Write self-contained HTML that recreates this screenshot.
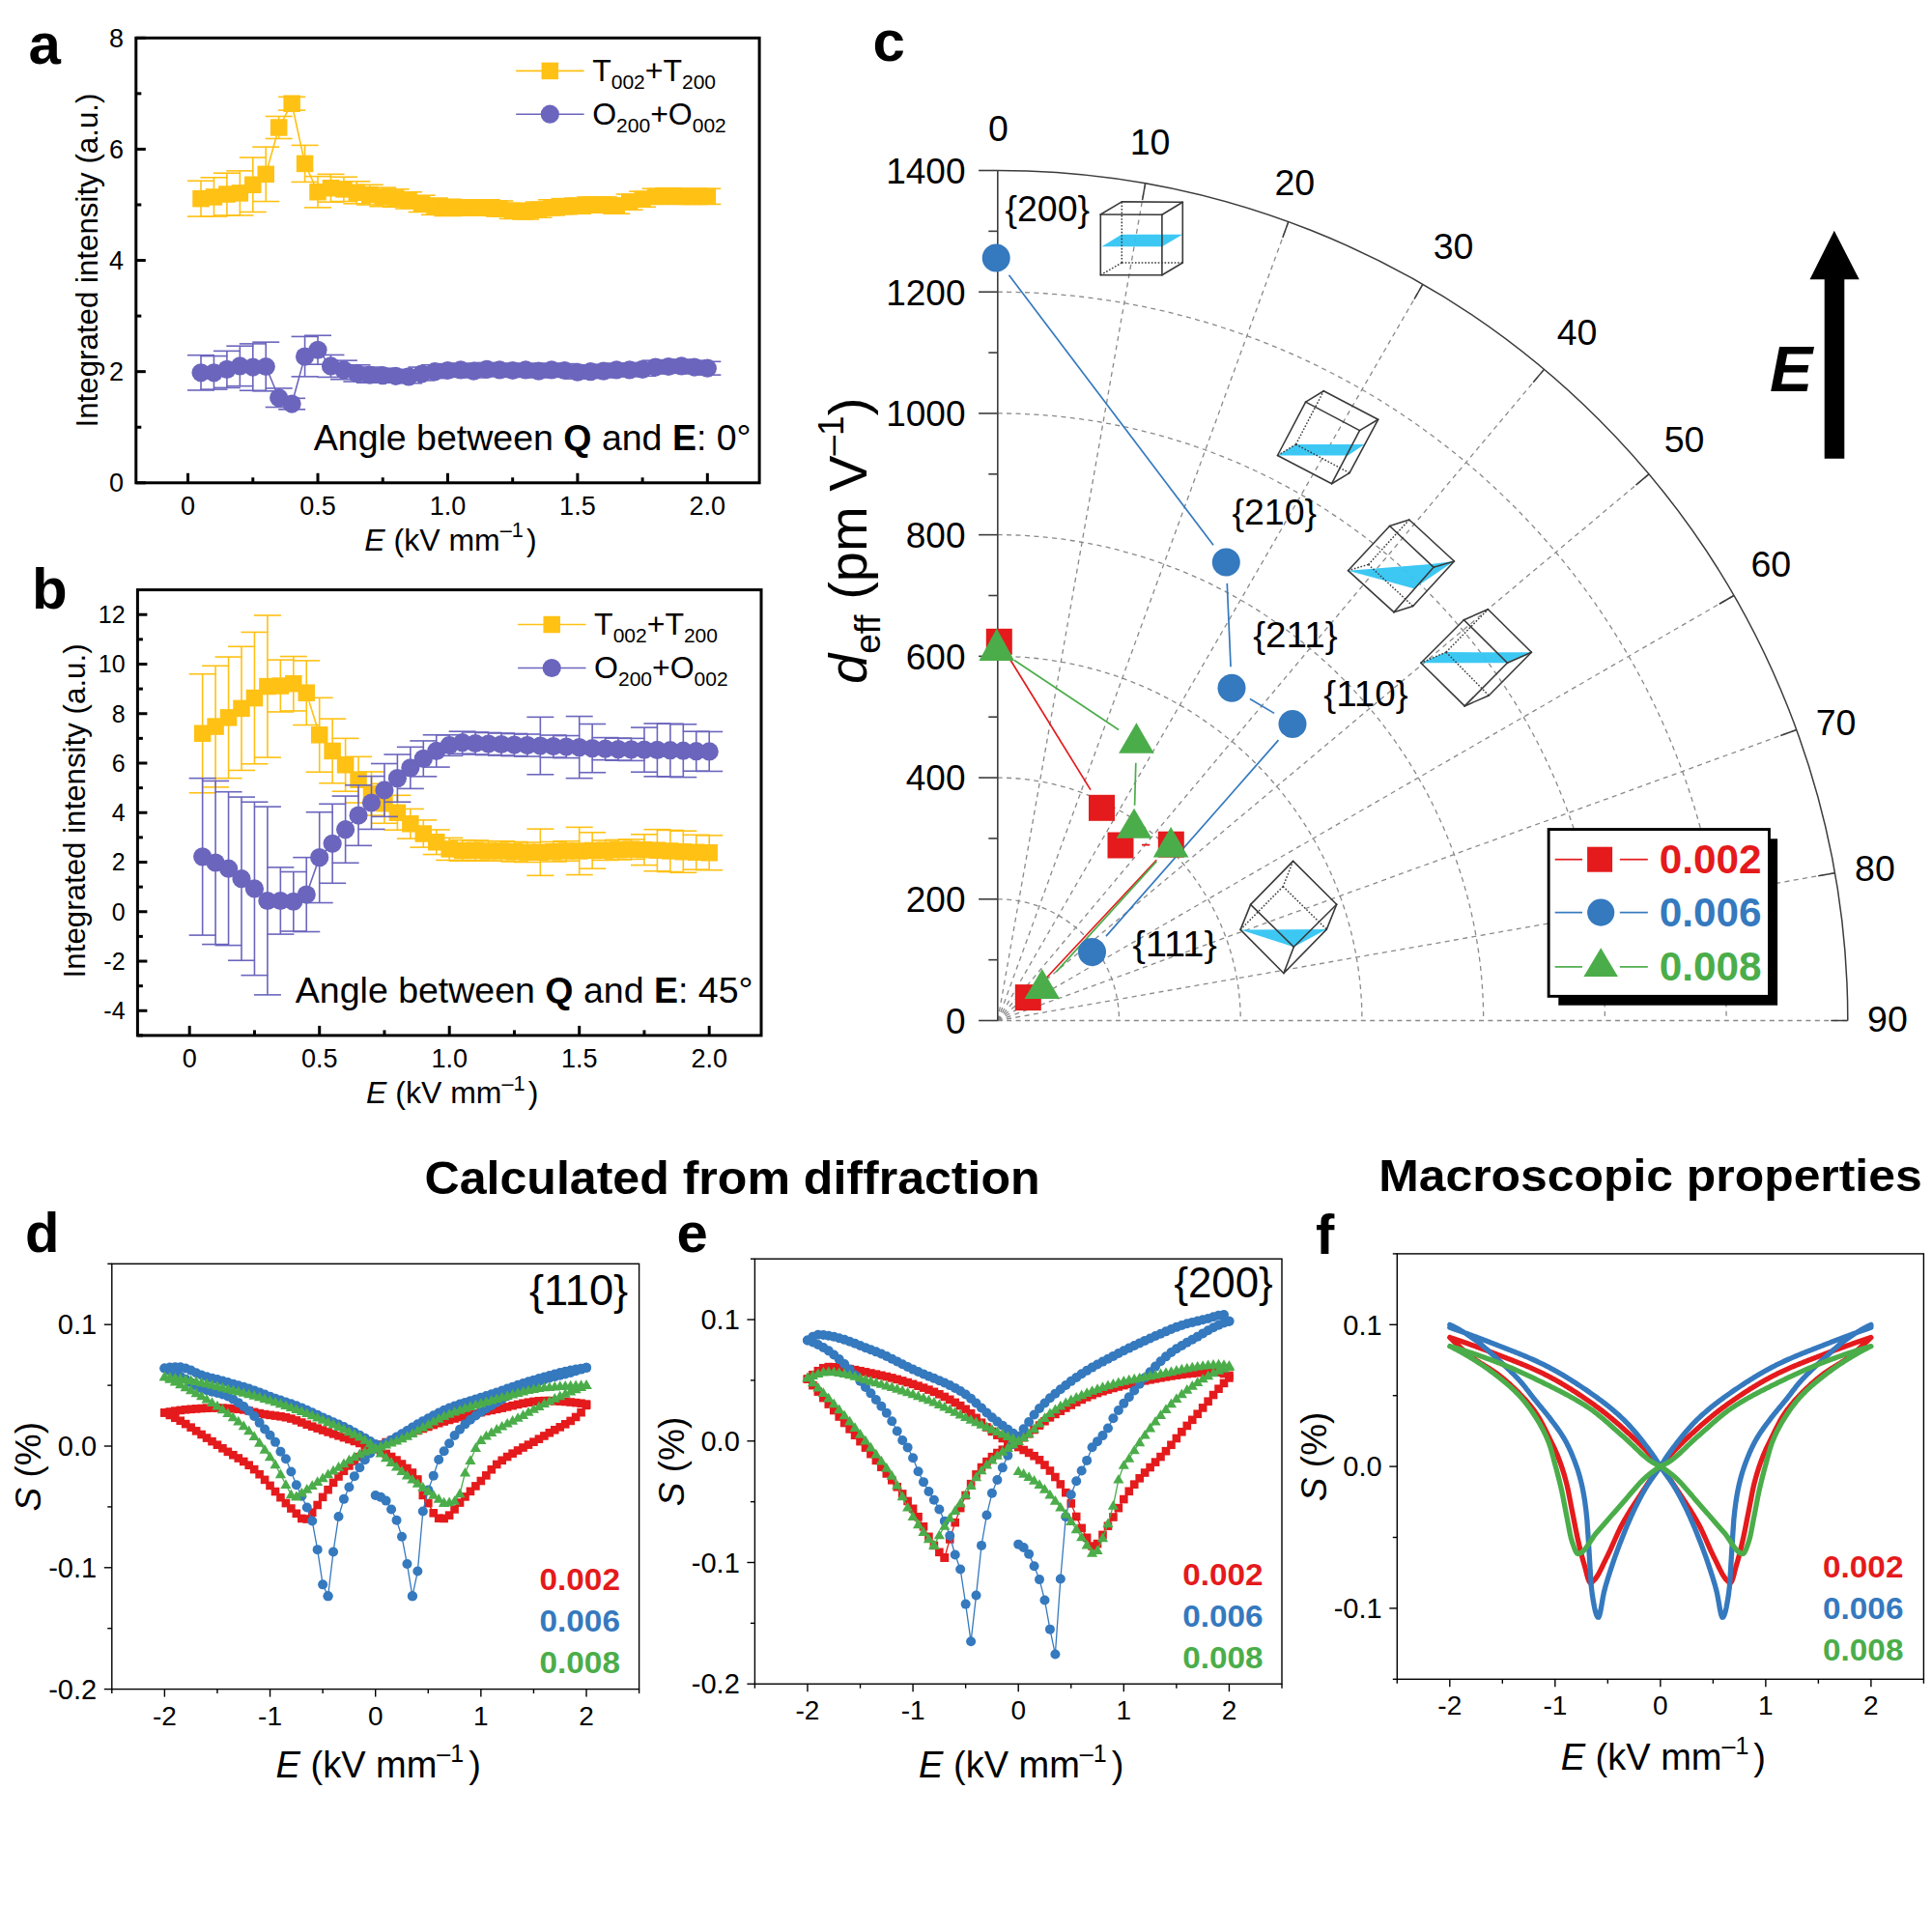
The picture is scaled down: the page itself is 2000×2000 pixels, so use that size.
<!DOCTYPE html>
<html><head><meta charset="utf-8"><title>Figure</title>
<style>html,body{margin:0;padding:0;background:#fff;width:2000px;height:2000px;overflow:hidden}svg{display:block}</style>
</head><body>
<svg xmlns="http://www.w3.org/2000/svg" width="2000" height="2000" viewBox="0 0 2000 2000" font-family='"Liberation Sans", Arial, Helvetica, sans-serif'>
<rect width="2000" height="2000" fill="#fff"/>
<polyline points="208.02,205.66 221.46,203.93 234.91,201.05 248.35,199.9 261.79,191.26 275.24,180.33 288.68,131.98 302.12,107.22 315.57,169.39 329.01,198.75 342.46,194.72 355.9,195.87 369.34,199.32 382.79,201.63 396.23,203.93 409.67,205.08 423.12,207.38 436.56,210.84 450.01,213.71 463.45,214.87 476.89,214.87 490.34,214.87 503.78,214.87 517.22,216.02 530.67,218.32 544.11,218.9 557.56,217.17 571,214.87 584.44,213.71 597.89,213.14 611.33,211.99 624.77,211.99 638.22,213.14 651.66,209.11 665.11,206.23 678.55,203.35 691.99,202.78 705.44,203.35 718.88,203.35 732.33,203.35" fill="none" stroke="#FFC114" stroke-width="1.6" stroke-linejoin="round"/>
<line x1="208.02" y1="187.24" x2="208.02" y2="224.08" stroke="#FFC114" stroke-width="1.6"/>
<line x1="194.02" y1="187.24" x2="222.02" y2="187.24" stroke="#FFC114" stroke-width="1.6"/>
<line x1="194.02" y1="224.08" x2="222.02" y2="224.08" stroke="#FFC114" stroke-width="1.6"/>
<line x1="221.46" y1="183.78" x2="221.46" y2="224.08" stroke="#FFC114" stroke-width="1.6"/>
<line x1="207.46" y1="183.78" x2="235.46" y2="183.78" stroke="#FFC114" stroke-width="1.6"/>
<line x1="207.46" y1="224.08" x2="235.46" y2="224.08" stroke="#FFC114" stroke-width="1.6"/>
<line x1="234.91" y1="179.18" x2="234.91" y2="222.92" stroke="#FFC114" stroke-width="1.6"/>
<line x1="220.91" y1="179.18" x2="248.91" y2="179.18" stroke="#FFC114" stroke-width="1.6"/>
<line x1="220.91" y1="222.92" x2="248.91" y2="222.92" stroke="#FFC114" stroke-width="1.6"/>
<line x1="248.35" y1="176.87" x2="248.35" y2="222.92" stroke="#FFC114" stroke-width="1.6"/>
<line x1="234.35" y1="176.87" x2="262.35" y2="176.87" stroke="#FFC114" stroke-width="1.6"/>
<line x1="234.35" y1="222.92" x2="262.35" y2="222.92" stroke="#FFC114" stroke-width="1.6"/>
<line x1="261.79" y1="163.06" x2="261.79" y2="219.47" stroke="#FFC114" stroke-width="1.6"/>
<line x1="247.79" y1="163.06" x2="275.79" y2="163.06" stroke="#FFC114" stroke-width="1.6"/>
<line x1="247.79" y1="219.47" x2="275.79" y2="219.47" stroke="#FFC114" stroke-width="1.6"/>
<line x1="275.24" y1="152.12" x2="275.24" y2="208.53" stroke="#FFC114" stroke-width="1.6"/>
<line x1="261.24" y1="152.12" x2="289.24" y2="152.12" stroke="#FFC114" stroke-width="1.6"/>
<line x1="261.24" y1="208.53" x2="289.24" y2="208.53" stroke="#FFC114" stroke-width="1.6"/>
<line x1="288.68" y1="120.46" x2="288.68" y2="143.49" stroke="#FFC114" stroke-width="1.6"/>
<line x1="274.68" y1="120.46" x2="302.68" y2="120.46" stroke="#FFC114" stroke-width="1.6"/>
<line x1="274.68" y1="143.49" x2="302.68" y2="143.49" stroke="#FFC114" stroke-width="1.6"/>
<line x1="302.12" y1="100.32" x2="302.12" y2="114.13" stroke="#FFC114" stroke-width="1.6"/>
<line x1="288.12" y1="100.32" x2="316.12" y2="100.32" stroke="#FFC114" stroke-width="1.6"/>
<line x1="288.12" y1="114.13" x2="316.12" y2="114.13" stroke="#FFC114" stroke-width="1.6"/>
<line x1="315.57" y1="150.4" x2="315.57" y2="188.39" stroke="#FFC114" stroke-width="1.6"/>
<line x1="301.57" y1="150.4" x2="329.57" y2="150.4" stroke="#FFC114" stroke-width="1.6"/>
<line x1="301.57" y1="188.39" x2="329.57" y2="188.39" stroke="#FFC114" stroke-width="1.6"/>
<line x1="329.01" y1="182.63" x2="329.01" y2="214.87" stroke="#FFC114" stroke-width="1.6"/>
<line x1="315.01" y1="182.63" x2="343.01" y2="182.63" stroke="#FFC114" stroke-width="1.6"/>
<line x1="315.01" y1="214.87" x2="343.01" y2="214.87" stroke="#FFC114" stroke-width="1.6"/>
<line x1="342.46" y1="180.33" x2="342.46" y2="209.11" stroke="#FFC114" stroke-width="1.6"/>
<line x1="328.46" y1="180.33" x2="356.46" y2="180.33" stroke="#FFC114" stroke-width="1.6"/>
<line x1="328.46" y1="209.11" x2="356.46" y2="209.11" stroke="#FFC114" stroke-width="1.6"/>
<line x1="355.9" y1="183.21" x2="355.9" y2="208.53" stroke="#FFC114" stroke-width="1.6"/>
<line x1="341.9" y1="183.21" x2="369.9" y2="183.21" stroke="#FFC114" stroke-width="1.6"/>
<line x1="341.9" y1="208.53" x2="369.9" y2="208.53" stroke="#FFC114" stroke-width="1.6"/>
<line x1="369.34" y1="187.81" x2="369.34" y2="210.84" stroke="#FFC114" stroke-width="1.6"/>
<line x1="355.34" y1="187.81" x2="383.34" y2="187.81" stroke="#FFC114" stroke-width="1.6"/>
<line x1="355.34" y1="210.84" x2="383.34" y2="210.84" stroke="#FFC114" stroke-width="1.6"/>
<line x1="382.79" y1="191.27" x2="382.79" y2="211.99" stroke="#FFC114" stroke-width="1.6"/>
<line x1="368.79" y1="191.27" x2="396.79" y2="191.27" stroke="#FFC114" stroke-width="1.6"/>
<line x1="368.79" y1="211.99" x2="396.79" y2="211.99" stroke="#FFC114" stroke-width="1.6"/>
<line x1="396.23" y1="194.14" x2="396.23" y2="213.71" stroke="#FFC114" stroke-width="1.6"/>
<line x1="382.23" y1="194.14" x2="410.23" y2="194.14" stroke="#FFC114" stroke-width="1.6"/>
<line x1="382.23" y1="213.71" x2="410.23" y2="213.71" stroke="#FFC114" stroke-width="1.6"/>
<line x1="409.67" y1="195.87" x2="409.67" y2="214.29" stroke="#FFC114" stroke-width="1.6"/>
<line x1="395.67" y1="195.87" x2="423.67" y2="195.87" stroke="#FFC114" stroke-width="1.6"/>
<line x1="395.67" y1="214.29" x2="423.67" y2="214.29" stroke="#FFC114" stroke-width="1.6"/>
<line x1="423.12" y1="198.75" x2="423.12" y2="216.02" stroke="#FFC114" stroke-width="1.6"/>
<line x1="409.12" y1="198.75" x2="437.12" y2="198.75" stroke="#FFC114" stroke-width="1.6"/>
<line x1="409.12" y1="216.02" x2="437.12" y2="216.02" stroke="#FFC114" stroke-width="1.6"/>
<line x1="436.56" y1="202.2" x2="436.56" y2="219.47" stroke="#FFC114" stroke-width="1.6"/>
<line x1="422.56" y1="202.2" x2="450.56" y2="202.2" stroke="#FFC114" stroke-width="1.6"/>
<line x1="422.56" y1="219.47" x2="450.56" y2="219.47" stroke="#FFC114" stroke-width="1.6"/>
<line x1="450.01" y1="205.08" x2="450.01" y2="222.35" stroke="#FFC114" stroke-width="1.6"/>
<line x1="436.01" y1="205.08" x2="464.01" y2="205.08" stroke="#FFC114" stroke-width="1.6"/>
<line x1="436.01" y1="222.35" x2="464.01" y2="222.35" stroke="#FFC114" stroke-width="1.6"/>
<line x1="463.45" y1="206.23" x2="463.45" y2="223.5" stroke="#FFC114" stroke-width="1.6"/>
<line x1="449.45" y1="206.23" x2="477.45" y2="206.23" stroke="#FFC114" stroke-width="1.6"/>
<line x1="449.45" y1="223.5" x2="477.45" y2="223.5" stroke="#FFC114" stroke-width="1.6"/>
<line x1="476.89" y1="206.81" x2="476.89" y2="222.92" stroke="#FFC114" stroke-width="1.6"/>
<line x1="462.89" y1="206.81" x2="490.89" y2="206.81" stroke="#FFC114" stroke-width="1.6"/>
<line x1="462.89" y1="222.92" x2="490.89" y2="222.92" stroke="#FFC114" stroke-width="1.6"/>
<line x1="490.34" y1="206.81" x2="490.34" y2="222.92" stroke="#FFC114" stroke-width="1.6"/>
<line x1="476.34" y1="206.81" x2="504.34" y2="206.81" stroke="#FFC114" stroke-width="1.6"/>
<line x1="476.34" y1="222.92" x2="504.34" y2="222.92" stroke="#FFC114" stroke-width="1.6"/>
<line x1="503.78" y1="206.81" x2="503.78" y2="222.92" stroke="#FFC114" stroke-width="1.6"/>
<line x1="489.78" y1="206.81" x2="517.78" y2="206.81" stroke="#FFC114" stroke-width="1.6"/>
<line x1="489.78" y1="222.92" x2="517.78" y2="222.92" stroke="#FFC114" stroke-width="1.6"/>
<line x1="517.22" y1="207.96" x2="517.22" y2="224.08" stroke="#FFC114" stroke-width="1.6"/>
<line x1="503.22" y1="207.96" x2="531.22" y2="207.96" stroke="#FFC114" stroke-width="1.6"/>
<line x1="503.22" y1="224.08" x2="531.22" y2="224.08" stroke="#FFC114" stroke-width="1.6"/>
<line x1="530.67" y1="210.26" x2="530.67" y2="226.38" stroke="#FFC114" stroke-width="1.6"/>
<line x1="516.67" y1="210.26" x2="544.67" y2="210.26" stroke="#FFC114" stroke-width="1.6"/>
<line x1="516.67" y1="226.38" x2="544.67" y2="226.38" stroke="#FFC114" stroke-width="1.6"/>
<line x1="544.11" y1="210.84" x2="544.11" y2="226.95" stroke="#FFC114" stroke-width="1.6"/>
<line x1="530.11" y1="210.84" x2="558.11" y2="210.84" stroke="#FFC114" stroke-width="1.6"/>
<line x1="530.11" y1="226.95" x2="558.11" y2="226.95" stroke="#FFC114" stroke-width="1.6"/>
<line x1="557.56" y1="209.11" x2="557.56" y2="225.23" stroke="#FFC114" stroke-width="1.6"/>
<line x1="543.56" y1="209.11" x2="571.56" y2="209.11" stroke="#FFC114" stroke-width="1.6"/>
<line x1="543.56" y1="225.23" x2="571.56" y2="225.23" stroke="#FFC114" stroke-width="1.6"/>
<line x1="571" y1="206.81" x2="571" y2="222.92" stroke="#FFC114" stroke-width="1.6"/>
<line x1="557" y1="206.81" x2="585" y2="206.81" stroke="#FFC114" stroke-width="1.6"/>
<line x1="557" y1="222.92" x2="585" y2="222.92" stroke="#FFC114" stroke-width="1.6"/>
<line x1="584.44" y1="205.66" x2="584.44" y2="221.77" stroke="#FFC114" stroke-width="1.6"/>
<line x1="570.44" y1="205.66" x2="598.44" y2="205.66" stroke="#FFC114" stroke-width="1.6"/>
<line x1="570.44" y1="221.77" x2="598.44" y2="221.77" stroke="#FFC114" stroke-width="1.6"/>
<line x1="597.89" y1="205.08" x2="597.89" y2="221.2" stroke="#FFC114" stroke-width="1.6"/>
<line x1="583.89" y1="205.08" x2="611.89" y2="205.08" stroke="#FFC114" stroke-width="1.6"/>
<line x1="583.89" y1="221.2" x2="611.89" y2="221.2" stroke="#FFC114" stroke-width="1.6"/>
<line x1="611.33" y1="203.93" x2="611.33" y2="220.05" stroke="#FFC114" stroke-width="1.6"/>
<line x1="597.33" y1="203.93" x2="625.33" y2="203.93" stroke="#FFC114" stroke-width="1.6"/>
<line x1="597.33" y1="220.05" x2="625.33" y2="220.05" stroke="#FFC114" stroke-width="1.6"/>
<line x1="624.77" y1="203.93" x2="624.77" y2="220.05" stroke="#FFC114" stroke-width="1.6"/>
<line x1="610.77" y1="203.93" x2="638.77" y2="203.93" stroke="#FFC114" stroke-width="1.6"/>
<line x1="610.77" y1="220.05" x2="638.77" y2="220.05" stroke="#FFC114" stroke-width="1.6"/>
<line x1="638.22" y1="205.08" x2="638.22" y2="221.2" stroke="#FFC114" stroke-width="1.6"/>
<line x1="624.22" y1="205.08" x2="652.22" y2="205.08" stroke="#FFC114" stroke-width="1.6"/>
<line x1="624.22" y1="221.2" x2="652.22" y2="221.2" stroke="#FFC114" stroke-width="1.6"/>
<line x1="651.66" y1="201.05" x2="651.66" y2="217.17" stroke="#FFC114" stroke-width="1.6"/>
<line x1="637.66" y1="201.05" x2="665.66" y2="201.05" stroke="#FFC114" stroke-width="1.6"/>
<line x1="637.66" y1="217.17" x2="665.66" y2="217.17" stroke="#FFC114" stroke-width="1.6"/>
<line x1="665.11" y1="198.17" x2="665.11" y2="214.29" stroke="#FFC114" stroke-width="1.6"/>
<line x1="651.11" y1="198.17" x2="679.11" y2="198.17" stroke="#FFC114" stroke-width="1.6"/>
<line x1="651.11" y1="214.29" x2="679.11" y2="214.29" stroke="#FFC114" stroke-width="1.6"/>
<line x1="678.55" y1="195.29" x2="678.55" y2="211.41" stroke="#FFC114" stroke-width="1.6"/>
<line x1="664.55" y1="195.29" x2="692.55" y2="195.29" stroke="#FFC114" stroke-width="1.6"/>
<line x1="664.55" y1="211.41" x2="692.55" y2="211.41" stroke="#FFC114" stroke-width="1.6"/>
<line x1="691.99" y1="194.72" x2="691.99" y2="210.84" stroke="#FFC114" stroke-width="1.6"/>
<line x1="677.99" y1="194.72" x2="705.99" y2="194.72" stroke="#FFC114" stroke-width="1.6"/>
<line x1="677.99" y1="210.84" x2="705.99" y2="210.84" stroke="#FFC114" stroke-width="1.6"/>
<line x1="705.44" y1="195.29" x2="705.44" y2="211.41" stroke="#FFC114" stroke-width="1.6"/>
<line x1="691.44" y1="195.29" x2="719.44" y2="195.29" stroke="#FFC114" stroke-width="1.6"/>
<line x1="691.44" y1="211.41" x2="719.44" y2="211.41" stroke="#FFC114" stroke-width="1.6"/>
<line x1="718.88" y1="195.29" x2="718.88" y2="211.41" stroke="#FFC114" stroke-width="1.6"/>
<line x1="704.88" y1="195.29" x2="732.88" y2="195.29" stroke="#FFC114" stroke-width="1.6"/>
<line x1="704.88" y1="211.41" x2="732.88" y2="211.41" stroke="#FFC114" stroke-width="1.6"/>
<line x1="732.33" y1="195.29" x2="732.33" y2="211.41" stroke="#FFC114" stroke-width="1.6"/>
<line x1="718.33" y1="195.29" x2="746.33" y2="195.29" stroke="#FFC114" stroke-width="1.6"/>
<line x1="718.33" y1="211.41" x2="746.33" y2="211.41" stroke="#FFC114" stroke-width="1.6"/>
<rect x="199.27" y="196.91" width="17.5" height="17.5" fill="#FFC114" stroke="none" stroke-width="0"/>
<rect x="212.71" y="195.18" width="17.5" height="17.5" fill="#FFC114" stroke="none" stroke-width="0"/>
<rect x="226.16" y="192.3" width="17.5" height="17.5" fill="#FFC114" stroke="none" stroke-width="0"/>
<rect x="239.6" y="191.15" width="17.5" height="17.5" fill="#FFC114" stroke="none" stroke-width="0"/>
<rect x="253.04" y="182.51" width="17.5" height="17.5" fill="#FFC114" stroke="none" stroke-width="0"/>
<rect x="266.49" y="171.58" width="17.5" height="17.5" fill="#FFC114" stroke="none" stroke-width="0"/>
<rect x="279.93" y="123.23" width="17.5" height="17.5" fill="#FFC114" stroke="none" stroke-width="0"/>
<rect x="293.38" y="98.47" width="17.5" height="17.5" fill="#FFC114" stroke="none" stroke-width="0"/>
<rect x="306.82" y="160.64" width="17.5" height="17.5" fill="#FFC114" stroke="none" stroke-width="0"/>
<rect x="320.26" y="190" width="17.5" height="17.5" fill="#FFC114" stroke="none" stroke-width="0"/>
<rect x="333.71" y="185.97" width="17.5" height="17.5" fill="#FFC114" stroke="none" stroke-width="0"/>
<rect x="347.15" y="187.12" width="17.5" height="17.5" fill="#FFC114" stroke="none" stroke-width="0"/>
<rect x="360.59" y="190.57" width="17.5" height="17.5" fill="#FFC114" stroke="none" stroke-width="0"/>
<rect x="374.04" y="192.88" width="17.5" height="17.5" fill="#FFC114" stroke="none" stroke-width="0"/>
<rect x="387.48" y="195.18" width="17.5" height="17.5" fill="#FFC114" stroke="none" stroke-width="0"/>
<rect x="400.92" y="196.33" width="17.5" height="17.5" fill="#FFC114" stroke="none" stroke-width="0"/>
<rect x="414.37" y="198.63" width="17.5" height="17.5" fill="#FFC114" stroke="none" stroke-width="0"/>
<rect x="427.81" y="202.09" width="17.5" height="17.5" fill="#FFC114" stroke="none" stroke-width="0"/>
<rect x="441.26" y="204.96" width="17.5" height="17.5" fill="#FFC114" stroke="none" stroke-width="0"/>
<rect x="454.7" y="206.12" width="17.5" height="17.5" fill="#FFC114" stroke="none" stroke-width="0"/>
<rect x="468.14" y="206.12" width="17.5" height="17.5" fill="#FFC114" stroke="none" stroke-width="0"/>
<rect x="481.59" y="206.12" width="17.5" height="17.5" fill="#FFC114" stroke="none" stroke-width="0"/>
<rect x="495.03" y="206.12" width="17.5" height="17.5" fill="#FFC114" stroke="none" stroke-width="0"/>
<rect x="508.47" y="207.27" width="17.5" height="17.5" fill="#FFC114" stroke="none" stroke-width="0"/>
<rect x="521.92" y="209.57" width="17.5" height="17.5" fill="#FFC114" stroke="none" stroke-width="0"/>
<rect x="535.36" y="210.15" width="17.5" height="17.5" fill="#FFC114" stroke="none" stroke-width="0"/>
<rect x="548.81" y="208.42" width="17.5" height="17.5" fill="#FFC114" stroke="none" stroke-width="0"/>
<rect x="562.25" y="206.12" width="17.5" height="17.5" fill="#FFC114" stroke="none" stroke-width="0"/>
<rect x="575.69" y="204.96" width="17.5" height="17.5" fill="#FFC114" stroke="none" stroke-width="0"/>
<rect x="589.14" y="204.39" width="17.5" height="17.5" fill="#FFC114" stroke="none" stroke-width="0"/>
<rect x="602.58" y="203.24" width="17.5" height="17.5" fill="#FFC114" stroke="none" stroke-width="0"/>
<rect x="616.02" y="203.24" width="17.5" height="17.5" fill="#FFC114" stroke="none" stroke-width="0"/>
<rect x="629.47" y="204.39" width="17.5" height="17.5" fill="#FFC114" stroke="none" stroke-width="0"/>
<rect x="642.91" y="200.36" width="17.5" height="17.5" fill="#FFC114" stroke="none" stroke-width="0"/>
<rect x="656.36" y="197.48" width="17.5" height="17.5" fill="#FFC114" stroke="none" stroke-width="0"/>
<rect x="669.8" y="194.6" width="17.5" height="17.5" fill="#FFC114" stroke="none" stroke-width="0"/>
<rect x="683.24" y="194.03" width="17.5" height="17.5" fill="#FFC114" stroke="none" stroke-width="0"/>
<rect x="696.69" y="194.6" width="17.5" height="17.5" fill="#FFC114" stroke="none" stroke-width="0"/>
<rect x="710.13" y="194.6" width="17.5" height="17.5" fill="#FFC114" stroke="none" stroke-width="0"/>
<rect x="723.58" y="194.6" width="17.5" height="17.5" fill="#FFC114" stroke="none" stroke-width="0"/>
<polyline points="208.02,385.83 221.46,385.83 234.91,382.37 248.35,378.92 261.79,380.07 275.24,379.49 288.68,411.73 302.12,418.06 315.57,369.13 329.01,362.23 342.46,378.92 355.9,382.95 369.34,386.4 382.79,388.13 396.23,388.7 409.67,389.28 423.12,389.86 436.56,386.98 450.01,384.68 463.45,383.52 476.89,382.95 490.34,384.1 503.78,382.37 517.22,382.95 530.67,383.52 544.11,382.95 557.56,384.1 571,382.95 584.44,383.52 597.89,385.25 611.33,384.68 624.77,384.1 638.22,382.95 651.66,382.95 665.11,382.37 678.55,380.07 691.99,379.49 705.44,378.92 718.88,380.07 732.33,381.22" fill="none" stroke="#6B65BD" stroke-width="1.6" stroke-linejoin="round"/>
<line x1="208.02" y1="367.69" x2="208.02" y2="403.96" stroke="#6B65BD" stroke-width="1.6"/>
<line x1="194.02" y1="367.69" x2="222.02" y2="367.69" stroke="#6B65BD" stroke-width="1.6"/>
<line x1="194.02" y1="403.96" x2="222.02" y2="403.96" stroke="#6B65BD" stroke-width="1.6"/>
<line x1="221.46" y1="368.56" x2="221.46" y2="403.1" stroke="#6B65BD" stroke-width="1.6"/>
<line x1="207.46" y1="368.56" x2="235.46" y2="368.56" stroke="#6B65BD" stroke-width="1.6"/>
<line x1="207.46" y1="403.1" x2="235.46" y2="403.1" stroke="#6B65BD" stroke-width="1.6"/>
<line x1="234.91" y1="363.38" x2="234.91" y2="401.37" stroke="#6B65BD" stroke-width="1.6"/>
<line x1="220.91" y1="363.38" x2="248.91" y2="363.38" stroke="#6B65BD" stroke-width="1.6"/>
<line x1="220.91" y1="401.37" x2="248.91" y2="401.37" stroke="#6B65BD" stroke-width="1.6"/>
<line x1="248.35" y1="358.2" x2="248.35" y2="399.64" stroke="#6B65BD" stroke-width="1.6"/>
<line x1="234.35" y1="358.2" x2="262.35" y2="358.2" stroke="#6B65BD" stroke-width="1.6"/>
<line x1="234.35" y1="399.64" x2="262.35" y2="399.64" stroke="#6B65BD" stroke-width="1.6"/>
<line x1="261.79" y1="355.89" x2="261.79" y2="404.25" stroke="#6B65BD" stroke-width="1.6"/>
<line x1="247.79" y1="355.89" x2="275.79" y2="355.89" stroke="#6B65BD" stroke-width="1.6"/>
<line x1="247.79" y1="404.25" x2="275.79" y2="404.25" stroke="#6B65BD" stroke-width="1.6"/>
<line x1="275.24" y1="354.17" x2="275.24" y2="404.82" stroke="#6B65BD" stroke-width="1.6"/>
<line x1="261.24" y1="354.17" x2="289.24" y2="354.17" stroke="#6B65BD" stroke-width="1.6"/>
<line x1="261.24" y1="404.82" x2="289.24" y2="404.82" stroke="#6B65BD" stroke-width="1.6"/>
<line x1="288.68" y1="401.94" x2="288.68" y2="421.51" stroke="#6B65BD" stroke-width="1.6"/>
<line x1="274.68" y1="401.94" x2="302.68" y2="401.94" stroke="#6B65BD" stroke-width="1.6"/>
<line x1="274.68" y1="421.51" x2="302.68" y2="421.51" stroke="#6B65BD" stroke-width="1.6"/>
<line x1="302.12" y1="412.31" x2="302.12" y2="423.82" stroke="#6B65BD" stroke-width="1.6"/>
<line x1="288.12" y1="412.31" x2="316.12" y2="412.31" stroke="#6B65BD" stroke-width="1.6"/>
<line x1="288.12" y1="423.82" x2="316.12" y2="423.82" stroke="#6B65BD" stroke-width="1.6"/>
<line x1="315.57" y1="348.41" x2="315.57" y2="389.86" stroke="#6B65BD" stroke-width="1.6"/>
<line x1="301.57" y1="348.41" x2="329.57" y2="348.41" stroke="#6B65BD" stroke-width="1.6"/>
<line x1="301.57" y1="389.86" x2="329.57" y2="389.86" stroke="#6B65BD" stroke-width="1.6"/>
<line x1="329.01" y1="347.26" x2="329.01" y2="377.19" stroke="#6B65BD" stroke-width="1.6"/>
<line x1="315.01" y1="347.26" x2="343.01" y2="347.26" stroke="#6B65BD" stroke-width="1.6"/>
<line x1="315.01" y1="377.19" x2="343.01" y2="377.19" stroke="#6B65BD" stroke-width="1.6"/>
<line x1="342.46" y1="367.41" x2="342.46" y2="390.43" stroke="#6B65BD" stroke-width="1.6"/>
<line x1="328.46" y1="367.41" x2="356.46" y2="367.41" stroke="#6B65BD" stroke-width="1.6"/>
<line x1="328.46" y1="390.43" x2="356.46" y2="390.43" stroke="#6B65BD" stroke-width="1.6"/>
<line x1="355.9" y1="373.16" x2="355.9" y2="392.73" stroke="#6B65BD" stroke-width="1.6"/>
<line x1="341.9" y1="373.16" x2="369.9" y2="373.16" stroke="#6B65BD" stroke-width="1.6"/>
<line x1="341.9" y1="392.73" x2="369.9" y2="392.73" stroke="#6B65BD" stroke-width="1.6"/>
<line x1="369.34" y1="377.77" x2="369.34" y2="395.04" stroke="#6B65BD" stroke-width="1.6"/>
<line x1="355.34" y1="377.77" x2="383.34" y2="377.77" stroke="#6B65BD" stroke-width="1.6"/>
<line x1="355.34" y1="395.04" x2="383.34" y2="395.04" stroke="#6B65BD" stroke-width="1.6"/>
<line x1="382.79" y1="380.07" x2="382.79" y2="396.19" stroke="#6B65BD" stroke-width="1.6"/>
<line x1="368.79" y1="380.07" x2="396.79" y2="380.07" stroke="#6B65BD" stroke-width="1.6"/>
<line x1="368.79" y1="396.19" x2="396.79" y2="396.19" stroke="#6B65BD" stroke-width="1.6"/>
<line x1="396.23" y1="381.22" x2="396.23" y2="396.19" stroke="#6B65BD" stroke-width="1.6"/>
<line x1="382.23" y1="381.22" x2="410.23" y2="381.22" stroke="#6B65BD" stroke-width="1.6"/>
<line x1="382.23" y1="396.19" x2="410.23" y2="396.19" stroke="#6B65BD" stroke-width="1.6"/>
<line x1="409.67" y1="382.37" x2="409.67" y2="396.19" stroke="#6B65BD" stroke-width="1.6"/>
<line x1="395.67" y1="382.37" x2="423.67" y2="382.37" stroke="#6B65BD" stroke-width="1.6"/>
<line x1="395.67" y1="396.19" x2="423.67" y2="396.19" stroke="#6B65BD" stroke-width="1.6"/>
<line x1="423.12" y1="382.95" x2="423.12" y2="396.76" stroke="#6B65BD" stroke-width="1.6"/>
<line x1="409.12" y1="382.95" x2="437.12" y2="382.95" stroke="#6B65BD" stroke-width="1.6"/>
<line x1="409.12" y1="396.76" x2="437.12" y2="396.76" stroke="#6B65BD" stroke-width="1.6"/>
<line x1="436.56" y1="380.07" x2="436.56" y2="393.89" stroke="#6B65BD" stroke-width="1.6"/>
<line x1="422.56" y1="380.07" x2="450.56" y2="380.07" stroke="#6B65BD" stroke-width="1.6"/>
<line x1="422.56" y1="393.89" x2="450.56" y2="393.89" stroke="#6B65BD" stroke-width="1.6"/>
<line x1="450.01" y1="377.77" x2="450.01" y2="391.58" stroke="#6B65BD" stroke-width="1.6"/>
<line x1="436.01" y1="377.77" x2="464.01" y2="377.77" stroke="#6B65BD" stroke-width="1.6"/>
<line x1="436.01" y1="391.58" x2="464.01" y2="391.58" stroke="#6B65BD" stroke-width="1.6"/>
<line x1="463.45" y1="376.62" x2="463.45" y2="390.43" stroke="#6B65BD" stroke-width="1.6"/>
<line x1="449.45" y1="376.62" x2="477.45" y2="376.62" stroke="#6B65BD" stroke-width="1.6"/>
<line x1="449.45" y1="390.43" x2="477.45" y2="390.43" stroke="#6B65BD" stroke-width="1.6"/>
<line x1="476.89" y1="376.04" x2="476.89" y2="389.86" stroke="#6B65BD" stroke-width="1.6"/>
<line x1="462.89" y1="376.04" x2="490.89" y2="376.04" stroke="#6B65BD" stroke-width="1.6"/>
<line x1="462.89" y1="389.86" x2="490.89" y2="389.86" stroke="#6B65BD" stroke-width="1.6"/>
<line x1="490.34" y1="377.19" x2="490.34" y2="391.01" stroke="#6B65BD" stroke-width="1.6"/>
<line x1="476.34" y1="377.19" x2="504.34" y2="377.19" stroke="#6B65BD" stroke-width="1.6"/>
<line x1="476.34" y1="391.01" x2="504.34" y2="391.01" stroke="#6B65BD" stroke-width="1.6"/>
<line x1="503.78" y1="375.46" x2="503.78" y2="389.28" stroke="#6B65BD" stroke-width="1.6"/>
<line x1="489.78" y1="375.46" x2="517.78" y2="375.46" stroke="#6B65BD" stroke-width="1.6"/>
<line x1="489.78" y1="389.28" x2="517.78" y2="389.28" stroke="#6B65BD" stroke-width="1.6"/>
<line x1="517.22" y1="376.04" x2="517.22" y2="389.86" stroke="#6B65BD" stroke-width="1.6"/>
<line x1="503.22" y1="376.04" x2="531.22" y2="376.04" stroke="#6B65BD" stroke-width="1.6"/>
<line x1="503.22" y1="389.86" x2="531.22" y2="389.86" stroke="#6B65BD" stroke-width="1.6"/>
<line x1="530.67" y1="376.62" x2="530.67" y2="390.43" stroke="#6B65BD" stroke-width="1.6"/>
<line x1="516.67" y1="376.62" x2="544.67" y2="376.62" stroke="#6B65BD" stroke-width="1.6"/>
<line x1="516.67" y1="390.43" x2="544.67" y2="390.43" stroke="#6B65BD" stroke-width="1.6"/>
<line x1="544.11" y1="376.04" x2="544.11" y2="389.86" stroke="#6B65BD" stroke-width="1.6"/>
<line x1="530.11" y1="376.04" x2="558.11" y2="376.04" stroke="#6B65BD" stroke-width="1.6"/>
<line x1="530.11" y1="389.86" x2="558.11" y2="389.86" stroke="#6B65BD" stroke-width="1.6"/>
<line x1="557.56" y1="377.19" x2="557.56" y2="391.01" stroke="#6B65BD" stroke-width="1.6"/>
<line x1="543.56" y1="377.19" x2="571.56" y2="377.19" stroke="#6B65BD" stroke-width="1.6"/>
<line x1="543.56" y1="391.01" x2="571.56" y2="391.01" stroke="#6B65BD" stroke-width="1.6"/>
<line x1="571" y1="376.04" x2="571" y2="389.86" stroke="#6B65BD" stroke-width="1.6"/>
<line x1="557" y1="376.04" x2="585" y2="376.04" stroke="#6B65BD" stroke-width="1.6"/>
<line x1="557" y1="389.86" x2="585" y2="389.86" stroke="#6B65BD" stroke-width="1.6"/>
<line x1="584.44" y1="376.62" x2="584.44" y2="390.43" stroke="#6B65BD" stroke-width="1.6"/>
<line x1="570.44" y1="376.62" x2="598.44" y2="376.62" stroke="#6B65BD" stroke-width="1.6"/>
<line x1="570.44" y1="390.43" x2="598.44" y2="390.43" stroke="#6B65BD" stroke-width="1.6"/>
<line x1="597.89" y1="378.34" x2="597.89" y2="392.16" stroke="#6B65BD" stroke-width="1.6"/>
<line x1="583.89" y1="378.34" x2="611.89" y2="378.34" stroke="#6B65BD" stroke-width="1.6"/>
<line x1="583.89" y1="392.16" x2="611.89" y2="392.16" stroke="#6B65BD" stroke-width="1.6"/>
<line x1="611.33" y1="377.77" x2="611.33" y2="391.58" stroke="#6B65BD" stroke-width="1.6"/>
<line x1="597.33" y1="377.77" x2="625.33" y2="377.77" stroke="#6B65BD" stroke-width="1.6"/>
<line x1="597.33" y1="391.58" x2="625.33" y2="391.58" stroke="#6B65BD" stroke-width="1.6"/>
<line x1="624.77" y1="377.19" x2="624.77" y2="391.01" stroke="#6B65BD" stroke-width="1.6"/>
<line x1="610.77" y1="377.19" x2="638.77" y2="377.19" stroke="#6B65BD" stroke-width="1.6"/>
<line x1="610.77" y1="391.01" x2="638.77" y2="391.01" stroke="#6B65BD" stroke-width="1.6"/>
<line x1="638.22" y1="376.04" x2="638.22" y2="389.86" stroke="#6B65BD" stroke-width="1.6"/>
<line x1="624.22" y1="376.04" x2="652.22" y2="376.04" stroke="#6B65BD" stroke-width="1.6"/>
<line x1="624.22" y1="389.86" x2="652.22" y2="389.86" stroke="#6B65BD" stroke-width="1.6"/>
<line x1="651.66" y1="376.04" x2="651.66" y2="389.86" stroke="#6B65BD" stroke-width="1.6"/>
<line x1="637.66" y1="376.04" x2="665.66" y2="376.04" stroke="#6B65BD" stroke-width="1.6"/>
<line x1="637.66" y1="389.86" x2="665.66" y2="389.86" stroke="#6B65BD" stroke-width="1.6"/>
<line x1="665.11" y1="375.46" x2="665.11" y2="389.28" stroke="#6B65BD" stroke-width="1.6"/>
<line x1="651.11" y1="375.46" x2="679.11" y2="375.46" stroke="#6B65BD" stroke-width="1.6"/>
<line x1="651.11" y1="389.28" x2="679.11" y2="389.28" stroke="#6B65BD" stroke-width="1.6"/>
<line x1="678.55" y1="373.16" x2="678.55" y2="386.98" stroke="#6B65BD" stroke-width="1.6"/>
<line x1="664.55" y1="373.16" x2="692.55" y2="373.16" stroke="#6B65BD" stroke-width="1.6"/>
<line x1="664.55" y1="386.98" x2="692.55" y2="386.98" stroke="#6B65BD" stroke-width="1.6"/>
<line x1="691.99" y1="372.59" x2="691.99" y2="386.4" stroke="#6B65BD" stroke-width="1.6"/>
<line x1="677.99" y1="372.59" x2="705.99" y2="372.59" stroke="#6B65BD" stroke-width="1.6"/>
<line x1="677.99" y1="386.4" x2="705.99" y2="386.4" stroke="#6B65BD" stroke-width="1.6"/>
<line x1="705.44" y1="372.01" x2="705.44" y2="385.83" stroke="#6B65BD" stroke-width="1.6"/>
<line x1="691.44" y1="372.01" x2="719.44" y2="372.01" stroke="#6B65BD" stroke-width="1.6"/>
<line x1="691.44" y1="385.83" x2="719.44" y2="385.83" stroke="#6B65BD" stroke-width="1.6"/>
<line x1="718.88" y1="373.16" x2="718.88" y2="386.98" stroke="#6B65BD" stroke-width="1.6"/>
<line x1="704.88" y1="373.16" x2="732.88" y2="373.16" stroke="#6B65BD" stroke-width="1.6"/>
<line x1="704.88" y1="386.98" x2="732.88" y2="386.98" stroke="#6B65BD" stroke-width="1.6"/>
<line x1="732.33" y1="374.31" x2="732.33" y2="388.13" stroke="#6B65BD" stroke-width="1.6"/>
<line x1="718.33" y1="374.31" x2="746.33" y2="374.31" stroke="#6B65BD" stroke-width="1.6"/>
<line x1="718.33" y1="388.13" x2="746.33" y2="388.13" stroke="#6B65BD" stroke-width="1.6"/>
<circle cx="208.02" cy="385.83" r="9.6" fill="#6B65BD"/>
<circle cx="221.46" cy="385.83" r="9.6" fill="#6B65BD"/>
<circle cx="234.91" cy="382.37" r="9.6" fill="#6B65BD"/>
<circle cx="248.35" cy="378.92" r="9.6" fill="#6B65BD"/>
<circle cx="261.79" cy="380.07" r="9.6" fill="#6B65BD"/>
<circle cx="275.24" cy="379.49" r="9.6" fill="#6B65BD"/>
<circle cx="288.68" cy="411.73" r="9.6" fill="#6B65BD"/>
<circle cx="302.12" cy="418.06" r="9.6" fill="#6B65BD"/>
<circle cx="315.57" cy="369.13" r="9.6" fill="#6B65BD"/>
<circle cx="329.01" cy="362.23" r="9.6" fill="#6B65BD"/>
<circle cx="342.46" cy="378.92" r="9.6" fill="#6B65BD"/>
<circle cx="355.9" cy="382.95" r="9.6" fill="#6B65BD"/>
<circle cx="369.34" cy="386.4" r="9.6" fill="#6B65BD"/>
<circle cx="382.79" cy="388.13" r="9.6" fill="#6B65BD"/>
<circle cx="396.23" cy="388.7" r="9.6" fill="#6B65BD"/>
<circle cx="409.67" cy="389.28" r="9.6" fill="#6B65BD"/>
<circle cx="423.12" cy="389.86" r="9.6" fill="#6B65BD"/>
<circle cx="436.56" cy="386.98" r="9.6" fill="#6B65BD"/>
<circle cx="450.01" cy="384.68" r="9.6" fill="#6B65BD"/>
<circle cx="463.45" cy="383.52" r="9.6" fill="#6B65BD"/>
<circle cx="476.89" cy="382.95" r="9.6" fill="#6B65BD"/>
<circle cx="490.34" cy="384.1" r="9.6" fill="#6B65BD"/>
<circle cx="503.78" cy="382.37" r="9.6" fill="#6B65BD"/>
<circle cx="517.22" cy="382.95" r="9.6" fill="#6B65BD"/>
<circle cx="530.67" cy="383.52" r="9.6" fill="#6B65BD"/>
<circle cx="544.11" cy="382.95" r="9.6" fill="#6B65BD"/>
<circle cx="557.56" cy="384.1" r="9.6" fill="#6B65BD"/>
<circle cx="571" cy="382.95" r="9.6" fill="#6B65BD"/>
<circle cx="584.44" cy="383.52" r="9.6" fill="#6B65BD"/>
<circle cx="597.89" cy="385.25" r="9.6" fill="#6B65BD"/>
<circle cx="611.33" cy="384.68" r="9.6" fill="#6B65BD"/>
<circle cx="624.77" cy="384.1" r="9.6" fill="#6B65BD"/>
<circle cx="638.22" cy="382.95" r="9.6" fill="#6B65BD"/>
<circle cx="651.66" cy="382.95" r="9.6" fill="#6B65BD"/>
<circle cx="665.11" cy="382.37" r="9.6" fill="#6B65BD"/>
<circle cx="678.55" cy="380.07" r="9.6" fill="#6B65BD"/>
<circle cx="691.99" cy="379.49" r="9.6" fill="#6B65BD"/>
<circle cx="705.44" cy="378.92" r="9.6" fill="#6B65BD"/>
<circle cx="718.88" cy="380.07" r="9.6" fill="#6B65BD"/>
<circle cx="732.33" cy="381.22" r="9.6" fill="#6B65BD"/>
<rect x="140.8" y="39.3" width="645.3" height="460.5" fill="none" stroke="#000" stroke-width="3"/>
<line x1="140.8" y1="499.8" x2="150.8" y2="499.8" stroke="#000" stroke-width="3"/>
<line x1="140.8" y1="384.68" x2="150.8" y2="384.68" stroke="#000" stroke-width="3"/>
<line x1="140.8" y1="269.55" x2="150.8" y2="269.55" stroke="#000" stroke-width="3"/>
<line x1="140.8" y1="154.43" x2="150.8" y2="154.43" stroke="#000" stroke-width="3"/>
<line x1="140.8" y1="39.3" x2="150.8" y2="39.3" stroke="#000" stroke-width="3"/>
<line x1="140.8" y1="442.24" x2="146.3" y2="442.24" stroke="#000" stroke-width="3"/>
<line x1="140.8" y1="327.11" x2="146.3" y2="327.11" stroke="#000" stroke-width="3"/>
<line x1="140.8" y1="211.99" x2="146.3" y2="211.99" stroke="#000" stroke-width="3"/>
<line x1="140.8" y1="96.86" x2="146.3" y2="96.86" stroke="#000" stroke-width="3"/>
<line x1="194.57" y1="499.8" x2="194.57" y2="489.8" stroke="#000" stroke-width="3"/>
<line x1="329.01" y1="499.8" x2="329.01" y2="489.8" stroke="#000" stroke-width="3"/>
<line x1="463.45" y1="499.8" x2="463.45" y2="489.8" stroke="#000" stroke-width="3"/>
<line x1="597.89" y1="499.8" x2="597.89" y2="489.8" stroke="#000" stroke-width="3"/>
<line x1="732.33" y1="499.8" x2="732.33" y2="489.8" stroke="#000" stroke-width="3"/>
<line x1="261.79" y1="499.8" x2="261.79" y2="494.3" stroke="#000" stroke-width="3"/>
<line x1="396.23" y1="499.8" x2="396.23" y2="494.3" stroke="#000" stroke-width="3"/>
<line x1="530.67" y1="499.8" x2="530.67" y2="494.3" stroke="#000" stroke-width="3"/>
<line x1="665.11" y1="499.8" x2="665.11" y2="494.3" stroke="#000" stroke-width="3"/>
<text x="128" y="509.47" font-size="27" text-anchor="end">0</text>
<text x="128" y="394.34" font-size="27" text-anchor="end">2</text>
<text x="128" y="279.22" font-size="27" text-anchor="end">4</text>
<text x="128" y="164.09" font-size="27" text-anchor="end">6</text>
<text x="128" y="48.97" font-size="27" text-anchor="end">8</text>
<text x="194.57" y="533.3" font-size="27" text-anchor="middle">0</text>
<text x="329.01" y="533.3" font-size="27" text-anchor="middle">0.5</text>
<text x="463.45" y="533.3" font-size="27" text-anchor="middle">1.0</text>
<text x="597.89" y="533.3" font-size="27" text-anchor="middle">1.5</text>
<text x="732.33" y="533.3" font-size="27" text-anchor="middle">2.0</text>
<text x="466.45" y="569.9" font-size="32" text-anchor="middle"><tspan font-style="italic">E</tspan> (kV mm<tspan font-size="21.7" dy="-13.5">&#8211;1</tspan><tspan dy="13.5" dx="3">)</tspan></text>
<text x="101.4" y="269.55" font-size="31" text-anchor="middle" textLength="346" lengthAdjust="spacingAndGlyphs" transform="rotate(-90 101.4 269.55)">Integrated intensity (a.u.)</text>
<line x1="534.2" y1="73.4" x2="604.6" y2="73.4" stroke="#FFC114" stroke-width="1.6"/>
<rect x="560.55" y="64.65" width="17.5" height="17.5" fill="#FFC114" stroke="none" stroke-width="0"/>
<line x1="534.2" y1="118.2" x2="604.6" y2="118.2" stroke="#6B65BD" stroke-width="1.6"/>
<circle cx="569.3" cy="118.2" r="9.6" fill="#6B65BD"/>
<text x="613.2" y="83.8" font-size="32">T<tspan font-size="21" dy="8">002</tspan><tspan dy="-8">+T</tspan><tspan font-size="21" dy="8">200</tspan></text>
<text x="613.2" y="128.8" font-size="32">O<tspan font-size="21" dy="8">200</tspan><tspan dy="-8">+O</tspan><tspan font-size="21" dy="8">002</tspan></text>
<text x="777.6" y="466.1" font-size="37.5" text-anchor="end">Angle between <tspan font-weight="bold">Q</tspan> and <tspan font-weight="bold">E</tspan>: 0&#176;</text>
<text x="29.5" y="66.3" font-size="60" font-weight="bold">a</text>
<polyline points="209.65,759.24 223.1,752.07 236.55,742.84 250,733.36 263.45,722.59 276.9,710.55 290.35,710.04 303.8,707.73 317.25,717.21 330.7,760.78 344.15,777.44 357.6,791.79 371.05,807.17 384.5,821.52 397.95,831.77 411.4,841.25 424.85,852.78 438.3,863.03 451.75,871.75 465.2,878.92 478.65,880.46 492.1,880.2 505.55,880.97 519,880.97 532.45,881.74 545.9,882.25 559.35,882.25 572.8,881.74 586.25,880.97 599.7,880.97 613.15,880.46 626.6,880.2 640.05,879.69 653.5,879.18 666.95,879.69 680.4,880.2 693.85,880.97 707.3,881.74 720.75,882.25 734.2,882.77" fill="none" stroke="#FFC114" stroke-width="1.6" stroke-linejoin="round"/>
<line x1="209.65" y1="697.73" x2="209.65" y2="820.75" stroke="#FFC114" stroke-width="1.6"/>
<line x1="195.65" y1="697.73" x2="223.65" y2="697.73" stroke="#FFC114" stroke-width="1.6"/>
<line x1="195.65" y1="820.75" x2="223.65" y2="820.75" stroke="#FFC114" stroke-width="1.6"/>
<line x1="223.1" y1="689.28" x2="223.1" y2="814.85" stroke="#FFC114" stroke-width="1.6"/>
<line x1="209.1" y1="689.28" x2="237.1" y2="689.28" stroke="#FFC114" stroke-width="1.6"/>
<line x1="209.1" y1="814.85" x2="237.1" y2="814.85" stroke="#FFC114" stroke-width="1.6"/>
<line x1="236.55" y1="680.05" x2="236.55" y2="805.63" stroke="#FFC114" stroke-width="1.6"/>
<line x1="222.55" y1="680.05" x2="250.55" y2="680.05" stroke="#FFC114" stroke-width="1.6"/>
<line x1="222.55" y1="805.63" x2="250.55" y2="805.63" stroke="#FFC114" stroke-width="1.6"/>
<line x1="250" y1="669.29" x2="250" y2="797.43" stroke="#FFC114" stroke-width="1.6"/>
<line x1="236" y1="669.29" x2="264" y2="669.29" stroke="#FFC114" stroke-width="1.6"/>
<line x1="236" y1="797.43" x2="264" y2="797.43" stroke="#FFC114" stroke-width="1.6"/>
<line x1="263.45" y1="654.42" x2="263.45" y2="790.76" stroke="#FFC114" stroke-width="1.6"/>
<line x1="249.45" y1="654.42" x2="277.45" y2="654.42" stroke="#FFC114" stroke-width="1.6"/>
<line x1="249.45" y1="790.76" x2="277.45" y2="790.76" stroke="#FFC114" stroke-width="1.6"/>
<line x1="276.9" y1="637" x2="276.9" y2="784.1" stroke="#FFC114" stroke-width="1.6"/>
<line x1="262.9" y1="637" x2="290.9" y2="637" stroke="#FFC114" stroke-width="1.6"/>
<line x1="262.9" y1="784.1" x2="290.9" y2="784.1" stroke="#FFC114" stroke-width="1.6"/>
<line x1="290.35" y1="683.13" x2="290.35" y2="736.94" stroke="#FFC114" stroke-width="1.6"/>
<line x1="276.35" y1="683.13" x2="304.35" y2="683.13" stroke="#FFC114" stroke-width="1.6"/>
<line x1="276.35" y1="736.94" x2="304.35" y2="736.94" stroke="#FFC114" stroke-width="1.6"/>
<line x1="303.8" y1="679.54" x2="303.8" y2="735.92" stroke="#FFC114" stroke-width="1.6"/>
<line x1="289.8" y1="679.54" x2="317.8" y2="679.54" stroke="#FFC114" stroke-width="1.6"/>
<line x1="289.8" y1="735.92" x2="317.8" y2="735.92" stroke="#FFC114" stroke-width="1.6"/>
<line x1="317.25" y1="683.9" x2="317.25" y2="750.53" stroke="#FFC114" stroke-width="1.6"/>
<line x1="303.25" y1="683.9" x2="331.25" y2="683.9" stroke="#FFC114" stroke-width="1.6"/>
<line x1="303.25" y1="750.53" x2="331.25" y2="750.53" stroke="#FFC114" stroke-width="1.6"/>
<line x1="330.7" y1="722.34" x2="330.7" y2="799.22" stroke="#FFC114" stroke-width="1.6"/>
<line x1="316.7" y1="722.34" x2="344.7" y2="722.34" stroke="#FFC114" stroke-width="1.6"/>
<line x1="316.7" y1="799.22" x2="344.7" y2="799.22" stroke="#FFC114" stroke-width="1.6"/>
<line x1="344.15" y1="744.12" x2="344.15" y2="810.75" stroke="#FFC114" stroke-width="1.6"/>
<line x1="330.15" y1="744.12" x2="358.15" y2="744.12" stroke="#FFC114" stroke-width="1.6"/>
<line x1="330.15" y1="810.75" x2="358.15" y2="810.75" stroke="#FFC114" stroke-width="1.6"/>
<line x1="357.6" y1="764.37" x2="357.6" y2="819.21" stroke="#FFC114" stroke-width="1.6"/>
<line x1="343.6" y1="764.37" x2="371.6" y2="764.37" stroke="#FFC114" stroke-width="1.6"/>
<line x1="343.6" y1="819.21" x2="371.6" y2="819.21" stroke="#FFC114" stroke-width="1.6"/>
<line x1="371.05" y1="783.33" x2="371.05" y2="831" stroke="#FFC114" stroke-width="1.6"/>
<line x1="357.05" y1="783.33" x2="385.05" y2="783.33" stroke="#FFC114" stroke-width="1.6"/>
<line x1="357.05" y1="831" x2="385.05" y2="831" stroke="#FFC114" stroke-width="1.6"/>
<line x1="384.5" y1="798.96" x2="384.5" y2="844.07" stroke="#FFC114" stroke-width="1.6"/>
<line x1="370.5" y1="798.96" x2="398.5" y2="798.96" stroke="#FFC114" stroke-width="1.6"/>
<line x1="370.5" y1="844.07" x2="398.5" y2="844.07" stroke="#FFC114" stroke-width="1.6"/>
<line x1="397.95" y1="811.27" x2="397.95" y2="852.27" stroke="#FFC114" stroke-width="1.6"/>
<line x1="383.95" y1="811.27" x2="411.95" y2="811.27" stroke="#FFC114" stroke-width="1.6"/>
<line x1="383.95" y1="852.27" x2="411.95" y2="852.27" stroke="#FFC114" stroke-width="1.6"/>
<line x1="411.4" y1="823.31" x2="411.4" y2="859.19" stroke="#FFC114" stroke-width="1.6"/>
<line x1="397.4" y1="823.31" x2="425.4" y2="823.31" stroke="#FFC114" stroke-width="1.6"/>
<line x1="397.4" y1="859.19" x2="425.4" y2="859.19" stroke="#FFC114" stroke-width="1.6"/>
<line x1="424.85" y1="837.41" x2="424.85" y2="868.16" stroke="#FFC114" stroke-width="1.6"/>
<line x1="410.85" y1="837.41" x2="438.85" y2="837.41" stroke="#FFC114" stroke-width="1.6"/>
<line x1="410.85" y1="868.16" x2="438.85" y2="868.16" stroke="#FFC114" stroke-width="1.6"/>
<line x1="438.3" y1="848.94" x2="438.3" y2="877.13" stroke="#FFC114" stroke-width="1.6"/>
<line x1="424.3" y1="848.94" x2="452.3" y2="848.94" stroke="#FFC114" stroke-width="1.6"/>
<line x1="424.3" y1="877.13" x2="452.3" y2="877.13" stroke="#FFC114" stroke-width="1.6"/>
<line x1="451.75" y1="858.93" x2="451.75" y2="884.56" stroke="#FFC114" stroke-width="1.6"/>
<line x1="437.75" y1="858.93" x2="465.75" y2="858.93" stroke="#FFC114" stroke-width="1.6"/>
<line x1="437.75" y1="884.56" x2="465.75" y2="884.56" stroke="#FFC114" stroke-width="1.6"/>
<line x1="465.2" y1="867.39" x2="465.2" y2="890.46" stroke="#FFC114" stroke-width="1.6"/>
<line x1="451.2" y1="867.39" x2="479.2" y2="867.39" stroke="#FFC114" stroke-width="1.6"/>
<line x1="451.2" y1="890.46" x2="479.2" y2="890.46" stroke="#FFC114" stroke-width="1.6"/>
<line x1="478.65" y1="869.7" x2="478.65" y2="891.22" stroke="#FFC114" stroke-width="1.6"/>
<line x1="464.65" y1="869.7" x2="492.65" y2="869.7" stroke="#FFC114" stroke-width="1.6"/>
<line x1="464.65" y1="891.22" x2="492.65" y2="891.22" stroke="#FFC114" stroke-width="1.6"/>
<line x1="492.1" y1="869.95" x2="492.1" y2="890.46" stroke="#FFC114" stroke-width="1.6"/>
<line x1="478.1" y1="869.95" x2="506.1" y2="869.95" stroke="#FFC114" stroke-width="1.6"/>
<line x1="478.1" y1="890.46" x2="506.1" y2="890.46" stroke="#FFC114" stroke-width="1.6"/>
<line x1="505.55" y1="870.72" x2="505.55" y2="891.22" stroke="#FFC114" stroke-width="1.6"/>
<line x1="491.55" y1="870.72" x2="519.55" y2="870.72" stroke="#FFC114" stroke-width="1.6"/>
<line x1="491.55" y1="891.22" x2="519.55" y2="891.22" stroke="#FFC114" stroke-width="1.6"/>
<line x1="519" y1="870.72" x2="519" y2="891.22" stroke="#FFC114" stroke-width="1.6"/>
<line x1="505" y1="870.72" x2="533" y2="870.72" stroke="#FFC114" stroke-width="1.6"/>
<line x1="505" y1="891.22" x2="533" y2="891.22" stroke="#FFC114" stroke-width="1.6"/>
<line x1="532.45" y1="871.49" x2="532.45" y2="891.99" stroke="#FFC114" stroke-width="1.6"/>
<line x1="518.45" y1="871.49" x2="546.45" y2="871.49" stroke="#FFC114" stroke-width="1.6"/>
<line x1="518.45" y1="891.99" x2="546.45" y2="891.99" stroke="#FFC114" stroke-width="1.6"/>
<line x1="545.9" y1="872" x2="545.9" y2="892.51" stroke="#FFC114" stroke-width="1.6"/>
<line x1="531.9" y1="872" x2="559.9" y2="872" stroke="#FFC114" stroke-width="1.6"/>
<line x1="531.9" y1="892.51" x2="559.9" y2="892.51" stroke="#FFC114" stroke-width="1.6"/>
<line x1="559.35" y1="858.16" x2="559.35" y2="906.34" stroke="#FFC114" stroke-width="1.6"/>
<line x1="545.35" y1="858.16" x2="573.35" y2="858.16" stroke="#FFC114" stroke-width="1.6"/>
<line x1="545.35" y1="906.34" x2="573.35" y2="906.34" stroke="#FFC114" stroke-width="1.6"/>
<line x1="572.8" y1="871.49" x2="572.8" y2="891.99" stroke="#FFC114" stroke-width="1.6"/>
<line x1="558.8" y1="871.49" x2="586.8" y2="871.49" stroke="#FFC114" stroke-width="1.6"/>
<line x1="558.8" y1="891.99" x2="586.8" y2="891.99" stroke="#FFC114" stroke-width="1.6"/>
<line x1="586.25" y1="870.72" x2="586.25" y2="891.22" stroke="#FFC114" stroke-width="1.6"/>
<line x1="572.25" y1="870.72" x2="600.25" y2="870.72" stroke="#FFC114" stroke-width="1.6"/>
<line x1="572.25" y1="891.22" x2="600.25" y2="891.22" stroke="#FFC114" stroke-width="1.6"/>
<line x1="599.7" y1="856.37" x2="599.7" y2="905.58" stroke="#FFC114" stroke-width="1.6"/>
<line x1="585.7" y1="856.37" x2="613.7" y2="856.37" stroke="#FFC114" stroke-width="1.6"/>
<line x1="585.7" y1="905.58" x2="613.7" y2="905.58" stroke="#FFC114" stroke-width="1.6"/>
<line x1="613.15" y1="861.75" x2="613.15" y2="899.17" stroke="#FFC114" stroke-width="1.6"/>
<line x1="599.15" y1="861.75" x2="627.15" y2="861.75" stroke="#FFC114" stroke-width="1.6"/>
<line x1="599.15" y1="899.17" x2="627.15" y2="899.17" stroke="#FFC114" stroke-width="1.6"/>
<line x1="626.6" y1="869.95" x2="626.6" y2="890.46" stroke="#FFC114" stroke-width="1.6"/>
<line x1="612.6" y1="869.95" x2="640.6" y2="869.95" stroke="#FFC114" stroke-width="1.6"/>
<line x1="612.6" y1="890.46" x2="640.6" y2="890.46" stroke="#FFC114" stroke-width="1.6"/>
<line x1="640.05" y1="869.44" x2="640.05" y2="889.94" stroke="#FFC114" stroke-width="1.6"/>
<line x1="626.05" y1="869.44" x2="654.05" y2="869.44" stroke="#FFC114" stroke-width="1.6"/>
<line x1="626.05" y1="889.94" x2="654.05" y2="889.94" stroke="#FFC114" stroke-width="1.6"/>
<line x1="653.5" y1="868.93" x2="653.5" y2="889.43" stroke="#FFC114" stroke-width="1.6"/>
<line x1="639.5" y1="868.93" x2="667.5" y2="868.93" stroke="#FFC114" stroke-width="1.6"/>
<line x1="639.5" y1="889.43" x2="667.5" y2="889.43" stroke="#FFC114" stroke-width="1.6"/>
<line x1="666.95" y1="863.8" x2="666.95" y2="895.58" stroke="#FFC114" stroke-width="1.6"/>
<line x1="652.95" y1="863.8" x2="680.95" y2="863.8" stroke="#FFC114" stroke-width="1.6"/>
<line x1="652.95" y1="895.58" x2="680.95" y2="895.58" stroke="#FFC114" stroke-width="1.6"/>
<line x1="680.4" y1="858.68" x2="680.4" y2="901.73" stroke="#FFC114" stroke-width="1.6"/>
<line x1="666.4" y1="858.68" x2="694.4" y2="858.68" stroke="#FFC114" stroke-width="1.6"/>
<line x1="666.4" y1="901.73" x2="694.4" y2="901.73" stroke="#FFC114" stroke-width="1.6"/>
<line x1="693.85" y1="859.45" x2="693.85" y2="902.5" stroke="#FFC114" stroke-width="1.6"/>
<line x1="679.85" y1="859.45" x2="707.85" y2="859.45" stroke="#FFC114" stroke-width="1.6"/>
<line x1="679.85" y1="902.5" x2="707.85" y2="902.5" stroke="#FFC114" stroke-width="1.6"/>
<line x1="707.3" y1="860.21" x2="707.3" y2="903.27" stroke="#FFC114" stroke-width="1.6"/>
<line x1="693.3" y1="860.21" x2="721.3" y2="860.21" stroke="#FFC114" stroke-width="1.6"/>
<line x1="693.3" y1="903.27" x2="721.3" y2="903.27" stroke="#FFC114" stroke-width="1.6"/>
<line x1="720.75" y1="864.32" x2="720.75" y2="900.19" stroke="#FFC114" stroke-width="1.6"/>
<line x1="706.75" y1="864.32" x2="734.75" y2="864.32" stroke="#FFC114" stroke-width="1.6"/>
<line x1="706.75" y1="900.19" x2="734.75" y2="900.19" stroke="#FFC114" stroke-width="1.6"/>
<line x1="734.2" y1="864.83" x2="734.2" y2="900.71" stroke="#FFC114" stroke-width="1.6"/>
<line x1="720.2" y1="864.83" x2="748.2" y2="864.83" stroke="#FFC114" stroke-width="1.6"/>
<line x1="720.2" y1="900.71" x2="748.2" y2="900.71" stroke="#FFC114" stroke-width="1.6"/>
<rect x="200.9" y="750.49" width="17.5" height="17.5" fill="#FFC114" stroke="none" stroke-width="0"/>
<rect x="214.35" y="743.32" width="17.5" height="17.5" fill="#FFC114" stroke="none" stroke-width="0"/>
<rect x="227.8" y="734.09" width="17.5" height="17.5" fill="#FFC114" stroke="none" stroke-width="0"/>
<rect x="241.25" y="724.61" width="17.5" height="17.5" fill="#FFC114" stroke="none" stroke-width="0"/>
<rect x="254.7" y="713.84" width="17.5" height="17.5" fill="#FFC114" stroke="none" stroke-width="0"/>
<rect x="268.15" y="701.8" width="17.5" height="17.5" fill="#FFC114" stroke="none" stroke-width="0"/>
<rect x="281.6" y="701.29" width="17.5" height="17.5" fill="#FFC114" stroke="none" stroke-width="0"/>
<rect x="295.05" y="698.98" width="17.5" height="17.5" fill="#FFC114" stroke="none" stroke-width="0"/>
<rect x="308.5" y="708.46" width="17.5" height="17.5" fill="#FFC114" stroke="none" stroke-width="0"/>
<rect x="321.95" y="752.03" width="17.5" height="17.5" fill="#FFC114" stroke="none" stroke-width="0"/>
<rect x="335.4" y="768.69" width="17.5" height="17.5" fill="#FFC114" stroke="none" stroke-width="0"/>
<rect x="348.85" y="783.04" width="17.5" height="17.5" fill="#FFC114" stroke="none" stroke-width="0"/>
<rect x="362.3" y="798.42" width="17.5" height="17.5" fill="#FFC114" stroke="none" stroke-width="0"/>
<rect x="375.75" y="812.77" width="17.5" height="17.5" fill="#FFC114" stroke="none" stroke-width="0"/>
<rect x="389.2" y="823.02" width="17.5" height="17.5" fill="#FFC114" stroke="none" stroke-width="0"/>
<rect x="402.65" y="832.5" width="17.5" height="17.5" fill="#FFC114" stroke="none" stroke-width="0"/>
<rect x="416.1" y="844.03" width="17.5" height="17.5" fill="#FFC114" stroke="none" stroke-width="0"/>
<rect x="429.55" y="854.28" width="17.5" height="17.5" fill="#FFC114" stroke="none" stroke-width="0"/>
<rect x="443" y="863" width="17.5" height="17.5" fill="#FFC114" stroke="none" stroke-width="0"/>
<rect x="456.45" y="870.17" width="17.5" height="17.5" fill="#FFC114" stroke="none" stroke-width="0"/>
<rect x="469.9" y="871.71" width="17.5" height="17.5" fill="#FFC114" stroke="none" stroke-width="0"/>
<rect x="483.35" y="871.45" width="17.5" height="17.5" fill="#FFC114" stroke="none" stroke-width="0"/>
<rect x="496.8" y="872.22" width="17.5" height="17.5" fill="#FFC114" stroke="none" stroke-width="0"/>
<rect x="510.25" y="872.22" width="17.5" height="17.5" fill="#FFC114" stroke="none" stroke-width="0"/>
<rect x="523.7" y="872.99" width="17.5" height="17.5" fill="#FFC114" stroke="none" stroke-width="0"/>
<rect x="537.15" y="873.5" width="17.5" height="17.5" fill="#FFC114" stroke="none" stroke-width="0"/>
<rect x="550.6" y="873.5" width="17.5" height="17.5" fill="#FFC114" stroke="none" stroke-width="0"/>
<rect x="564.05" y="872.99" width="17.5" height="17.5" fill="#FFC114" stroke="none" stroke-width="0"/>
<rect x="577.5" y="872.22" width="17.5" height="17.5" fill="#FFC114" stroke="none" stroke-width="0"/>
<rect x="590.95" y="872.22" width="17.5" height="17.5" fill="#FFC114" stroke="none" stroke-width="0"/>
<rect x="604.4" y="871.71" width="17.5" height="17.5" fill="#FFC114" stroke="none" stroke-width="0"/>
<rect x="617.85" y="871.45" width="17.5" height="17.5" fill="#FFC114" stroke="none" stroke-width="0"/>
<rect x="631.3" y="870.94" width="17.5" height="17.5" fill="#FFC114" stroke="none" stroke-width="0"/>
<rect x="644.75" y="870.43" width="17.5" height="17.5" fill="#FFC114" stroke="none" stroke-width="0"/>
<rect x="658.2" y="870.94" width="17.5" height="17.5" fill="#FFC114" stroke="none" stroke-width="0"/>
<rect x="671.65" y="871.45" width="17.5" height="17.5" fill="#FFC114" stroke="none" stroke-width="0"/>
<rect x="685.1" y="872.22" width="17.5" height="17.5" fill="#FFC114" stroke="none" stroke-width="0"/>
<rect x="698.55" y="872.99" width="17.5" height="17.5" fill="#FFC114" stroke="none" stroke-width="0"/>
<rect x="712" y="873.5" width="17.5" height="17.5" fill="#FFC114" stroke="none" stroke-width="0"/>
<rect x="725.45" y="874.02" width="17.5" height="17.5" fill="#FFC114" stroke="none" stroke-width="0"/>
<polyline points="209.65,886.87 223.1,893.02 236.55,899.17 250,909.68 263.45,919.93 276.9,932.48 290.35,932.48 303.8,933.25 317.25,926.08 330.7,887.64 344.15,873.28 357.6,858.68 371.05,844.07 384.5,831 397.95,817.93 411.4,805.63 424.85,794.86 438.3,785.38 451.75,777.44 465.2,771.54 478.65,768.72 492.1,769.49 505.55,770 519,770.52 532.45,771.03 545.9,771.54 559.35,772.06 572.8,772.57 586.25,773.08 599.7,773.59 613.15,774.62 626.6,775.13 640.05,775.64 653.5,775.9 666.95,776.16 680.4,776.41 693.85,776.67 707.3,777.18 720.75,777.69 734.2,777.95" fill="none" stroke="#6B65BD" stroke-width="1.6" stroke-linejoin="round"/>
<line x1="209.65" y1="805.63" x2="209.65" y2="968.11" stroke="#6B65BD" stroke-width="1.6"/>
<line x1="195.65" y1="805.63" x2="223.65" y2="805.63" stroke="#6B65BD" stroke-width="1.6"/>
<line x1="195.65" y1="968.11" x2="223.65" y2="968.11" stroke="#6B65BD" stroke-width="1.6"/>
<line x1="223.1" y1="808.45" x2="223.1" y2="977.59" stroke="#6B65BD" stroke-width="1.6"/>
<line x1="209.1" y1="808.45" x2="237.1" y2="808.45" stroke="#6B65BD" stroke-width="1.6"/>
<line x1="209.1" y1="977.59" x2="237.1" y2="977.59" stroke="#6B65BD" stroke-width="1.6"/>
<line x1="236.55" y1="819.72" x2="236.55" y2="978.61" stroke="#6B65BD" stroke-width="1.6"/>
<line x1="222.55" y1="819.72" x2="250.55" y2="819.72" stroke="#6B65BD" stroke-width="1.6"/>
<line x1="222.55" y1="978.61" x2="250.55" y2="978.61" stroke="#6B65BD" stroke-width="1.6"/>
<line x1="250" y1="825.1" x2="250" y2="994.25" stroke="#6B65BD" stroke-width="1.6"/>
<line x1="236" y1="825.1" x2="264" y2="825.1" stroke="#6B65BD" stroke-width="1.6"/>
<line x1="236" y1="994.25" x2="264" y2="994.25" stroke="#6B65BD" stroke-width="1.6"/>
<line x1="263.45" y1="830.23" x2="263.45" y2="1009.62" stroke="#6B65BD" stroke-width="1.6"/>
<line x1="249.45" y1="830.23" x2="277.45" y2="830.23" stroke="#6B65BD" stroke-width="1.6"/>
<line x1="249.45" y1="1009.62" x2="277.45" y2="1009.62" stroke="#6B65BD" stroke-width="1.6"/>
<line x1="276.9" y1="835.1" x2="276.9" y2="1029.87" stroke="#6B65BD" stroke-width="1.6"/>
<line x1="262.9" y1="835.1" x2="290.9" y2="835.1" stroke="#6B65BD" stroke-width="1.6"/>
<line x1="262.9" y1="1029.87" x2="290.9" y2="1029.87" stroke="#6B65BD" stroke-width="1.6"/>
<line x1="290.35" y1="897.89" x2="290.35" y2="967.08" stroke="#6B65BD" stroke-width="1.6"/>
<line x1="276.35" y1="897.89" x2="304.35" y2="897.89" stroke="#6B65BD" stroke-width="1.6"/>
<line x1="276.35" y1="967.08" x2="304.35" y2="967.08" stroke="#6B65BD" stroke-width="1.6"/>
<line x1="303.8" y1="902.5" x2="303.8" y2="964.01" stroke="#6B65BD" stroke-width="1.6"/>
<line x1="289.8" y1="902.5" x2="317.8" y2="902.5" stroke="#6B65BD" stroke-width="1.6"/>
<line x1="289.8" y1="964.01" x2="317.8" y2="964.01" stroke="#6B65BD" stroke-width="1.6"/>
<line x1="317.25" y1="887.64" x2="317.25" y2="964.52" stroke="#6B65BD" stroke-width="1.6"/>
<line x1="303.25" y1="887.64" x2="331.25" y2="887.64" stroke="#6B65BD" stroke-width="1.6"/>
<line x1="303.25" y1="964.52" x2="331.25" y2="964.52" stroke="#6B65BD" stroke-width="1.6"/>
<line x1="330.7" y1="840.74" x2="330.7" y2="934.54" stroke="#6B65BD" stroke-width="1.6"/>
<line x1="316.7" y1="840.74" x2="344.7" y2="840.74" stroke="#6B65BD" stroke-width="1.6"/>
<line x1="316.7" y1="934.54" x2="344.7" y2="934.54" stroke="#6B65BD" stroke-width="1.6"/>
<line x1="344.15" y1="832.28" x2="344.15" y2="914.29" stroke="#6B65BD" stroke-width="1.6"/>
<line x1="330.15" y1="832.28" x2="358.15" y2="832.28" stroke="#6B65BD" stroke-width="1.6"/>
<line x1="330.15" y1="914.29" x2="358.15" y2="914.29" stroke="#6B65BD" stroke-width="1.6"/>
<line x1="357.6" y1="824.08" x2="357.6" y2="893.27" stroke="#6B65BD" stroke-width="1.6"/>
<line x1="343.6" y1="824.08" x2="371.6" y2="824.08" stroke="#6B65BD" stroke-width="1.6"/>
<line x1="343.6" y1="893.27" x2="371.6" y2="893.27" stroke="#6B65BD" stroke-width="1.6"/>
<line x1="371.05" y1="812.8" x2="371.05" y2="875.33" stroke="#6B65BD" stroke-width="1.6"/>
<line x1="357.05" y1="812.8" x2="385.05" y2="812.8" stroke="#6B65BD" stroke-width="1.6"/>
<line x1="357.05" y1="875.33" x2="385.05" y2="875.33" stroke="#6B65BD" stroke-width="1.6"/>
<line x1="384.5" y1="803.58" x2="384.5" y2="858.42" stroke="#6B65BD" stroke-width="1.6"/>
<line x1="370.5" y1="803.58" x2="398.5" y2="803.58" stroke="#6B65BD" stroke-width="1.6"/>
<line x1="370.5" y1="858.42" x2="398.5" y2="858.42" stroke="#6B65BD" stroke-width="1.6"/>
<line x1="397.95" y1="790.51" x2="397.95" y2="845.35" stroke="#6B65BD" stroke-width="1.6"/>
<line x1="383.95" y1="790.51" x2="411.95" y2="790.51" stroke="#6B65BD" stroke-width="1.6"/>
<line x1="383.95" y1="845.35" x2="411.95" y2="845.35" stroke="#6B65BD" stroke-width="1.6"/>
<line x1="411.4" y1="781.02" x2="411.4" y2="830.23" stroke="#6B65BD" stroke-width="1.6"/>
<line x1="397.4" y1="781.02" x2="425.4" y2="781.02" stroke="#6B65BD" stroke-width="1.6"/>
<line x1="397.4" y1="830.23" x2="425.4" y2="830.23" stroke="#6B65BD" stroke-width="1.6"/>
<line x1="424.85" y1="773.34" x2="424.85" y2="816.39" stroke="#6B65BD" stroke-width="1.6"/>
<line x1="410.85" y1="773.34" x2="438.85" y2="773.34" stroke="#6B65BD" stroke-width="1.6"/>
<line x1="410.85" y1="816.39" x2="438.85" y2="816.39" stroke="#6B65BD" stroke-width="1.6"/>
<line x1="438.3" y1="766.93" x2="438.3" y2="803.83" stroke="#6B65BD" stroke-width="1.6"/>
<line x1="424.3" y1="766.93" x2="452.3" y2="766.93" stroke="#6B65BD" stroke-width="1.6"/>
<line x1="424.3" y1="803.83" x2="452.3" y2="803.83" stroke="#6B65BD" stroke-width="1.6"/>
<line x1="451.75" y1="760.78" x2="451.75" y2="794.09" stroke="#6B65BD" stroke-width="1.6"/>
<line x1="437.75" y1="760.78" x2="465.75" y2="760.78" stroke="#6B65BD" stroke-width="1.6"/>
<line x1="437.75" y1="794.09" x2="465.75" y2="794.09" stroke="#6B65BD" stroke-width="1.6"/>
<line x1="465.2" y1="760.78" x2="465.2" y2="782.31" stroke="#6B65BD" stroke-width="1.6"/>
<line x1="451.2" y1="760.78" x2="479.2" y2="760.78" stroke="#6B65BD" stroke-width="1.6"/>
<line x1="451.2" y1="782.31" x2="479.2" y2="782.31" stroke="#6B65BD" stroke-width="1.6"/>
<line x1="478.65" y1="757.19" x2="478.65" y2="780.26" stroke="#6B65BD" stroke-width="1.6"/>
<line x1="464.65" y1="757.19" x2="492.65" y2="757.19" stroke="#6B65BD" stroke-width="1.6"/>
<line x1="464.65" y1="780.26" x2="492.65" y2="780.26" stroke="#6B65BD" stroke-width="1.6"/>
<line x1="492.1" y1="757.96" x2="492.1" y2="781.02" stroke="#6B65BD" stroke-width="1.6"/>
<line x1="478.1" y1="757.96" x2="506.1" y2="757.96" stroke="#6B65BD" stroke-width="1.6"/>
<line x1="478.1" y1="781.02" x2="506.1" y2="781.02" stroke="#6B65BD" stroke-width="1.6"/>
<line x1="505.55" y1="758.47" x2="505.55" y2="781.54" stroke="#6B65BD" stroke-width="1.6"/>
<line x1="491.55" y1="758.47" x2="519.55" y2="758.47" stroke="#6B65BD" stroke-width="1.6"/>
<line x1="491.55" y1="781.54" x2="519.55" y2="781.54" stroke="#6B65BD" stroke-width="1.6"/>
<line x1="519" y1="758.98" x2="519" y2="782.05" stroke="#6B65BD" stroke-width="1.6"/>
<line x1="505" y1="758.98" x2="533" y2="758.98" stroke="#6B65BD" stroke-width="1.6"/>
<line x1="505" y1="782.05" x2="533" y2="782.05" stroke="#6B65BD" stroke-width="1.6"/>
<line x1="532.45" y1="759.5" x2="532.45" y2="782.56" stroke="#6B65BD" stroke-width="1.6"/>
<line x1="518.45" y1="759.5" x2="546.45" y2="759.5" stroke="#6B65BD" stroke-width="1.6"/>
<line x1="518.45" y1="782.56" x2="546.45" y2="782.56" stroke="#6B65BD" stroke-width="1.6"/>
<line x1="545.9" y1="760.01" x2="545.9" y2="783.07" stroke="#6B65BD" stroke-width="1.6"/>
<line x1="531.9" y1="760.01" x2="559.9" y2="760.01" stroke="#6B65BD" stroke-width="1.6"/>
<line x1="531.9" y1="783.07" x2="559.9" y2="783.07" stroke="#6B65BD" stroke-width="1.6"/>
<line x1="559.35" y1="742.33" x2="559.35" y2="801.78" stroke="#6B65BD" stroke-width="1.6"/>
<line x1="545.35" y1="742.33" x2="573.35" y2="742.33" stroke="#6B65BD" stroke-width="1.6"/>
<line x1="545.35" y1="801.78" x2="573.35" y2="801.78" stroke="#6B65BD" stroke-width="1.6"/>
<line x1="572.8" y1="761.04" x2="572.8" y2="784.1" stroke="#6B65BD" stroke-width="1.6"/>
<line x1="558.8" y1="761.04" x2="586.8" y2="761.04" stroke="#6B65BD" stroke-width="1.6"/>
<line x1="558.8" y1="784.1" x2="586.8" y2="784.1" stroke="#6B65BD" stroke-width="1.6"/>
<line x1="586.25" y1="761.55" x2="586.25" y2="784.61" stroke="#6B65BD" stroke-width="1.6"/>
<line x1="572.25" y1="761.55" x2="600.25" y2="761.55" stroke="#6B65BD" stroke-width="1.6"/>
<line x1="572.25" y1="784.61" x2="600.25" y2="784.61" stroke="#6B65BD" stroke-width="1.6"/>
<line x1="599.7" y1="741.56" x2="599.7" y2="805.63" stroke="#6B65BD" stroke-width="1.6"/>
<line x1="585.7" y1="741.56" x2="613.7" y2="741.56" stroke="#6B65BD" stroke-width="1.6"/>
<line x1="585.7" y1="805.63" x2="613.7" y2="805.63" stroke="#6B65BD" stroke-width="1.6"/>
<line x1="613.15" y1="749.5" x2="613.15" y2="799.73" stroke="#6B65BD" stroke-width="1.6"/>
<line x1="599.15" y1="749.5" x2="627.15" y2="749.5" stroke="#6B65BD" stroke-width="1.6"/>
<line x1="599.15" y1="799.73" x2="627.15" y2="799.73" stroke="#6B65BD" stroke-width="1.6"/>
<line x1="626.6" y1="763.6" x2="626.6" y2="786.66" stroke="#6B65BD" stroke-width="1.6"/>
<line x1="612.6" y1="763.6" x2="640.6" y2="763.6" stroke="#6B65BD" stroke-width="1.6"/>
<line x1="612.6" y1="786.66" x2="640.6" y2="786.66" stroke="#6B65BD" stroke-width="1.6"/>
<line x1="640.05" y1="764.11" x2="640.05" y2="787.18" stroke="#6B65BD" stroke-width="1.6"/>
<line x1="626.05" y1="764.11" x2="654.05" y2="764.11" stroke="#6B65BD" stroke-width="1.6"/>
<line x1="626.05" y1="787.18" x2="654.05" y2="787.18" stroke="#6B65BD" stroke-width="1.6"/>
<line x1="653.5" y1="764.37" x2="653.5" y2="787.43" stroke="#6B65BD" stroke-width="1.6"/>
<line x1="639.5" y1="764.37" x2="667.5" y2="764.37" stroke="#6B65BD" stroke-width="1.6"/>
<line x1="639.5" y1="787.43" x2="667.5" y2="787.43" stroke="#6B65BD" stroke-width="1.6"/>
<line x1="666.95" y1="753.09" x2="666.95" y2="799.22" stroke="#6B65BD" stroke-width="1.6"/>
<line x1="652.95" y1="753.09" x2="680.95" y2="753.09" stroke="#6B65BD" stroke-width="1.6"/>
<line x1="652.95" y1="799.22" x2="680.95" y2="799.22" stroke="#6B65BD" stroke-width="1.6"/>
<line x1="680.4" y1="748.99" x2="680.4" y2="803.83" stroke="#6B65BD" stroke-width="1.6"/>
<line x1="666.4" y1="748.99" x2="694.4" y2="748.99" stroke="#6B65BD" stroke-width="1.6"/>
<line x1="666.4" y1="803.83" x2="694.4" y2="803.83" stroke="#6B65BD" stroke-width="1.6"/>
<line x1="693.85" y1="749.25" x2="693.85" y2="804.09" stroke="#6B65BD" stroke-width="1.6"/>
<line x1="679.85" y1="749.25" x2="707.85" y2="749.25" stroke="#6B65BD" stroke-width="1.6"/>
<line x1="679.85" y1="804.09" x2="707.85" y2="804.09" stroke="#6B65BD" stroke-width="1.6"/>
<line x1="707.3" y1="749.76" x2="707.3" y2="804.6" stroke="#6B65BD" stroke-width="1.6"/>
<line x1="693.3" y1="749.76" x2="721.3" y2="749.76" stroke="#6B65BD" stroke-width="1.6"/>
<line x1="693.3" y1="804.6" x2="721.3" y2="804.6" stroke="#6B65BD" stroke-width="1.6"/>
<line x1="720.75" y1="757.19" x2="720.75" y2="798.2" stroke="#6B65BD" stroke-width="1.6"/>
<line x1="706.75" y1="757.19" x2="734.75" y2="757.19" stroke="#6B65BD" stroke-width="1.6"/>
<line x1="706.75" y1="798.2" x2="734.75" y2="798.2" stroke="#6B65BD" stroke-width="1.6"/>
<line x1="734.2" y1="757.45" x2="734.2" y2="798.45" stroke="#6B65BD" stroke-width="1.6"/>
<line x1="720.2" y1="757.45" x2="748.2" y2="757.45" stroke="#6B65BD" stroke-width="1.6"/>
<line x1="720.2" y1="798.45" x2="748.2" y2="798.45" stroke="#6B65BD" stroke-width="1.6"/>
<circle cx="209.65" cy="886.87" r="9.6" fill="#6B65BD"/>
<circle cx="223.1" cy="893.02" r="9.6" fill="#6B65BD"/>
<circle cx="236.55" cy="899.17" r="9.6" fill="#6B65BD"/>
<circle cx="250" cy="909.68" r="9.6" fill="#6B65BD"/>
<circle cx="263.45" cy="919.93" r="9.6" fill="#6B65BD"/>
<circle cx="276.9" cy="932.48" r="9.6" fill="#6B65BD"/>
<circle cx="290.35" cy="932.48" r="9.6" fill="#6B65BD"/>
<circle cx="303.8" cy="933.25" r="9.6" fill="#6B65BD"/>
<circle cx="317.25" cy="926.08" r="9.6" fill="#6B65BD"/>
<circle cx="330.7" cy="887.64" r="9.6" fill="#6B65BD"/>
<circle cx="344.15" cy="873.28" r="9.6" fill="#6B65BD"/>
<circle cx="357.6" cy="858.68" r="9.6" fill="#6B65BD"/>
<circle cx="371.05" cy="844.07" r="9.6" fill="#6B65BD"/>
<circle cx="384.5" cy="831" r="9.6" fill="#6B65BD"/>
<circle cx="397.95" cy="817.93" r="9.6" fill="#6B65BD"/>
<circle cx="411.4" cy="805.63" r="9.6" fill="#6B65BD"/>
<circle cx="424.85" cy="794.86" r="9.6" fill="#6B65BD"/>
<circle cx="438.3" cy="785.38" r="9.6" fill="#6B65BD"/>
<circle cx="451.75" cy="777.44" r="9.6" fill="#6B65BD"/>
<circle cx="465.2" cy="771.54" r="9.6" fill="#6B65BD"/>
<circle cx="478.65" cy="768.72" r="9.6" fill="#6B65BD"/>
<circle cx="492.1" cy="769.49" r="9.6" fill="#6B65BD"/>
<circle cx="505.55" cy="770" r="9.6" fill="#6B65BD"/>
<circle cx="519" cy="770.52" r="9.6" fill="#6B65BD"/>
<circle cx="532.45" cy="771.03" r="9.6" fill="#6B65BD"/>
<circle cx="545.9" cy="771.54" r="9.6" fill="#6B65BD"/>
<circle cx="559.35" cy="772.06" r="9.6" fill="#6B65BD"/>
<circle cx="572.8" cy="772.57" r="9.6" fill="#6B65BD"/>
<circle cx="586.25" cy="773.08" r="9.6" fill="#6B65BD"/>
<circle cx="599.7" cy="773.59" r="9.6" fill="#6B65BD"/>
<circle cx="613.15" cy="774.62" r="9.6" fill="#6B65BD"/>
<circle cx="626.6" cy="775.13" r="9.6" fill="#6B65BD"/>
<circle cx="640.05" cy="775.64" r="9.6" fill="#6B65BD"/>
<circle cx="653.5" cy="775.9" r="9.6" fill="#6B65BD"/>
<circle cx="666.95" cy="776.16" r="9.6" fill="#6B65BD"/>
<circle cx="680.4" cy="776.41" r="9.6" fill="#6B65BD"/>
<circle cx="693.85" cy="776.67" r="9.6" fill="#6B65BD"/>
<circle cx="707.3" cy="777.18" r="9.6" fill="#6B65BD"/>
<circle cx="720.75" cy="777.69" r="9.6" fill="#6B65BD"/>
<circle cx="734.2" cy="777.95" r="9.6" fill="#6B65BD"/>
<rect x="142.4" y="610.6" width="645.6" height="461.3" fill="none" stroke="#000" stroke-width="3"/>
<line x1="142.4" y1="1046.27" x2="152.4" y2="1046.27" stroke="#000" stroke-width="3"/>
<line x1="142.4" y1="995.02" x2="152.4" y2="995.02" stroke="#000" stroke-width="3"/>
<line x1="142.4" y1="943.76" x2="152.4" y2="943.76" stroke="#000" stroke-width="3"/>
<line x1="142.4" y1="892.51" x2="152.4" y2="892.51" stroke="#000" stroke-width="3"/>
<line x1="142.4" y1="841.25" x2="152.4" y2="841.25" stroke="#000" stroke-width="3"/>
<line x1="142.4" y1="789.99" x2="152.4" y2="789.99" stroke="#000" stroke-width="3"/>
<line x1="142.4" y1="738.74" x2="152.4" y2="738.74" stroke="#000" stroke-width="3"/>
<line x1="142.4" y1="687.48" x2="152.4" y2="687.48" stroke="#000" stroke-width="3"/>
<line x1="142.4" y1="636.23" x2="152.4" y2="636.23" stroke="#000" stroke-width="3"/>
<line x1="142.4" y1="1071.9" x2="147.9" y2="1071.9" stroke="#000" stroke-width="3"/>
<line x1="142.4" y1="1020.64" x2="147.9" y2="1020.64" stroke="#000" stroke-width="3"/>
<line x1="142.4" y1="969.39" x2="147.9" y2="969.39" stroke="#000" stroke-width="3"/>
<line x1="142.4" y1="918.13" x2="147.9" y2="918.13" stroke="#000" stroke-width="3"/>
<line x1="142.4" y1="866.88" x2="147.9" y2="866.88" stroke="#000" stroke-width="3"/>
<line x1="142.4" y1="815.62" x2="147.9" y2="815.62" stroke="#000" stroke-width="3"/>
<line x1="142.4" y1="764.37" x2="147.9" y2="764.37" stroke="#000" stroke-width="3"/>
<line x1="142.4" y1="713.11" x2="147.9" y2="713.11" stroke="#000" stroke-width="3"/>
<line x1="142.4" y1="661.86" x2="147.9" y2="661.86" stroke="#000" stroke-width="3"/>
<line x1="196.2" y1="1071.9" x2="196.2" y2="1061.9" stroke="#000" stroke-width="3"/>
<line x1="330.7" y1="1071.9" x2="330.7" y2="1061.9" stroke="#000" stroke-width="3"/>
<line x1="465.2" y1="1071.9" x2="465.2" y2="1061.9" stroke="#000" stroke-width="3"/>
<line x1="599.7" y1="1071.9" x2="599.7" y2="1061.9" stroke="#000" stroke-width="3"/>
<line x1="734.2" y1="1071.9" x2="734.2" y2="1061.9" stroke="#000" stroke-width="3"/>
<line x1="263.45" y1="1071.9" x2="263.45" y2="1066.4" stroke="#000" stroke-width="3"/>
<line x1="397.95" y1="1071.9" x2="397.95" y2="1066.4" stroke="#000" stroke-width="3"/>
<line x1="532.45" y1="1071.9" x2="532.45" y2="1066.4" stroke="#000" stroke-width="3"/>
<line x1="666.95" y1="1071.9" x2="666.95" y2="1066.4" stroke="#000" stroke-width="3"/>
<text x="129.6" y="1055.22" font-size="25" text-anchor="end">-4</text>
<text x="129.6" y="1003.97" font-size="25" text-anchor="end">-2</text>
<text x="129.6" y="952.71" font-size="25" text-anchor="end">0</text>
<text x="129.6" y="901.46" font-size="25" text-anchor="end">2</text>
<text x="129.6" y="850.2" font-size="25" text-anchor="end">4</text>
<text x="129.6" y="798.94" font-size="25" text-anchor="end">6</text>
<text x="129.6" y="747.69" font-size="25" text-anchor="end">8</text>
<text x="129.6" y="696.43" font-size="25" text-anchor="end">10</text>
<text x="129.6" y="645.18" font-size="25" text-anchor="end">12</text>
<text x="196.2" y="1105.4" font-size="27" text-anchor="middle">0</text>
<text x="330.7" y="1105.4" font-size="27" text-anchor="middle">0.5</text>
<text x="465.2" y="1105.4" font-size="27" text-anchor="middle">1.0</text>
<text x="599.7" y="1105.4" font-size="27" text-anchor="middle">1.5</text>
<text x="734.2" y="1105.4" font-size="27" text-anchor="middle">2.0</text>
<text x="468.2" y="1142" font-size="32" text-anchor="middle"><tspan font-style="italic">E</tspan> (kV mm<tspan font-size="21.7" dy="-13.5">&#8211;1</tspan><tspan dy="13.5" dx="3">)</tspan></text>
<text x="88" y="839.4" font-size="31" text-anchor="middle" textLength="346" lengthAdjust="spacingAndGlyphs" transform="rotate(-90 88 839.4)">Integrated intensity (a.u.)</text>
<line x1="536.1" y1="646.5" x2="606.5" y2="646.5" stroke="#FFC114" stroke-width="1.6"/>
<rect x="562.45" y="637.75" width="17.5" height="17.5" fill="#FFC114" stroke="none" stroke-width="0"/>
<line x1="536.1" y1="691.5" x2="606.5" y2="691.5" stroke="#6B65BD" stroke-width="1.6"/>
<circle cx="571.2" cy="691.5" r="9.6" fill="#6B65BD"/>
<text x="615.1" y="656.9" font-size="32">T<tspan font-size="21" dy="8">002</tspan><tspan dy="-8">+T</tspan><tspan font-size="21" dy="8">200</tspan></text>
<text x="615.1" y="702.1" font-size="32">O<tspan font-size="21" dy="8">200</tspan><tspan dy="-8">+O</tspan><tspan font-size="21" dy="8">002</tspan></text>
<text x="779.5" y="1038.2" font-size="37.5" text-anchor="end">Angle between <tspan font-weight="bold">Q</tspan> and <tspan font-weight="bold">E</tspan>: 45&#176;</text>
<text x="33" y="629.5" font-size="60" font-weight="bold">b</text>
<path d="M 1032.8 930.79 A 125.71 125.71 0 0 1 1158.51 1056.5" fill="none" stroke="#8a8a8a" stroke-width="1.3" stroke-dasharray="5 4.4"/>
<path d="M 1032.8 805.07 A 251.43 251.43 0 0 1 1284.23 1056.5" fill="none" stroke="#8a8a8a" stroke-width="1.3" stroke-dasharray="5 4.4"/>
<path d="M 1032.8 679.36 A 377.14 377.14 0 0 1 1409.94 1056.5" fill="none" stroke="#8a8a8a" stroke-width="1.3" stroke-dasharray="5 4.4"/>
<path d="M 1032.8 553.64 A 502.86 502.86 0 0 1 1535.66 1056.5" fill="none" stroke="#8a8a8a" stroke-width="1.3" stroke-dasharray="5 4.4"/>
<path d="M 1032.8 427.93 A 628.57 628.57 0 0 1 1661.37 1056.5" fill="none" stroke="#8a8a8a" stroke-width="1.3" stroke-dasharray="5 4.4"/>
<path d="M 1032.8 302.21 A 754.29 754.29 0 0 1 1787.09 1056.5" fill="none" stroke="#8a8a8a" stroke-width="1.3" stroke-dasharray="5 4.4"/>
<line x1="1032.8" y1="1056.5" x2="1185.61" y2="189.87" stroke="#8a8a8a" stroke-width="1.3" stroke-dasharray="5 4.4"/>
<line x1="1032.8" y1="1056.5" x2="1333.78" y2="229.57" stroke="#8a8a8a" stroke-width="1.3" stroke-dasharray="5 4.4"/>
<line x1="1032.8" y1="1056.5" x2="1472.8" y2="294.4" stroke="#8a8a8a" stroke-width="1.3" stroke-dasharray="5 4.4"/>
<line x1="1032.8" y1="1056.5" x2="1598.45" y2="382.38" stroke="#8a8a8a" stroke-width="1.3" stroke-dasharray="5 4.4"/>
<line x1="1032.8" y1="1056.5" x2="1706.92" y2="490.85" stroke="#8a8a8a" stroke-width="1.3" stroke-dasharray="5 4.4"/>
<line x1="1032.8" y1="1056.5" x2="1794.9" y2="616.5" stroke="#8a8a8a" stroke-width="1.3" stroke-dasharray="5 4.4"/>
<line x1="1032.8" y1="1056.5" x2="1859.73" y2="755.52" stroke="#8a8a8a" stroke-width="1.3" stroke-dasharray="5 4.4"/>
<line x1="1032.8" y1="1056.5" x2="1899.43" y2="903.69" stroke="#8a8a8a" stroke-width="1.3" stroke-dasharray="5 4.4"/>
<line x1="1032.8" y1="1056.5" x2="1912.8" y2="1056.5" stroke="#8a8a8a" stroke-width="1.3" stroke-dasharray="5 4.4"/>
<path d="M 1032.8 176.5 A 880 880 0 0 1 1912.8 1056.5" fill="none" stroke="#3c3c3c" stroke-width="1.5"/>
<line x1="1185.61" y1="189.87" x2="1182.57" y2="207.1" stroke="#3c3c3c" stroke-width="1.5"/>
<line x1="1333.78" y1="229.57" x2="1327.79" y2="246.02" stroke="#3c3c3c" stroke-width="1.5"/>
<line x1="1472.8" y1="294.4" x2="1464.05" y2="309.55" stroke="#3c3c3c" stroke-width="1.5"/>
<line x1="1598.45" y1="382.38" x2="1587.2" y2="395.79" stroke="#3c3c3c" stroke-width="1.5"/>
<line x1="1706.92" y1="490.85" x2="1693.51" y2="502.1" stroke="#3c3c3c" stroke-width="1.5"/>
<line x1="1794.9" y1="616.5" x2="1779.75" y2="625.25" stroke="#3c3c3c" stroke-width="1.5"/>
<line x1="1859.73" y1="755.52" x2="1843.28" y2="761.51" stroke="#3c3c3c" stroke-width="1.5"/>
<line x1="1899.43" y1="903.69" x2="1882.2" y2="906.73" stroke="#3c3c3c" stroke-width="1.5"/>
<line x1="1912.8" y1="1056.5" x2="1895.3" y2="1056.5" stroke="#3c3c3c" stroke-width="1.5"/>
<line x1="1032.8" y1="1056.5" x2="1032.8" y2="176.5" stroke="#3c3c3c" stroke-width="1.6"/>
<line x1="1013.1" y1="1056.5" x2="1032.8" y2="1056.5" stroke="#3c3c3c" stroke-width="1.6"/>
<line x1="1023.3" y1="993.64" x2="1032.8" y2="993.64" stroke="#3c3c3c" stroke-width="1.6"/>
<line x1="1013.1" y1="930.79" x2="1032.8" y2="930.79" stroke="#3c3c3c" stroke-width="1.6"/>
<line x1="1023.3" y1="867.93" x2="1032.8" y2="867.93" stroke="#3c3c3c" stroke-width="1.6"/>
<line x1="1013.1" y1="805.07" x2="1032.8" y2="805.07" stroke="#3c3c3c" stroke-width="1.6"/>
<line x1="1023.3" y1="742.21" x2="1032.8" y2="742.21" stroke="#3c3c3c" stroke-width="1.6"/>
<line x1="1013.1" y1="679.36" x2="1032.8" y2="679.36" stroke="#3c3c3c" stroke-width="1.6"/>
<line x1="1023.3" y1="616.5" x2="1032.8" y2="616.5" stroke="#3c3c3c" stroke-width="1.6"/>
<line x1="1013.1" y1="553.64" x2="1032.8" y2="553.64" stroke="#3c3c3c" stroke-width="1.6"/>
<line x1="1023.3" y1="490.79" x2="1032.8" y2="490.79" stroke="#3c3c3c" stroke-width="1.6"/>
<line x1="1013.1" y1="427.93" x2="1032.8" y2="427.93" stroke="#3c3c3c" stroke-width="1.6"/>
<line x1="1023.3" y1="365.07" x2="1032.8" y2="365.07" stroke="#3c3c3c" stroke-width="1.6"/>
<line x1="1013.1" y1="302.21" x2="1032.8" y2="302.21" stroke="#3c3c3c" stroke-width="1.6"/>
<line x1="1023.3" y1="239.36" x2="1032.8" y2="239.36" stroke="#3c3c3c" stroke-width="1.6"/>
<line x1="1013.1" y1="176.5" x2="1032.8" y2="176.5" stroke="#3c3c3c" stroke-width="1.6"/>
<text x="999.5" y="1069.8" font-size="37" text-anchor="end">0</text>
<text x="999.5" y="944.09" font-size="37" text-anchor="end">200</text>
<text x="999.5" y="818.37" font-size="37" text-anchor="end">400</text>
<text x="999.5" y="692.66" font-size="37" text-anchor="end">600</text>
<text x="999.5" y="566.94" font-size="37" text-anchor="end">800</text>
<text x="999.5" y="441.23" font-size="37" text-anchor="end">1000</text>
<text x="999.5" y="315.51" font-size="37" text-anchor="end">1200</text>
<text x="999.5" y="189.8" font-size="37" text-anchor="end">1400</text>
<text x="1033.5" y="146.4" font-size="37.5" text-anchor="middle">0</text>
<text x="1190.6" y="160.1" font-size="37.5" text-anchor="middle">10</text>
<text x="1340.3" y="201.6" font-size="37.5" text-anchor="middle">20</text>
<text x="1504.6" y="268" font-size="37.5" text-anchor="middle">30</text>
<text x="1632.6" y="357" font-size="37.5" text-anchor="middle">40</text>
<text x="1743.5" y="467.5" font-size="37.5" text-anchor="middle">50</text>
<text x="1833.3" y="596.6" font-size="37.5" text-anchor="middle">60</text>
<text x="1900.6" y="761.1" font-size="37.5" text-anchor="middle">70</text>
<text x="1940.9" y="912.4" font-size="37.5" text-anchor="middle">80</text>
<text x="1953.9" y="1068" font-size="37.5" text-anchor="middle">90</text>
<text x="897" y="708" font-size="56" transform="rotate(-90 897 708)"><tspan font-style="italic">d</tspan><tspan font-size="37" dy="14">eff</tspan><tspan dy="-14"> (pm V</tspan><tspan font-size="37" dy="-24">&#8211;1</tspan><tspan dy="24">)</tspan></text>
<line x1="1045.86" y1="683.02" x2="1128.94" y2="817.58" stroke="#E41A1C" stroke-width="1.7"/>
<line x1="1182" y1="874.66" x2="1190.3" y2="874.54" stroke="#E41A1C" stroke-width="1.7"/>
<line x1="1197.28" y1="890.28" x2="1079.32" y2="1016.52" stroke="#E41A1C" stroke-width="1.7"/>
<line x1="1050.1" y1="683.42" x2="1158.1" y2="755.5" stroke="#4BAD4A" stroke-width="1.7"/>
<line x1="1175.8" y1="789.7" x2="1174.6" y2="833.85" stroke="#4BAD4A" stroke-width="1.7"/>
<line x1="1197.31" y1="891.66" x2="1093.59" y2="1005.91" stroke="#4BAD4A" stroke-width="1.7"/>
<line x1="1044.47" y1="284.65" x2="1256.03" y2="564.35" stroke="#3579BE" stroke-width="1.7"/>
<line x1="1270.26" y1="603.88" x2="1274.04" y2="690.22" stroke="#3579BE" stroke-width="1.7"/>
<line x1="1293.92" y1="723.43" x2="1319.08" y2="738.37" stroke="#3579BE" stroke-width="1.7"/>
<line x1="1323.47" y1="766.12" x2="1145.03" y2="969.08" stroke="#3579BE" stroke-width="1.7"/>
<rect x="1020.8" y="650.8" width="27" height="27" fill="#E41A1C" stroke="none" stroke-width="0"/>
<rect x="1127" y="822.8" width="27" height="27" fill="#E41A1C" stroke="none" stroke-width="0"/>
<rect x="1146.5" y="861.5" width="27" height="27" fill="#E41A1C" stroke="none" stroke-width="0"/>
<rect x="1198.8" y="860.7" width="27" height="27" fill="#E41A1C" stroke="none" stroke-width="0"/>
<rect x="1050.8" y="1019.1" width="27" height="27" fill="#E41A1C" stroke="none" stroke-width="0"/>
<circle cx="1031.2" cy="267.1" r="14.5" fill="#3579BE"/>
<circle cx="1269.3" cy="581.9" r="14.5" fill="#3579BE"/>
<circle cx="1275" cy="712.2" r="14.5" fill="#3579BE"/>
<circle cx="1338" cy="749.6" r="14.5" fill="#3579BE"/>
<circle cx="1130.5" cy="985.6" r="14.5" fill="#3579BE"/>
<polygon points="1031.8,650.5 1013.5,684.1 1050.1,684.1" fill="#4BAD4A" stroke="none" stroke-width="0"/>
<polygon points="1176.4,748.3 1158.1,779.8 1194.7,779.8" fill="#4BAD4A" stroke="none" stroke-width="0"/>
<polygon points="1174,836.8 1155.7,867.7 1192.3,867.7" fill="#4BAD4A" stroke="none" stroke-width="0"/>
<polygon points="1212.1,855.9 1193.8,887.5 1230.4,887.5" fill="#4BAD4A" stroke="none" stroke-width="0"/>
<polygon points="1078.8,1003.1 1060.5,1034.1 1097.1,1034.1" fill="#4BAD4A" stroke="none" stroke-width="0"/>
<text x="1040.5" y="228.8" font-size="37.5" textLength="87.5" lengthAdjust="spacingAndGlyphs">{200}</text>
<text x="1275.5" y="542.9" font-size="37.5" textLength="87.5" lengthAdjust="spacingAndGlyphs">{210}</text>
<text x="1297.2" y="670.2" font-size="37.5" textLength="87.5" lengthAdjust="spacingAndGlyphs">{211}</text>
<text x="1370.3" y="731.3" font-size="37.5" textLength="87.5" lengthAdjust="spacingAndGlyphs">{110}</text>
<text x="1172.4" y="989.7" font-size="37.5" textLength="87.5" lengthAdjust="spacingAndGlyphs">{111}</text>
<polygon points="1140.5,255.2 1161,242.8 1224.3,242.8 1202.9,255.2" fill="#33C5F3" stroke="none" stroke-width="0" fill-opacity="0.95"/>
<line x1="1161.3" y1="272" x2="1161.3" y2="208.9" stroke="#3a3a3a" stroke-width="1.5" stroke-dasharray="1.6 1.8"/>
<line x1="1161.3" y1="272" x2="1224.3" y2="272" stroke="#3a3a3a" stroke-width="1.5" stroke-dasharray="1.6 1.8"/>
<line x1="1161.3" y1="272" x2="1139.3" y2="284.7" stroke="#3a3a3a" stroke-width="1.5" stroke-dasharray="1.6 1.8"/>
<line x1="1139.3" y1="222" x2="1202.9" y2="222.3" stroke="#3a3a3a" stroke-width="1.6" stroke-linecap="round"/>
<line x1="1202.9" y1="222.3" x2="1202.9" y2="284.7" stroke="#3a3a3a" stroke-width="1.6" stroke-linecap="round"/>
<line x1="1202.9" y1="284.7" x2="1139.3" y2="284.7" stroke="#3a3a3a" stroke-width="1.6" stroke-linecap="round"/>
<line x1="1139.3" y1="284.7" x2="1139.3" y2="222" stroke="#3a3a3a" stroke-width="1.6" stroke-linecap="round"/>
<line x1="1139.3" y1="222" x2="1161.3" y2="208.9" stroke="#3a3a3a" stroke-width="1.6" stroke-linecap="round"/>
<line x1="1161.3" y1="208.9" x2="1224.3" y2="209.3" stroke="#3a3a3a" stroke-width="1.6" stroke-linecap="round"/>
<line x1="1224.3" y1="209.3" x2="1202.9" y2="222.3" stroke="#3a3a3a" stroke-width="1.6" stroke-linecap="round"/>
<line x1="1224.3" y1="209.3" x2="1224.3" y2="272" stroke="#3a3a3a" stroke-width="1.6" stroke-linecap="round"/>
<line x1="1224.3" y1="272" x2="1202.9" y2="284.7" stroke="#3a3a3a" stroke-width="1.6" stroke-linecap="round"/>
<polygon points="1322.5,471.5 1341.5,460 1412.6,460 1395.5,471.5" fill="#33C5F3" stroke="none" stroke-width="0" fill-opacity="0.95"/>
<line x1="1341.5" y1="460" x2="1370.3" y2="404.7" stroke="#3a3a3a" stroke-width="1.5" stroke-dasharray="1.6 1.8"/>
<line x1="1341.5" y1="460" x2="1397" y2="489.6" stroke="#3a3a3a" stroke-width="1.5" stroke-dasharray="1.6 1.8"/>
<line x1="1341.5" y1="460" x2="1322.5" y2="471.5" stroke="#3a3a3a" stroke-width="1.5" stroke-dasharray="1.6 1.8"/>
<line x1="1351.6" y1="416.1" x2="1370.3" y2="404.7" stroke="#3a3a3a" stroke-width="1.6" stroke-linecap="round"/>
<line x1="1370.3" y1="404.7" x2="1426.6" y2="434.3" stroke="#3a3a3a" stroke-width="1.6" stroke-linecap="round"/>
<line x1="1426.6" y1="434.3" x2="1407.5" y2="445.6" stroke="#3a3a3a" stroke-width="1.6" stroke-linecap="round"/>
<line x1="1407.5" y1="445.6" x2="1351.6" y2="416.1" stroke="#3a3a3a" stroke-width="1.6" stroke-linecap="round"/>
<line x1="1351.6" y1="416.1" x2="1322.5" y2="471.5" stroke="#3a3a3a" stroke-width="1.6" stroke-linecap="round"/>
<line x1="1322.5" y1="471.5" x2="1378.6" y2="500.7" stroke="#3a3a3a" stroke-width="1.6" stroke-linecap="round"/>
<line x1="1378.6" y1="500.7" x2="1407.5" y2="445.6" stroke="#3a3a3a" stroke-width="1.6" stroke-linecap="round"/>
<line x1="1426.6" y1="434.3" x2="1397" y2="489.6" stroke="#3a3a3a" stroke-width="1.6" stroke-linecap="round"/>
<line x1="1397" y1="489.6" x2="1378.6" y2="500.7" stroke="#3a3a3a" stroke-width="1.6" stroke-linecap="round"/>
<polygon points="1395.5,590.7 1480.9,584.1 1505.4,581 1463.5,609.3" fill="#33C5F3" stroke="none" stroke-width="0" fill-opacity="0.95"/>
<line x1="1416.5" y1="584.4" x2="1458.8" y2="538" stroke="#3a3a3a" stroke-width="1.5" stroke-dasharray="1.6 1.8"/>
<line x1="1416.5" y1="584.4" x2="1395.5" y2="590.7" stroke="#3a3a3a" stroke-width="1.5" stroke-dasharray="1.6 1.8"/>
<line x1="1416.5" y1="584.4" x2="1462.7" y2="627.5" stroke="#3a3a3a" stroke-width="1.5" stroke-dasharray="1.6 1.8"/>
<line x1="1395.5" y1="590.7" x2="1438.6" y2="544.5" stroke="#3a3a3a" stroke-width="1.6" stroke-linecap="round"/>
<line x1="1438.6" y1="544.5" x2="1458.8" y2="538" stroke="#3a3a3a" stroke-width="1.6" stroke-linecap="round"/>
<line x1="1458.8" y1="538" x2="1505.4" y2="581" stroke="#3a3a3a" stroke-width="1.6" stroke-linecap="round"/>
<line x1="1438.6" y1="544.5" x2="1484" y2="587.2" stroke="#3a3a3a" stroke-width="1.6" stroke-linecap="round"/>
<line x1="1484" y1="587.2" x2="1505.4" y2="581" stroke="#3a3a3a" stroke-width="1.6" stroke-linecap="round"/>
<line x1="1395.5" y1="590.7" x2="1442.9" y2="633.7" stroke="#3a3a3a" stroke-width="1.6" stroke-linecap="round"/>
<line x1="1442.9" y1="633.7" x2="1484" y2="587.2" stroke="#3a3a3a" stroke-width="1.6" stroke-linecap="round"/>
<line x1="1442.9" y1="633.7" x2="1462.7" y2="627.5" stroke="#3a3a3a" stroke-width="1.6" stroke-linecap="round"/>
<line x1="1462.7" y1="627.5" x2="1505.4" y2="581" stroke="#3a3a3a" stroke-width="1.6" stroke-linecap="round"/>
<polygon points="1470.9,686.3 1497,675.1 1585.4,675.2 1560.4,686.3" fill="#33C5F3" stroke="none" stroke-width="0" fill-opacity="0.95"/>
<line x1="1497" y1="675.1" x2="1540.4" y2="630.7" stroke="#3a3a3a" stroke-width="1.5" stroke-dasharray="1.6 1.8"/>
<line x1="1497" y1="675.1" x2="1470.9" y2="686.3" stroke="#3a3a3a" stroke-width="1.5" stroke-dasharray="1.6 1.8"/>
<line x1="1497" y1="675.1" x2="1541.2" y2="720" stroke="#3a3a3a" stroke-width="1.5" stroke-dasharray="1.6 1.8"/>
<line x1="1470.9" y1="686.3" x2="1515.4" y2="641.7" stroke="#3a3a3a" stroke-width="1.6" stroke-linecap="round"/>
<line x1="1515.4" y1="641.7" x2="1540.4" y2="630.7" stroke="#3a3a3a" stroke-width="1.6" stroke-linecap="round"/>
<line x1="1540.4" y1="630.7" x2="1585.4" y2="675.2" stroke="#3a3a3a" stroke-width="1.6" stroke-linecap="round"/>
<line x1="1515.4" y1="641.7" x2="1560.4" y2="686.3" stroke="#3a3a3a" stroke-width="1.6" stroke-linecap="round"/>
<line x1="1560.4" y1="686.3" x2="1585.4" y2="675.2" stroke="#3a3a3a" stroke-width="1.6" stroke-linecap="round"/>
<line x1="1470.9" y1="686.3" x2="1516.2" y2="730.9" stroke="#3a3a3a" stroke-width="1.6" stroke-linecap="round"/>
<line x1="1516.2" y1="730.9" x2="1560.4" y2="686.3" stroke="#3a3a3a" stroke-width="1.6" stroke-linecap="round"/>
<line x1="1516.2" y1="730.9" x2="1541.2" y2="720" stroke="#3a3a3a" stroke-width="1.6" stroke-linecap="round"/>
<line x1="1541.2" y1="720" x2="1585.4" y2="675.2" stroke="#3a3a3a" stroke-width="1.6" stroke-linecap="round"/>
<polygon points="1284.1,962.4 1373.3,962.1 1339.3,980.3" fill="#33C5F3" stroke="none" stroke-width="0" fill-opacity="0.95"/>
<line x1="1338.6" y1="891.4" x2="1328.2" y2="917.7" stroke="#3a3a3a" stroke-width="1.5" stroke-dasharray="1.6 1.8"/>
<line x1="1328.2" y1="917.7" x2="1284.1" y2="962.4" stroke="#3a3a3a" stroke-width="1.5" stroke-dasharray="1.6 1.8"/>
<line x1="1328.2" y1="917.7" x2="1373.3" y2="962.1" stroke="#3a3a3a" stroke-width="1.5" stroke-dasharray="1.6 1.8"/>
<line x1="1338.6" y1="891.4" x2="1294.6" y2="936.4" stroke="#3a3a3a" stroke-width="1.6" stroke-linecap="round"/>
<line x1="1338.6" y1="891.4" x2="1383.7" y2="936.2" stroke="#3a3a3a" stroke-width="1.6" stroke-linecap="round"/>
<line x1="1294.6" y1="936.4" x2="1284.1" y2="962.4" stroke="#3a3a3a" stroke-width="1.6" stroke-linecap="round"/>
<line x1="1294.6" y1="936.4" x2="1339.3" y2="980.3" stroke="#3a3a3a" stroke-width="1.6" stroke-linecap="round"/>
<line x1="1383.7" y1="936.2" x2="1339.3" y2="980.3" stroke="#3a3a3a" stroke-width="1.6" stroke-linecap="round"/>
<line x1="1383.7" y1="936.2" x2="1373.3" y2="962.1" stroke="#3a3a3a" stroke-width="1.6" stroke-linecap="round"/>
<line x1="1284.1" y1="962.4" x2="1328.9" y2="1007.5" stroke="#3a3a3a" stroke-width="1.6" stroke-linecap="round"/>
<line x1="1339.3" y1="980.3" x2="1328.9" y2="1007.5" stroke="#3a3a3a" stroke-width="1.6" stroke-linecap="round"/>
<line x1="1373.3" y1="962.1" x2="1328.9" y2="1007.5" stroke="#3a3a3a" stroke-width="1.6" stroke-linecap="round"/>
<rect x="1613.3" y="868.3" width="226.8" height="172.4" fill="#000" stroke="none" stroke-width="0"/>
<rect x="1603.15" y="858.55" width="228.3" height="172.8" fill="#fff" stroke="#000" stroke-width="2.9"/>
<line x1="1609.7" y1="889.7" x2="1638" y2="889.7" stroke="#E41A1C" stroke-width="1.7"/>
<line x1="1676.8" y1="889.7" x2="1705.8" y2="889.7" stroke="#E41A1C" stroke-width="1.7"/>
<rect x="1643.1" y="876.7" width="26" height="26" fill="#E41A1C" stroke="none" stroke-width="0"/>
<text x="1717.7" y="904" font-size="42" font-weight="bold" fill="#E41A1C" textLength="105.8" lengthAdjust="spacingAndGlyphs">0.002</text>
<line x1="1609.7" y1="944.6" x2="1638" y2="944.6" stroke="#3579BE" stroke-width="1.7"/>
<line x1="1676.8" y1="944.6" x2="1705.8" y2="944.6" stroke="#3579BE" stroke-width="1.7"/>
<circle cx="1657.2" cy="944.6" r="14.1" fill="#3579BE"/>
<text x="1717.7" y="958.9" font-size="42" font-weight="bold" fill="#3579BE" textLength="105.8" lengthAdjust="spacingAndGlyphs">0.006</text>
<line x1="1609.7" y1="1000.9" x2="1638" y2="1000.9" stroke="#4BAD4A" stroke-width="1.7"/>
<line x1="1676.8" y1="1000.9" x2="1705.8" y2="1000.9" stroke="#4BAD4A" stroke-width="1.7"/>
<polygon points="1657.2,981.3 1639.4,1011 1674.9,1011" fill="#4BAD4A" stroke="none" stroke-width="0"/>
<text x="1717.7" y="1015.2" font-size="42" font-weight="bold" fill="#4BAD4A" textLength="105.8" lengthAdjust="spacingAndGlyphs">0.008</text>
<polygon points="1898.8,238.8 1924.7,289.3 1909.3,289.3 1909.3,474.8 1888.7,474.8 1888.7,289.3 1873.5,289.3" fill="#000" stroke="none" stroke-width="0"/>
<text x="1832" y="404.7" font-size="66.5" font-weight="bold" font-style="italic">E</text>
<text x="903.5" y="63.3" font-size="60" font-weight="bold">c</text>
<polyline points="170.38,1462.4 175.84,1461.48 181.3,1460.63 186.75,1459.88 192.21,1459.26 197.67,1458.77 203.13,1458.38 208.59,1458.01 214.04,1457.71 219.5,1457.53 224.96,1457.51 230.42,1457.65 235.88,1457.92 241.33,1458.28 246.79,1458.7 252.25,1459.38 257.71,1460.49 263.17,1461.81 268.62,1463.09 274.08,1464.09 279.54,1464.86 285,1465.55 290.46,1466.29 295.91,1467.22 301.37,1468.55 306.83,1470.39 312.29,1472.52 317.75,1474.7 323.2,1476.7 328.66,1478.62 334.12,1480.53 339.58,1482.44 345.04,1484.35 350.49,1486.25 355.95,1488.12 361.41,1490.01 366.87,1491.93 372.33,1493.93 377.78,1495.91 383.24,1497.89 388.7,1499.99 394.16,1502.3 399.62,1504.94 405.07,1508.02 410.53,1511.55 415.99,1515.54 421.45,1519.96 426.91,1524.5 432.36,1531.47 437.82,1547.9 443.28,1556.13 448.74,1566.3 454.2,1571.7 459.65,1571.95 465.11,1568.65 470.57,1562.44 476.03,1555.57 481.49,1549.41 486.94,1543.8 492.4,1538.42 497.86,1533.03 503.32,1527.37 508.78,1521.27 514.23,1515.96 519.69,1511.79 525.15,1508.05 530.61,1504.65 536.07,1501.51 541.52,1498.52 546.98,1495.61 552.44,1492.69 557.9,1489.67 563.36,1486.46 568.81,1483.24 574.27,1480.28 579.73,1477.37 585.19,1474.32 590.65,1470.91 596.1,1466.95 601.56,1462.21 607.02,1454.86 607.02,1453.6 601.56,1452.71 596.1,1452.08 590.65,1451.51 585.19,1451.01 579.73,1450.61 574.27,1450.3 568.81,1450.12 563.36,1450.08 557.9,1450.33 552.44,1450.9 546.98,1451.72 541.52,1452.73 536.07,1453.89 530.61,1455.13 525.15,1456.39 519.69,1457.62 514.23,1458.76 508.78,1459.84 503.32,1460.95 497.86,1462.09 492.4,1463.27 486.94,1464.49 481.49,1465.76 476.03,1467.09 470.57,1468.49 465.11,1469.95 459.65,1471.53 454.2,1473.25 448.74,1475.07 443.28,1476.98 437.82,1478.96 432.36,1480.98 426.91,1483.02 421.45,1485.05 415.99,1487.05 410.53,1488.97 405.07,1490.89 399.62,1493.01 394.16,1495.46 388.7,1498.17 383.24,1501.18 377.78,1504.52 372.33,1508.23 366.87,1512.52 361.41,1517.39 355.95,1522.75 350.49,1528.51 345.04,1534.9 339.58,1542.2 334.12,1549.84 328.66,1557.98 323.2,1565.75 317.75,1572.51 312.29,1571.95 306.83,1566.81 301.37,1561.54 295.91,1556.06 290.46,1550.18 285,1544.05 279.54,1537.88 274.08,1531.87 268.62,1526.21 263.17,1521.11 257.71,1516.72 252.25,1512.94 246.79,1509.52 241.33,1506.23 235.88,1502.85 230.42,1499.29 224.96,1495.71 219.5,1492.13 214.04,1488.55 208.59,1484.98 203.13,1481.33 197.67,1477.65 192.21,1474.09 186.75,1470.76 181.3,1467.75 175.84,1464.97 170.38,1462.4" fill="none" stroke="#E41A1C" stroke-width="1.3" stroke-linejoin="round"/>
<rect x="166.08" y="1458.11" width="8.6" height="8.6" fill="#E41A1C" stroke="none" stroke-width="0"/>
<rect x="171.54" y="1457.18" width="8.6" height="8.6" fill="#E41A1C" stroke="none" stroke-width="0"/>
<rect x="177" y="1456.33" width="8.6" height="8.6" fill="#E41A1C" stroke="none" stroke-width="0"/>
<rect x="182.45" y="1455.58" width="8.6" height="8.6" fill="#E41A1C" stroke="none" stroke-width="0"/>
<rect x="187.91" y="1454.96" width="8.6" height="8.6" fill="#E41A1C" stroke="none" stroke-width="0"/>
<rect x="193.37" y="1454.47" width="8.6" height="8.6" fill="#E41A1C" stroke="none" stroke-width="0"/>
<rect x="198.83" y="1454.08" width="8.6" height="8.6" fill="#E41A1C" stroke="none" stroke-width="0"/>
<rect x="204.29" y="1453.71" width="8.6" height="8.6" fill="#E41A1C" stroke="none" stroke-width="0"/>
<rect x="209.74" y="1453.41" width="8.6" height="8.6" fill="#E41A1C" stroke="none" stroke-width="0"/>
<rect x="215.2" y="1453.23" width="8.6" height="8.6" fill="#E41A1C" stroke="none" stroke-width="0"/>
<rect x="220.66" y="1453.21" width="8.6" height="8.6" fill="#E41A1C" stroke="none" stroke-width="0"/>
<rect x="226.12" y="1453.35" width="8.6" height="8.6" fill="#E41A1C" stroke="none" stroke-width="0"/>
<rect x="231.58" y="1453.62" width="8.6" height="8.6" fill="#E41A1C" stroke="none" stroke-width="0"/>
<rect x="237.03" y="1453.98" width="8.6" height="8.6" fill="#E41A1C" stroke="none" stroke-width="0"/>
<rect x="242.49" y="1454.4" width="8.6" height="8.6" fill="#E41A1C" stroke="none" stroke-width="0"/>
<rect x="247.95" y="1455.08" width="8.6" height="8.6" fill="#E41A1C" stroke="none" stroke-width="0"/>
<rect x="253.41" y="1456.19" width="8.6" height="8.6" fill="#E41A1C" stroke="none" stroke-width="0"/>
<rect x="258.87" y="1457.51" width="8.6" height="8.6" fill="#E41A1C" stroke="none" stroke-width="0"/>
<rect x="264.32" y="1458.79" width="8.6" height="8.6" fill="#E41A1C" stroke="none" stroke-width="0"/>
<rect x="269.78" y="1459.79" width="8.6" height="8.6" fill="#E41A1C" stroke="none" stroke-width="0"/>
<rect x="275.24" y="1460.56" width="8.6" height="8.6" fill="#E41A1C" stroke="none" stroke-width="0"/>
<rect x="280.7" y="1461.25" width="8.6" height="8.6" fill="#E41A1C" stroke="none" stroke-width="0"/>
<rect x="286.16" y="1461.99" width="8.6" height="8.6" fill="#E41A1C" stroke="none" stroke-width="0"/>
<rect x="291.61" y="1462.92" width="8.6" height="8.6" fill="#E41A1C" stroke="none" stroke-width="0"/>
<rect x="297.07" y="1464.25" width="8.6" height="8.6" fill="#E41A1C" stroke="none" stroke-width="0"/>
<rect x="302.53" y="1466.09" width="8.6" height="8.6" fill="#E41A1C" stroke="none" stroke-width="0"/>
<rect x="307.99" y="1468.22" width="8.6" height="8.6" fill="#E41A1C" stroke="none" stroke-width="0"/>
<rect x="313.45" y="1470.4" width="8.6" height="8.6" fill="#E41A1C" stroke="none" stroke-width="0"/>
<rect x="318.9" y="1472.4" width="8.6" height="8.6" fill="#E41A1C" stroke="none" stroke-width="0"/>
<rect x="324.36" y="1474.32" width="8.6" height="8.6" fill="#E41A1C" stroke="none" stroke-width="0"/>
<rect x="329.82" y="1476.23" width="8.6" height="8.6" fill="#E41A1C" stroke="none" stroke-width="0"/>
<rect x="335.28" y="1478.14" width="8.6" height="8.6" fill="#E41A1C" stroke="none" stroke-width="0"/>
<rect x="340.74" y="1480.05" width="8.6" height="8.6" fill="#E41A1C" stroke="none" stroke-width="0"/>
<rect x="346.19" y="1481.95" width="8.6" height="8.6" fill="#E41A1C" stroke="none" stroke-width="0"/>
<rect x="351.65" y="1483.82" width="8.6" height="8.6" fill="#E41A1C" stroke="none" stroke-width="0"/>
<rect x="357.11" y="1485.71" width="8.6" height="8.6" fill="#E41A1C" stroke="none" stroke-width="0"/>
<rect x="362.57" y="1487.63" width="8.6" height="8.6" fill="#E41A1C" stroke="none" stroke-width="0"/>
<rect x="368.03" y="1489.63" width="8.6" height="8.6" fill="#E41A1C" stroke="none" stroke-width="0"/>
<rect x="373.48" y="1491.61" width="8.6" height="8.6" fill="#E41A1C" stroke="none" stroke-width="0"/>
<rect x="378.94" y="1493.59" width="8.6" height="8.6" fill="#E41A1C" stroke="none" stroke-width="0"/>
<rect x="384.4" y="1495.69" width="8.6" height="8.6" fill="#E41A1C" stroke="none" stroke-width="0"/>
<rect x="389.86" y="1498" width="8.6" height="8.6" fill="#E41A1C" stroke="none" stroke-width="0"/>
<rect x="395.32" y="1500.64" width="8.6" height="8.6" fill="#E41A1C" stroke="none" stroke-width="0"/>
<rect x="400.77" y="1503.72" width="8.6" height="8.6" fill="#E41A1C" stroke="none" stroke-width="0"/>
<rect x="406.23" y="1507.25" width="8.6" height="8.6" fill="#E41A1C" stroke="none" stroke-width="0"/>
<rect x="411.69" y="1511.24" width="8.6" height="8.6" fill="#E41A1C" stroke="none" stroke-width="0"/>
<rect x="417.15" y="1515.66" width="8.6" height="8.6" fill="#E41A1C" stroke="none" stroke-width="0"/>
<rect x="422.61" y="1520.2" width="8.6" height="8.6" fill="#E41A1C" stroke="none" stroke-width="0"/>
<rect x="428.06" y="1527.17" width="8.6" height="8.6" fill="#E41A1C" stroke="none" stroke-width="0"/>
<rect x="433.52" y="1543.6" width="8.6" height="8.6" fill="#E41A1C" stroke="none" stroke-width="0"/>
<rect x="438.98" y="1551.83" width="8.6" height="8.6" fill="#E41A1C" stroke="none" stroke-width="0"/>
<rect x="444.44" y="1562" width="8.6" height="8.6" fill="#E41A1C" stroke="none" stroke-width="0"/>
<rect x="449.9" y="1567.4" width="8.6" height="8.6" fill="#E41A1C" stroke="none" stroke-width="0"/>
<rect x="455.35" y="1567.65" width="8.6" height="8.6" fill="#E41A1C" stroke="none" stroke-width="0"/>
<rect x="460.81" y="1564.35" width="8.6" height="8.6" fill="#E41A1C" stroke="none" stroke-width="0"/>
<rect x="466.27" y="1558.14" width="8.6" height="8.6" fill="#E41A1C" stroke="none" stroke-width="0"/>
<rect x="471.73" y="1551.27" width="8.6" height="8.6" fill="#E41A1C" stroke="none" stroke-width="0"/>
<rect x="477.19" y="1545.11" width="8.6" height="8.6" fill="#E41A1C" stroke="none" stroke-width="0"/>
<rect x="482.64" y="1539.5" width="8.6" height="8.6" fill="#E41A1C" stroke="none" stroke-width="0"/>
<rect x="488.1" y="1534.12" width="8.6" height="8.6" fill="#E41A1C" stroke="none" stroke-width="0"/>
<rect x="493.56" y="1528.73" width="8.6" height="8.6" fill="#E41A1C" stroke="none" stroke-width="0"/>
<rect x="499.02" y="1523.07" width="8.6" height="8.6" fill="#E41A1C" stroke="none" stroke-width="0"/>
<rect x="504.48" y="1516.97" width="8.6" height="8.6" fill="#E41A1C" stroke="none" stroke-width="0"/>
<rect x="509.93" y="1511.66" width="8.6" height="8.6" fill="#E41A1C" stroke="none" stroke-width="0"/>
<rect x="515.39" y="1507.49" width="8.6" height="8.6" fill="#E41A1C" stroke="none" stroke-width="0"/>
<rect x="520.85" y="1503.75" width="8.6" height="8.6" fill="#E41A1C" stroke="none" stroke-width="0"/>
<rect x="526.31" y="1500.35" width="8.6" height="8.6" fill="#E41A1C" stroke="none" stroke-width="0"/>
<rect x="531.77" y="1497.21" width="8.6" height="8.6" fill="#E41A1C" stroke="none" stroke-width="0"/>
<rect x="537.22" y="1494.22" width="8.6" height="8.6" fill="#E41A1C" stroke="none" stroke-width="0"/>
<rect x="542.68" y="1491.31" width="8.6" height="8.6" fill="#E41A1C" stroke="none" stroke-width="0"/>
<rect x="548.14" y="1488.39" width="8.6" height="8.6" fill="#E41A1C" stroke="none" stroke-width="0"/>
<rect x="553.6" y="1485.37" width="8.6" height="8.6" fill="#E41A1C" stroke="none" stroke-width="0"/>
<rect x="559.06" y="1482.16" width="8.6" height="8.6" fill="#E41A1C" stroke="none" stroke-width="0"/>
<rect x="564.51" y="1478.94" width="8.6" height="8.6" fill="#E41A1C" stroke="none" stroke-width="0"/>
<rect x="569.97" y="1475.98" width="8.6" height="8.6" fill="#E41A1C" stroke="none" stroke-width="0"/>
<rect x="575.43" y="1473.07" width="8.6" height="8.6" fill="#E41A1C" stroke="none" stroke-width="0"/>
<rect x="580.89" y="1470.02" width="8.6" height="8.6" fill="#E41A1C" stroke="none" stroke-width="0"/>
<rect x="586.35" y="1466.61" width="8.6" height="8.6" fill="#E41A1C" stroke="none" stroke-width="0"/>
<rect x="591.8" y="1462.65" width="8.6" height="8.6" fill="#E41A1C" stroke="none" stroke-width="0"/>
<rect x="597.26" y="1457.91" width="8.6" height="8.6" fill="#E41A1C" stroke="none" stroke-width="0"/>
<rect x="602.72" y="1450.56" width="8.6" height="8.6" fill="#E41A1C" stroke="none" stroke-width="0"/>
<rect x="602.72" y="1449.3" width="8.6" height="8.6" fill="#E41A1C" stroke="none" stroke-width="0"/>
<rect x="597.26" y="1448.41" width="8.6" height="8.6" fill="#E41A1C" stroke="none" stroke-width="0"/>
<rect x="591.8" y="1447.78" width="8.6" height="8.6" fill="#E41A1C" stroke="none" stroke-width="0"/>
<rect x="586.35" y="1447.21" width="8.6" height="8.6" fill="#E41A1C" stroke="none" stroke-width="0"/>
<rect x="580.89" y="1446.71" width="8.6" height="8.6" fill="#E41A1C" stroke="none" stroke-width="0"/>
<rect x="575.43" y="1446.31" width="8.6" height="8.6" fill="#E41A1C" stroke="none" stroke-width="0"/>
<rect x="569.97" y="1446" width="8.6" height="8.6" fill="#E41A1C" stroke="none" stroke-width="0"/>
<rect x="564.51" y="1445.82" width="8.6" height="8.6" fill="#E41A1C" stroke="none" stroke-width="0"/>
<rect x="559.06" y="1445.78" width="8.6" height="8.6" fill="#E41A1C" stroke="none" stroke-width="0"/>
<rect x="553.6" y="1446.03" width="8.6" height="8.6" fill="#E41A1C" stroke="none" stroke-width="0"/>
<rect x="548.14" y="1446.6" width="8.6" height="8.6" fill="#E41A1C" stroke="none" stroke-width="0"/>
<rect x="542.68" y="1447.42" width="8.6" height="8.6" fill="#E41A1C" stroke="none" stroke-width="0"/>
<rect x="537.22" y="1448.43" width="8.6" height="8.6" fill="#E41A1C" stroke="none" stroke-width="0"/>
<rect x="531.77" y="1449.59" width="8.6" height="8.6" fill="#E41A1C" stroke="none" stroke-width="0"/>
<rect x="526.31" y="1450.83" width="8.6" height="8.6" fill="#E41A1C" stroke="none" stroke-width="0"/>
<rect x="520.85" y="1452.09" width="8.6" height="8.6" fill="#E41A1C" stroke="none" stroke-width="0"/>
<rect x="515.39" y="1453.32" width="8.6" height="8.6" fill="#E41A1C" stroke="none" stroke-width="0"/>
<rect x="509.93" y="1454.46" width="8.6" height="8.6" fill="#E41A1C" stroke="none" stroke-width="0"/>
<rect x="504.48" y="1455.54" width="8.6" height="8.6" fill="#E41A1C" stroke="none" stroke-width="0"/>
<rect x="499.02" y="1456.65" width="8.6" height="8.6" fill="#E41A1C" stroke="none" stroke-width="0"/>
<rect x="493.56" y="1457.79" width="8.6" height="8.6" fill="#E41A1C" stroke="none" stroke-width="0"/>
<rect x="488.1" y="1458.97" width="8.6" height="8.6" fill="#E41A1C" stroke="none" stroke-width="0"/>
<rect x="482.64" y="1460.19" width="8.6" height="8.6" fill="#E41A1C" stroke="none" stroke-width="0"/>
<rect x="477.19" y="1461.46" width="8.6" height="8.6" fill="#E41A1C" stroke="none" stroke-width="0"/>
<rect x="471.73" y="1462.79" width="8.6" height="8.6" fill="#E41A1C" stroke="none" stroke-width="0"/>
<rect x="466.27" y="1464.19" width="8.6" height="8.6" fill="#E41A1C" stroke="none" stroke-width="0"/>
<rect x="460.81" y="1465.65" width="8.6" height="8.6" fill="#E41A1C" stroke="none" stroke-width="0"/>
<rect x="455.35" y="1467.23" width="8.6" height="8.6" fill="#E41A1C" stroke="none" stroke-width="0"/>
<rect x="449.9" y="1468.95" width="8.6" height="8.6" fill="#E41A1C" stroke="none" stroke-width="0"/>
<rect x="444.44" y="1470.77" width="8.6" height="8.6" fill="#E41A1C" stroke="none" stroke-width="0"/>
<rect x="438.98" y="1472.68" width="8.6" height="8.6" fill="#E41A1C" stroke="none" stroke-width="0"/>
<rect x="433.52" y="1474.66" width="8.6" height="8.6" fill="#E41A1C" stroke="none" stroke-width="0"/>
<rect x="428.06" y="1476.68" width="8.6" height="8.6" fill="#E41A1C" stroke="none" stroke-width="0"/>
<rect x="422.61" y="1478.72" width="8.6" height="8.6" fill="#E41A1C" stroke="none" stroke-width="0"/>
<rect x="417.15" y="1480.75" width="8.6" height="8.6" fill="#E41A1C" stroke="none" stroke-width="0"/>
<rect x="411.69" y="1482.75" width="8.6" height="8.6" fill="#E41A1C" stroke="none" stroke-width="0"/>
<rect x="406.23" y="1484.67" width="8.6" height="8.6" fill="#E41A1C" stroke="none" stroke-width="0"/>
<rect x="400.77" y="1486.59" width="8.6" height="8.6" fill="#E41A1C" stroke="none" stroke-width="0"/>
<rect x="395.32" y="1488.71" width="8.6" height="8.6" fill="#E41A1C" stroke="none" stroke-width="0"/>
<rect x="389.86" y="1491.16" width="8.6" height="8.6" fill="#E41A1C" stroke="none" stroke-width="0"/>
<rect x="384.4" y="1493.87" width="8.6" height="8.6" fill="#E41A1C" stroke="none" stroke-width="0"/>
<rect x="378.94" y="1496.88" width="8.6" height="8.6" fill="#E41A1C" stroke="none" stroke-width="0"/>
<rect x="373.48" y="1500.22" width="8.6" height="8.6" fill="#E41A1C" stroke="none" stroke-width="0"/>
<rect x="368.03" y="1503.93" width="8.6" height="8.6" fill="#E41A1C" stroke="none" stroke-width="0"/>
<rect x="362.57" y="1508.22" width="8.6" height="8.6" fill="#E41A1C" stroke="none" stroke-width="0"/>
<rect x="357.11" y="1513.09" width="8.6" height="8.6" fill="#E41A1C" stroke="none" stroke-width="0"/>
<rect x="351.65" y="1518.45" width="8.6" height="8.6" fill="#E41A1C" stroke="none" stroke-width="0"/>
<rect x="346.19" y="1524.21" width="8.6" height="8.6" fill="#E41A1C" stroke="none" stroke-width="0"/>
<rect x="340.74" y="1530.6" width="8.6" height="8.6" fill="#E41A1C" stroke="none" stroke-width="0"/>
<rect x="335.28" y="1537.9" width="8.6" height="8.6" fill="#E41A1C" stroke="none" stroke-width="0"/>
<rect x="329.82" y="1545.54" width="8.6" height="8.6" fill="#E41A1C" stroke="none" stroke-width="0"/>
<rect x="324.36" y="1553.68" width="8.6" height="8.6" fill="#E41A1C" stroke="none" stroke-width="0"/>
<rect x="318.9" y="1561.45" width="8.6" height="8.6" fill="#E41A1C" stroke="none" stroke-width="0"/>
<rect x="313.45" y="1568.21" width="8.6" height="8.6" fill="#E41A1C" stroke="none" stroke-width="0"/>
<rect x="307.99" y="1567.65" width="8.6" height="8.6" fill="#E41A1C" stroke="none" stroke-width="0"/>
<rect x="302.53" y="1562.51" width="8.6" height="8.6" fill="#E41A1C" stroke="none" stroke-width="0"/>
<rect x="297.07" y="1557.24" width="8.6" height="8.6" fill="#E41A1C" stroke="none" stroke-width="0"/>
<rect x="291.61" y="1551.76" width="8.6" height="8.6" fill="#E41A1C" stroke="none" stroke-width="0"/>
<rect x="286.16" y="1545.88" width="8.6" height="8.6" fill="#E41A1C" stroke="none" stroke-width="0"/>
<rect x="280.7" y="1539.75" width="8.6" height="8.6" fill="#E41A1C" stroke="none" stroke-width="0"/>
<rect x="275.24" y="1533.58" width="8.6" height="8.6" fill="#E41A1C" stroke="none" stroke-width="0"/>
<rect x="269.78" y="1527.57" width="8.6" height="8.6" fill="#E41A1C" stroke="none" stroke-width="0"/>
<rect x="264.32" y="1521.91" width="8.6" height="8.6" fill="#E41A1C" stroke="none" stroke-width="0"/>
<rect x="258.87" y="1516.81" width="8.6" height="8.6" fill="#E41A1C" stroke="none" stroke-width="0"/>
<rect x="253.41" y="1512.42" width="8.6" height="8.6" fill="#E41A1C" stroke="none" stroke-width="0"/>
<rect x="247.95" y="1508.64" width="8.6" height="8.6" fill="#E41A1C" stroke="none" stroke-width="0"/>
<rect x="242.49" y="1505.22" width="8.6" height="8.6" fill="#E41A1C" stroke="none" stroke-width="0"/>
<rect x="237.03" y="1501.93" width="8.6" height="8.6" fill="#E41A1C" stroke="none" stroke-width="0"/>
<rect x="231.58" y="1498.55" width="8.6" height="8.6" fill="#E41A1C" stroke="none" stroke-width="0"/>
<rect x="226.12" y="1494.99" width="8.6" height="8.6" fill="#E41A1C" stroke="none" stroke-width="0"/>
<rect x="220.66" y="1491.41" width="8.6" height="8.6" fill="#E41A1C" stroke="none" stroke-width="0"/>
<rect x="215.2" y="1487.83" width="8.6" height="8.6" fill="#E41A1C" stroke="none" stroke-width="0"/>
<rect x="209.74" y="1484.25" width="8.6" height="8.6" fill="#E41A1C" stroke="none" stroke-width="0"/>
<rect x="204.29" y="1480.68" width="8.6" height="8.6" fill="#E41A1C" stroke="none" stroke-width="0"/>
<rect x="198.83" y="1477.03" width="8.6" height="8.6" fill="#E41A1C" stroke="none" stroke-width="0"/>
<rect x="193.37" y="1473.35" width="8.6" height="8.6" fill="#E41A1C" stroke="none" stroke-width="0"/>
<rect x="187.91" y="1469.79" width="8.6" height="8.6" fill="#E41A1C" stroke="none" stroke-width="0"/>
<rect x="182.45" y="1466.46" width="8.6" height="8.6" fill="#E41A1C" stroke="none" stroke-width="0"/>
<rect x="177" y="1463.45" width="8.6" height="8.6" fill="#E41A1C" stroke="none" stroke-width="0"/>
<rect x="171.54" y="1460.67" width="8.6" height="8.6" fill="#E41A1C" stroke="none" stroke-width="0"/>
<rect x="166.08" y="1458.11" width="8.6" height="8.6" fill="#E41A1C" stroke="none" stroke-width="0"/>
<polyline points="170.38,1416.49 175.84,1415.56 181.3,1415.26 186.75,1415.29 192.21,1416.45 197.67,1418.62 203.13,1421.18 208.59,1423.49 214.04,1425.17 219.5,1426.68 224.96,1428.12 230.42,1429.56 235.88,1431.08 241.33,1432.63 246.79,1434.2 252.25,1435.83 257.71,1437.54 263.17,1439.38 268.62,1441.4 274.08,1443.52 279.54,1445.64 285,1447.68 290.46,1449.58 295.91,1451.42 301.37,1453.27 306.83,1455.23 312.29,1457.4 317.75,1459.78 323.2,1462.3 328.66,1464.87 334.12,1467.39 339.58,1469.8 345.04,1472.18 350.49,1474.58 355.95,1477.1 361.41,1479.79 366.87,1482.69 372.33,1485.73 377.78,1488.85 383.24,1491.97 388.7,1495.11" fill="none" stroke="#3579BE" stroke-width="1.3" stroke-linejoin="round"/>
<polyline points="388.7,1547.95 394.16,1549.84 399.62,1553.61 405.07,1562.42 410.53,1573.74 415.99,1590.77 421.45,1619.03 426.91,1652.36 426.91,1652.36 432.36,1626.57 437.82,1564.46 443.28,1542.41 448.74,1527.64 454.2,1510.95 459.65,1502.28 465.11,1494.23 470.57,1486.06 476.03,1479.72 481.49,1474.36 486.94,1469.68 492.4,1465.55 497.86,1461.78 503.32,1458.28 508.78,1454.95 514.23,1451.71 519.69,1448.49 525.15,1445.32 530.61,1442.29 536.07,1439.45 541.52,1436.87 546.98,1434.44 552.44,1432.16 557.9,1430.05 563.36,1428.16 568.81,1426.52 574.27,1425.1 579.73,1423.77 585.19,1422.41 590.65,1420.9 596.1,1419.28 601.56,1417.6 607.02,1415.86 607.02,1415.86 601.56,1416.64 596.1,1417.55 590.65,1418.57 585.19,1419.7 579.73,1421.01 574.27,1422.45 568.81,1423.95 563.36,1425.47 557.9,1427.03 552.44,1428.64 546.98,1430.3 541.52,1432.02 536.07,1433.79 530.61,1435.67 525.15,1437.6 519.69,1439.53 514.23,1441.4 508.78,1443.18 503.32,1444.92 497.86,1446.64 492.4,1448.38 486.94,1450.15 481.49,1451.88 476.03,1453.61 470.57,1455.45 465.11,1457.5 459.65,1459.84 454.2,1462.45 448.74,1465.26 443.28,1468.18 437.82,1471.16 432.36,1474.32 426.91,1477.62 421.45,1480.97 415.99,1484.28 410.53,1487.52 405.07,1490.77 399.62,1493.89 394.16,1496.56 388.7,1499.52 383.24,1504.42 377.78,1511.17 372.33,1519.24 366.87,1528.13 361.41,1539.44 355.95,1551.85 350.49,1570.03 345.04,1606.45 339.58,1652.36 339.58,1652.36 334.12,1640.34 328.66,1604.14 323.2,1574.55 317.75,1560.46 312.29,1548.79 306.83,1537.26 301.37,1523.42 295.91,1510.27 290.46,1502.83 285,1492.84 279.54,1485.69 274.08,1479.54 268.62,1472.86 263.17,1466.04 257.71,1460.51 252.25,1456.05 246.79,1452.14 241.33,1448.45 235.88,1445.42 230.42,1443.42 224.96,1441.95 219.5,1440.65 214.04,1439.18 208.59,1437.2 203.13,1434.43 197.67,1431.15 192.21,1427.78 186.75,1424.72 181.3,1421.89 175.84,1419.14 170.38,1416.49" fill="none" stroke="#3579BE" stroke-width="1.3" stroke-linejoin="round"/>
<circle cx="170.38" cy="1416.49" r="5" fill="#3579BE"/>
<circle cx="175.84" cy="1415.56" r="5" fill="#3579BE"/>
<circle cx="181.3" cy="1415.26" r="5" fill="#3579BE"/>
<circle cx="186.75" cy="1415.29" r="5" fill="#3579BE"/>
<circle cx="192.21" cy="1416.45" r="5" fill="#3579BE"/>
<circle cx="197.67" cy="1418.62" r="5" fill="#3579BE"/>
<circle cx="203.13" cy="1421.18" r="5" fill="#3579BE"/>
<circle cx="208.59" cy="1423.49" r="5" fill="#3579BE"/>
<circle cx="214.04" cy="1425.17" r="5" fill="#3579BE"/>
<circle cx="219.5" cy="1426.68" r="5" fill="#3579BE"/>
<circle cx="224.96" cy="1428.12" r="5" fill="#3579BE"/>
<circle cx="230.42" cy="1429.56" r="5" fill="#3579BE"/>
<circle cx="235.88" cy="1431.08" r="5" fill="#3579BE"/>
<circle cx="241.33" cy="1432.63" r="5" fill="#3579BE"/>
<circle cx="246.79" cy="1434.2" r="5" fill="#3579BE"/>
<circle cx="252.25" cy="1435.83" r="5" fill="#3579BE"/>
<circle cx="257.71" cy="1437.54" r="5" fill="#3579BE"/>
<circle cx="263.17" cy="1439.38" r="5" fill="#3579BE"/>
<circle cx="268.62" cy="1441.4" r="5" fill="#3579BE"/>
<circle cx="274.08" cy="1443.52" r="5" fill="#3579BE"/>
<circle cx="279.54" cy="1445.64" r="5" fill="#3579BE"/>
<circle cx="285" cy="1447.68" r="5" fill="#3579BE"/>
<circle cx="290.46" cy="1449.58" r="5" fill="#3579BE"/>
<circle cx="295.91" cy="1451.42" r="5" fill="#3579BE"/>
<circle cx="301.37" cy="1453.27" r="5" fill="#3579BE"/>
<circle cx="306.83" cy="1455.23" r="5" fill="#3579BE"/>
<circle cx="312.29" cy="1457.4" r="5" fill="#3579BE"/>
<circle cx="317.75" cy="1459.78" r="5" fill="#3579BE"/>
<circle cx="323.2" cy="1462.3" r="5" fill="#3579BE"/>
<circle cx="328.66" cy="1464.87" r="5" fill="#3579BE"/>
<circle cx="334.12" cy="1467.39" r="5" fill="#3579BE"/>
<circle cx="339.58" cy="1469.8" r="5" fill="#3579BE"/>
<circle cx="345.04" cy="1472.18" r="5" fill="#3579BE"/>
<circle cx="350.49" cy="1474.58" r="5" fill="#3579BE"/>
<circle cx="355.95" cy="1477.1" r="5" fill="#3579BE"/>
<circle cx="361.41" cy="1479.79" r="5" fill="#3579BE"/>
<circle cx="366.87" cy="1482.69" r="5" fill="#3579BE"/>
<circle cx="372.33" cy="1485.73" r="5" fill="#3579BE"/>
<circle cx="377.78" cy="1488.85" r="5" fill="#3579BE"/>
<circle cx="383.24" cy="1491.97" r="5" fill="#3579BE"/>
<circle cx="388.7" cy="1495.11" r="5" fill="#3579BE"/>
<circle cx="388.7" cy="1547.95" r="5" fill="#3579BE"/>
<circle cx="394.16" cy="1549.84" r="5" fill="#3579BE"/>
<circle cx="399.62" cy="1553.61" r="5" fill="#3579BE"/>
<circle cx="405.07" cy="1562.42" r="5" fill="#3579BE"/>
<circle cx="410.53" cy="1573.74" r="5" fill="#3579BE"/>
<circle cx="415.99" cy="1590.77" r="5" fill="#3579BE"/>
<circle cx="421.45" cy="1619.03" r="5" fill="#3579BE"/>
<circle cx="426.91" cy="1652.36" r="5" fill="#3579BE"/>
<circle cx="426.91" cy="1652.36" r="5" fill="#3579BE"/>
<circle cx="432.36" cy="1626.57" r="5" fill="#3579BE"/>
<circle cx="437.82" cy="1564.46" r="5" fill="#3579BE"/>
<circle cx="443.28" cy="1542.41" r="5" fill="#3579BE"/>
<circle cx="448.74" cy="1527.64" r="5" fill="#3579BE"/>
<circle cx="454.2" cy="1510.95" r="5" fill="#3579BE"/>
<circle cx="459.65" cy="1502.28" r="5" fill="#3579BE"/>
<circle cx="465.11" cy="1494.23" r="5" fill="#3579BE"/>
<circle cx="470.57" cy="1486.06" r="5" fill="#3579BE"/>
<circle cx="476.03" cy="1479.72" r="5" fill="#3579BE"/>
<circle cx="481.49" cy="1474.36" r="5" fill="#3579BE"/>
<circle cx="486.94" cy="1469.68" r="5" fill="#3579BE"/>
<circle cx="492.4" cy="1465.55" r="5" fill="#3579BE"/>
<circle cx="497.86" cy="1461.78" r="5" fill="#3579BE"/>
<circle cx="503.32" cy="1458.28" r="5" fill="#3579BE"/>
<circle cx="508.78" cy="1454.95" r="5" fill="#3579BE"/>
<circle cx="514.23" cy="1451.71" r="5" fill="#3579BE"/>
<circle cx="519.69" cy="1448.49" r="5" fill="#3579BE"/>
<circle cx="525.15" cy="1445.32" r="5" fill="#3579BE"/>
<circle cx="530.61" cy="1442.29" r="5" fill="#3579BE"/>
<circle cx="536.07" cy="1439.45" r="5" fill="#3579BE"/>
<circle cx="541.52" cy="1436.87" r="5" fill="#3579BE"/>
<circle cx="546.98" cy="1434.44" r="5" fill="#3579BE"/>
<circle cx="552.44" cy="1432.16" r="5" fill="#3579BE"/>
<circle cx="557.9" cy="1430.05" r="5" fill="#3579BE"/>
<circle cx="563.36" cy="1428.16" r="5" fill="#3579BE"/>
<circle cx="568.81" cy="1426.52" r="5" fill="#3579BE"/>
<circle cx="574.27" cy="1425.1" r="5" fill="#3579BE"/>
<circle cx="579.73" cy="1423.77" r="5" fill="#3579BE"/>
<circle cx="585.19" cy="1422.41" r="5" fill="#3579BE"/>
<circle cx="590.65" cy="1420.9" r="5" fill="#3579BE"/>
<circle cx="596.1" cy="1419.28" r="5" fill="#3579BE"/>
<circle cx="601.56" cy="1417.6" r="5" fill="#3579BE"/>
<circle cx="607.02" cy="1415.86" r="5" fill="#3579BE"/>
<circle cx="607.02" cy="1415.86" r="5" fill="#3579BE"/>
<circle cx="601.56" cy="1416.64" r="5" fill="#3579BE"/>
<circle cx="596.1" cy="1417.55" r="5" fill="#3579BE"/>
<circle cx="590.65" cy="1418.57" r="5" fill="#3579BE"/>
<circle cx="585.19" cy="1419.7" r="5" fill="#3579BE"/>
<circle cx="579.73" cy="1421.01" r="5" fill="#3579BE"/>
<circle cx="574.27" cy="1422.45" r="5" fill="#3579BE"/>
<circle cx="568.81" cy="1423.95" r="5" fill="#3579BE"/>
<circle cx="563.36" cy="1425.47" r="5" fill="#3579BE"/>
<circle cx="557.9" cy="1427.03" r="5" fill="#3579BE"/>
<circle cx="552.44" cy="1428.64" r="5" fill="#3579BE"/>
<circle cx="546.98" cy="1430.3" r="5" fill="#3579BE"/>
<circle cx="541.52" cy="1432.02" r="5" fill="#3579BE"/>
<circle cx="536.07" cy="1433.79" r="5" fill="#3579BE"/>
<circle cx="530.61" cy="1435.67" r="5" fill="#3579BE"/>
<circle cx="525.15" cy="1437.6" r="5" fill="#3579BE"/>
<circle cx="519.69" cy="1439.53" r="5" fill="#3579BE"/>
<circle cx="514.23" cy="1441.4" r="5" fill="#3579BE"/>
<circle cx="508.78" cy="1443.18" r="5" fill="#3579BE"/>
<circle cx="503.32" cy="1444.92" r="5" fill="#3579BE"/>
<circle cx="497.86" cy="1446.64" r="5" fill="#3579BE"/>
<circle cx="492.4" cy="1448.38" r="5" fill="#3579BE"/>
<circle cx="486.94" cy="1450.15" r="5" fill="#3579BE"/>
<circle cx="481.49" cy="1451.88" r="5" fill="#3579BE"/>
<circle cx="476.03" cy="1453.61" r="5" fill="#3579BE"/>
<circle cx="470.57" cy="1455.45" r="5" fill="#3579BE"/>
<circle cx="465.11" cy="1457.5" r="5" fill="#3579BE"/>
<circle cx="459.65" cy="1459.84" r="5" fill="#3579BE"/>
<circle cx="454.2" cy="1462.45" r="5" fill="#3579BE"/>
<circle cx="448.74" cy="1465.26" r="5" fill="#3579BE"/>
<circle cx="443.28" cy="1468.18" r="5" fill="#3579BE"/>
<circle cx="437.82" cy="1471.16" r="5" fill="#3579BE"/>
<circle cx="432.36" cy="1474.32" r="5" fill="#3579BE"/>
<circle cx="426.91" cy="1477.62" r="5" fill="#3579BE"/>
<circle cx="421.45" cy="1480.97" r="5" fill="#3579BE"/>
<circle cx="415.99" cy="1484.28" r="5" fill="#3579BE"/>
<circle cx="410.53" cy="1487.52" r="5" fill="#3579BE"/>
<circle cx="405.07" cy="1490.77" r="5" fill="#3579BE"/>
<circle cx="399.62" cy="1493.89" r="5" fill="#3579BE"/>
<circle cx="394.16" cy="1496.56" r="5" fill="#3579BE"/>
<circle cx="388.7" cy="1499.52" r="5" fill="#3579BE"/>
<circle cx="383.24" cy="1504.42" r="5" fill="#3579BE"/>
<circle cx="377.78" cy="1511.17" r="5" fill="#3579BE"/>
<circle cx="372.33" cy="1519.24" r="5" fill="#3579BE"/>
<circle cx="366.87" cy="1528.13" r="5" fill="#3579BE"/>
<circle cx="361.41" cy="1539.44" r="5" fill="#3579BE"/>
<circle cx="355.95" cy="1551.85" r="5" fill="#3579BE"/>
<circle cx="350.49" cy="1570.03" r="5" fill="#3579BE"/>
<circle cx="345.04" cy="1606.45" r="5" fill="#3579BE"/>
<circle cx="339.58" cy="1652.36" r="5" fill="#3579BE"/>
<circle cx="339.58" cy="1652.36" r="5" fill="#3579BE"/>
<circle cx="334.12" cy="1640.34" r="5" fill="#3579BE"/>
<circle cx="328.66" cy="1604.14" r="5" fill="#3579BE"/>
<circle cx="323.2" cy="1574.55" r="5" fill="#3579BE"/>
<circle cx="317.75" cy="1560.46" r="5" fill="#3579BE"/>
<circle cx="312.29" cy="1548.79" r="5" fill="#3579BE"/>
<circle cx="306.83" cy="1537.26" r="5" fill="#3579BE"/>
<circle cx="301.37" cy="1523.42" r="5" fill="#3579BE"/>
<circle cx="295.91" cy="1510.27" r="5" fill="#3579BE"/>
<circle cx="290.46" cy="1502.83" r="5" fill="#3579BE"/>
<circle cx="285" cy="1492.84" r="5" fill="#3579BE"/>
<circle cx="279.54" cy="1485.69" r="5" fill="#3579BE"/>
<circle cx="274.08" cy="1479.54" r="5" fill="#3579BE"/>
<circle cx="268.62" cy="1472.86" r="5" fill="#3579BE"/>
<circle cx="263.17" cy="1466.04" r="5" fill="#3579BE"/>
<circle cx="257.71" cy="1460.51" r="5" fill="#3579BE"/>
<circle cx="252.25" cy="1456.05" r="5" fill="#3579BE"/>
<circle cx="246.79" cy="1452.14" r="5" fill="#3579BE"/>
<circle cx="241.33" cy="1448.45" r="5" fill="#3579BE"/>
<circle cx="235.88" cy="1445.42" r="5" fill="#3579BE"/>
<circle cx="230.42" cy="1443.42" r="5" fill="#3579BE"/>
<circle cx="224.96" cy="1441.95" r="5" fill="#3579BE"/>
<circle cx="219.5" cy="1440.65" r="5" fill="#3579BE"/>
<circle cx="214.04" cy="1439.18" r="5" fill="#3579BE"/>
<circle cx="208.59" cy="1437.2" r="5" fill="#3579BE"/>
<circle cx="203.13" cy="1434.43" r="5" fill="#3579BE"/>
<circle cx="197.67" cy="1431.15" r="5" fill="#3579BE"/>
<circle cx="192.21" cy="1427.78" r="5" fill="#3579BE"/>
<circle cx="186.75" cy="1424.72" r="5" fill="#3579BE"/>
<circle cx="181.3" cy="1421.89" r="5" fill="#3579BE"/>
<circle cx="175.84" cy="1419.14" r="5" fill="#3579BE"/>
<circle cx="170.38" cy="1416.49" r="5" fill="#3579BE"/>
<polyline points="170.38,1425.29 175.84,1425.9 181.3,1426.61 186.75,1427.41 192.21,1428.28 197.67,1429.22 203.13,1430.22 208.59,1431.26 214.04,1432.39 219.5,1433.7 224.96,1435.13 230.42,1436.57 235.88,1437.96 241.33,1439.29 246.79,1440.6 252.25,1441.93 257.71,1443.33 263.17,1444.81 268.62,1446.38 274.08,1448.01 279.54,1449.7 285,1451.44 290.46,1453.24 295.91,1455.12 301.37,1457.05 306.83,1459.04 312.29,1461.09 317.75,1463.2 323.2,1465.38 328.66,1467.62 334.12,1469.91 339.58,1472.23 345.04,1474.6 350.49,1477.05 355.95,1479.6 361.41,1482.27 366.87,1484.9 372.33,1487.65 377.78,1490.73 383.24,1494.38 388.7,1499.52 394.16,1504.5 399.62,1509.35 405.07,1514.08 410.53,1518.68 415.99,1523.16 421.45,1527.51 426.91,1531.72 432.36,1535.82 437.82,1539.86 443.28,1543.9 448.74,1547.9 454.2,1551.85 459.65,1555.75 459.65,1555.75 465.11,1555.25 470.57,1553.96 476.03,1546.24 481.49,1524.68 486.94,1512.1 492.4,1499.16 497.86,1491.09 503.32,1486.5 508.78,1483.07 514.23,1479.89 519.69,1476.69 525.15,1473.69 530.61,1470.81 536.07,1467.94 541.52,1464.99 546.98,1461.97 552.44,1458.95 557.9,1455.99 563.36,1453.14 568.81,1450.43 574.27,1447.8 579.73,1445.25 585.19,1442.81 590.65,1440.48 596.1,1438.25 601.56,1436.12 607.02,1434.1 607.02,1434.1 601.56,1434.15 596.1,1434.29 590.65,1434.52 585.19,1434.81 579.73,1435.16 574.27,1435.56 568.81,1436 563.36,1436.46 557.9,1437.14 552.44,1438.07 546.98,1439.22 541.52,1440.55 536.07,1442 530.61,1443.53 525.15,1445.11 519.69,1446.67 514.23,1448.19 508.78,1449.68 503.32,1451.2 497.86,1452.77 492.4,1454.4 486.94,1456.09 481.49,1457.87 476.03,1459.73 470.57,1461.7 465.11,1463.79 459.65,1466.13 454.2,1468.79 448.74,1471.69 443.28,1474.74 437.82,1477.87 432.36,1480.97 426.91,1483.98 421.45,1486.8 415.99,1489.36 410.53,1491.6 405.07,1493.64 399.62,1495.6 394.16,1497.5 388.7,1499.24 383.24,1501 377.78,1502.96 372.33,1505.31 366.87,1508.24 361.41,1511.63 355.95,1515.26 350.49,1518.92 345.04,1522.57 339.58,1526.37 334.12,1530.26 328.66,1534.17 323.2,1538.02 317.75,1541.84 312.29,1545.65 306.83,1549.46 306.83,1549.46 301.37,1547.32 295.91,1537.03 290.46,1526.26 285,1516.4 279.54,1508.26 274.08,1500.92 268.62,1493.84 263.17,1487.11 257.71,1481.36 252.25,1476.28 246.79,1471.62 241.33,1467.28 235.88,1463.17 230.42,1459.25 224.96,1455.56 219.5,1452.05 214.04,1448.7 208.59,1445.47 203.13,1442.31 197.67,1439.23 192.21,1436.23 186.75,1433.33 181.3,1430.53 175.84,1427.85 170.38,1425.29" fill="none" stroke="#4BAD4A" stroke-width="1.3" stroke-linejoin="round"/>
<polygon points="170.38,1419.49 164.78,1429.19 175.98,1429.19" fill="#4BAD4A" stroke="none" stroke-width="0"/>
<polygon points="175.84,1420.1 170.24,1429.8 181.44,1429.8" fill="#4BAD4A" stroke="none" stroke-width="0"/>
<polygon points="181.3,1420.81 175.7,1430.51 186.9,1430.51" fill="#4BAD4A" stroke="none" stroke-width="0"/>
<polygon points="186.75,1421.61 181.15,1431.31 192.35,1431.31" fill="#4BAD4A" stroke="none" stroke-width="0"/>
<polygon points="192.21,1422.48 186.61,1432.18 197.81,1432.18" fill="#4BAD4A" stroke="none" stroke-width="0"/>
<polygon points="197.67,1423.42 192.07,1433.12 203.27,1433.12" fill="#4BAD4A" stroke="none" stroke-width="0"/>
<polygon points="203.13,1424.42 197.53,1434.12 208.73,1434.12" fill="#4BAD4A" stroke="none" stroke-width="0"/>
<polygon points="208.59,1425.46 202.99,1435.16 214.19,1435.16" fill="#4BAD4A" stroke="none" stroke-width="0"/>
<polygon points="214.04,1426.59 208.44,1436.29 219.64,1436.29" fill="#4BAD4A" stroke="none" stroke-width="0"/>
<polygon points="219.5,1427.9 213.9,1437.6 225.1,1437.6" fill="#4BAD4A" stroke="none" stroke-width="0"/>
<polygon points="224.96,1429.33 219.36,1439.03 230.56,1439.03" fill="#4BAD4A" stroke="none" stroke-width="0"/>
<polygon points="230.42,1430.77 224.82,1440.47 236.02,1440.47" fill="#4BAD4A" stroke="none" stroke-width="0"/>
<polygon points="235.88,1432.16 230.28,1441.86 241.48,1441.86" fill="#4BAD4A" stroke="none" stroke-width="0"/>
<polygon points="241.33,1433.49 235.73,1443.19 246.93,1443.19" fill="#4BAD4A" stroke="none" stroke-width="0"/>
<polygon points="246.79,1434.8 241.19,1444.5 252.39,1444.5" fill="#4BAD4A" stroke="none" stroke-width="0"/>
<polygon points="252.25,1436.13 246.65,1445.83 257.85,1445.83" fill="#4BAD4A" stroke="none" stroke-width="0"/>
<polygon points="257.71,1437.53 252.11,1447.23 263.31,1447.23" fill="#4BAD4A" stroke="none" stroke-width="0"/>
<polygon points="263.17,1439.01 257.57,1448.71 268.77,1448.71" fill="#4BAD4A" stroke="none" stroke-width="0"/>
<polygon points="268.62,1440.58 263.02,1450.28 274.22,1450.28" fill="#4BAD4A" stroke="none" stroke-width="0"/>
<polygon points="274.08,1442.21 268.48,1451.91 279.68,1451.91" fill="#4BAD4A" stroke="none" stroke-width="0"/>
<polygon points="279.54,1443.9 273.94,1453.6 285.14,1453.6" fill="#4BAD4A" stroke="none" stroke-width="0"/>
<polygon points="285,1445.64 279.4,1455.34 290.6,1455.34" fill="#4BAD4A" stroke="none" stroke-width="0"/>
<polygon points="290.46,1447.44 284.86,1457.14 296.06,1457.14" fill="#4BAD4A" stroke="none" stroke-width="0"/>
<polygon points="295.91,1449.32 290.31,1459.02 301.51,1459.02" fill="#4BAD4A" stroke="none" stroke-width="0"/>
<polygon points="301.37,1451.25 295.77,1460.95 306.97,1460.95" fill="#4BAD4A" stroke="none" stroke-width="0"/>
<polygon points="306.83,1453.24 301.23,1462.94 312.43,1462.94" fill="#4BAD4A" stroke="none" stroke-width="0"/>
<polygon points="312.29,1455.29 306.69,1464.99 317.89,1464.99" fill="#4BAD4A" stroke="none" stroke-width="0"/>
<polygon points="317.75,1457.4 312.15,1467.1 323.35,1467.1" fill="#4BAD4A" stroke="none" stroke-width="0"/>
<polygon points="323.2,1459.58 317.6,1469.28 328.8,1469.28" fill="#4BAD4A" stroke="none" stroke-width="0"/>
<polygon points="328.66,1461.82 323.06,1471.52 334.26,1471.52" fill="#4BAD4A" stroke="none" stroke-width="0"/>
<polygon points="334.12,1464.11 328.52,1473.81 339.72,1473.81" fill="#4BAD4A" stroke="none" stroke-width="0"/>
<polygon points="339.58,1466.43 333.98,1476.13 345.18,1476.13" fill="#4BAD4A" stroke="none" stroke-width="0"/>
<polygon points="345.04,1468.8 339.44,1478.5 350.64,1478.5" fill="#4BAD4A" stroke="none" stroke-width="0"/>
<polygon points="350.49,1471.25 344.89,1480.95 356.09,1480.95" fill="#4BAD4A" stroke="none" stroke-width="0"/>
<polygon points="355.95,1473.8 350.35,1483.5 361.55,1483.5" fill="#4BAD4A" stroke="none" stroke-width="0"/>
<polygon points="361.41,1476.47 355.81,1486.17 367.01,1486.17" fill="#4BAD4A" stroke="none" stroke-width="0"/>
<polygon points="366.87,1479.1 361.27,1488.8 372.47,1488.8" fill="#4BAD4A" stroke="none" stroke-width="0"/>
<polygon points="372.33,1481.85 366.73,1491.55 377.93,1491.55" fill="#4BAD4A" stroke="none" stroke-width="0"/>
<polygon points="377.78,1484.93 372.18,1494.63 383.38,1494.63" fill="#4BAD4A" stroke="none" stroke-width="0"/>
<polygon points="383.24,1488.58 377.64,1498.28 388.84,1498.28" fill="#4BAD4A" stroke="none" stroke-width="0"/>
<polygon points="388.7,1493.72 383.1,1503.42 394.3,1503.42" fill="#4BAD4A" stroke="none" stroke-width="0"/>
<polygon points="394.16,1498.7 388.56,1508.4 399.76,1508.4" fill="#4BAD4A" stroke="none" stroke-width="0"/>
<polygon points="399.62,1503.55 394.02,1513.25 405.22,1513.25" fill="#4BAD4A" stroke="none" stroke-width="0"/>
<polygon points="405.07,1508.28 399.47,1517.98 410.67,1517.98" fill="#4BAD4A" stroke="none" stroke-width="0"/>
<polygon points="410.53,1512.88 404.93,1522.58 416.13,1522.58" fill="#4BAD4A" stroke="none" stroke-width="0"/>
<polygon points="415.99,1517.36 410.39,1527.06 421.59,1527.06" fill="#4BAD4A" stroke="none" stroke-width="0"/>
<polygon points="421.45,1521.71 415.85,1531.41 427.05,1531.41" fill="#4BAD4A" stroke="none" stroke-width="0"/>
<polygon points="426.91,1525.92 421.31,1535.62 432.51,1535.62" fill="#4BAD4A" stroke="none" stroke-width="0"/>
<polygon points="432.36,1530.02 426.76,1539.72 437.96,1539.72" fill="#4BAD4A" stroke="none" stroke-width="0"/>
<polygon points="437.82,1534.06 432.22,1543.76 443.42,1543.76" fill="#4BAD4A" stroke="none" stroke-width="0"/>
<polygon points="443.28,1538.1 437.68,1547.8 448.88,1547.8" fill="#4BAD4A" stroke="none" stroke-width="0"/>
<polygon points="448.74,1542.1 443.14,1551.8 454.34,1551.8" fill="#4BAD4A" stroke="none" stroke-width="0"/>
<polygon points="454.2,1546.05 448.6,1555.75 459.8,1555.75" fill="#4BAD4A" stroke="none" stroke-width="0"/>
<polygon points="459.65,1549.95 454.05,1559.65 465.25,1559.65" fill="#4BAD4A" stroke="none" stroke-width="0"/>
<polygon points="459.65,1549.95 454.05,1559.65 465.25,1559.65" fill="#4BAD4A" stroke="none" stroke-width="0"/>
<polygon points="465.11,1549.45 459.51,1559.15 470.71,1559.15" fill="#4BAD4A" stroke="none" stroke-width="0"/>
<polygon points="470.57,1548.16 464.97,1557.86 476.17,1557.86" fill="#4BAD4A" stroke="none" stroke-width="0"/>
<polygon points="476.03,1540.44 470.43,1550.14 481.63,1550.14" fill="#4BAD4A" stroke="none" stroke-width="0"/>
<polygon points="481.49,1518.88 475.89,1528.58 487.09,1528.58" fill="#4BAD4A" stroke="none" stroke-width="0"/>
<polygon points="486.94,1506.3 481.34,1516 492.54,1516" fill="#4BAD4A" stroke="none" stroke-width="0"/>
<polygon points="492.4,1493.36 486.8,1503.06 498,1503.06" fill="#4BAD4A" stroke="none" stroke-width="0"/>
<polygon points="497.86,1485.29 492.26,1494.99 503.46,1494.99" fill="#4BAD4A" stroke="none" stroke-width="0"/>
<polygon points="503.32,1480.7 497.72,1490.4 508.92,1490.4" fill="#4BAD4A" stroke="none" stroke-width="0"/>
<polygon points="508.78,1477.27 503.18,1486.97 514.38,1486.97" fill="#4BAD4A" stroke="none" stroke-width="0"/>
<polygon points="514.23,1474.09 508.63,1483.79 519.83,1483.79" fill="#4BAD4A" stroke="none" stroke-width="0"/>
<polygon points="519.69,1470.89 514.09,1480.59 525.29,1480.59" fill="#4BAD4A" stroke="none" stroke-width="0"/>
<polygon points="525.15,1467.89 519.55,1477.59 530.75,1477.59" fill="#4BAD4A" stroke="none" stroke-width="0"/>
<polygon points="530.61,1465.01 525.01,1474.71 536.21,1474.71" fill="#4BAD4A" stroke="none" stroke-width="0"/>
<polygon points="536.07,1462.14 530.47,1471.84 541.67,1471.84" fill="#4BAD4A" stroke="none" stroke-width="0"/>
<polygon points="541.52,1459.19 535.92,1468.89 547.12,1468.89" fill="#4BAD4A" stroke="none" stroke-width="0"/>
<polygon points="546.98,1456.17 541.38,1465.87 552.58,1465.87" fill="#4BAD4A" stroke="none" stroke-width="0"/>
<polygon points="552.44,1453.15 546.84,1462.85 558.04,1462.85" fill="#4BAD4A" stroke="none" stroke-width="0"/>
<polygon points="557.9,1450.19 552.3,1459.89 563.5,1459.89" fill="#4BAD4A" stroke="none" stroke-width="0"/>
<polygon points="563.36,1447.34 557.76,1457.04 568.96,1457.04" fill="#4BAD4A" stroke="none" stroke-width="0"/>
<polygon points="568.81,1444.63 563.21,1454.33 574.41,1454.33" fill="#4BAD4A" stroke="none" stroke-width="0"/>
<polygon points="574.27,1442 568.67,1451.7 579.87,1451.7" fill="#4BAD4A" stroke="none" stroke-width="0"/>
<polygon points="579.73,1439.45 574.13,1449.15 585.33,1449.15" fill="#4BAD4A" stroke="none" stroke-width="0"/>
<polygon points="585.19,1437.01 579.59,1446.71 590.79,1446.71" fill="#4BAD4A" stroke="none" stroke-width="0"/>
<polygon points="590.65,1434.68 585.05,1444.38 596.25,1444.38" fill="#4BAD4A" stroke="none" stroke-width="0"/>
<polygon points="596.1,1432.45 590.5,1442.15 601.7,1442.15" fill="#4BAD4A" stroke="none" stroke-width="0"/>
<polygon points="601.56,1430.32 595.96,1440.02 607.16,1440.02" fill="#4BAD4A" stroke="none" stroke-width="0"/>
<polygon points="607.02,1428.3 601.42,1438 612.62,1438" fill="#4BAD4A" stroke="none" stroke-width="0"/>
<polygon points="607.02,1428.3 601.42,1438 612.62,1438" fill="#4BAD4A" stroke="none" stroke-width="0"/>
<polygon points="601.56,1428.35 595.96,1438.05 607.16,1438.05" fill="#4BAD4A" stroke="none" stroke-width="0"/>
<polygon points="596.1,1428.49 590.5,1438.19 601.7,1438.19" fill="#4BAD4A" stroke="none" stroke-width="0"/>
<polygon points="590.65,1428.72 585.05,1438.42 596.25,1438.42" fill="#4BAD4A" stroke="none" stroke-width="0"/>
<polygon points="585.19,1429.01 579.59,1438.71 590.79,1438.71" fill="#4BAD4A" stroke="none" stroke-width="0"/>
<polygon points="579.73,1429.36 574.13,1439.06 585.33,1439.06" fill="#4BAD4A" stroke="none" stroke-width="0"/>
<polygon points="574.27,1429.76 568.67,1439.46 579.87,1439.46" fill="#4BAD4A" stroke="none" stroke-width="0"/>
<polygon points="568.81,1430.2 563.21,1439.9 574.41,1439.9" fill="#4BAD4A" stroke="none" stroke-width="0"/>
<polygon points="563.36,1430.66 557.76,1440.36 568.96,1440.36" fill="#4BAD4A" stroke="none" stroke-width="0"/>
<polygon points="557.9,1431.34 552.3,1441.04 563.5,1441.04" fill="#4BAD4A" stroke="none" stroke-width="0"/>
<polygon points="552.44,1432.27 546.84,1441.97 558.04,1441.97" fill="#4BAD4A" stroke="none" stroke-width="0"/>
<polygon points="546.98,1433.42 541.38,1443.12 552.58,1443.12" fill="#4BAD4A" stroke="none" stroke-width="0"/>
<polygon points="541.52,1434.75 535.92,1444.45 547.12,1444.45" fill="#4BAD4A" stroke="none" stroke-width="0"/>
<polygon points="536.07,1436.2 530.47,1445.9 541.67,1445.9" fill="#4BAD4A" stroke="none" stroke-width="0"/>
<polygon points="530.61,1437.73 525.01,1447.43 536.21,1447.43" fill="#4BAD4A" stroke="none" stroke-width="0"/>
<polygon points="525.15,1439.31 519.55,1449.01 530.75,1449.01" fill="#4BAD4A" stroke="none" stroke-width="0"/>
<polygon points="519.69,1440.87 514.09,1450.57 525.29,1450.57" fill="#4BAD4A" stroke="none" stroke-width="0"/>
<polygon points="514.23,1442.39 508.63,1452.09 519.83,1452.09" fill="#4BAD4A" stroke="none" stroke-width="0"/>
<polygon points="508.78,1443.88 503.18,1453.58 514.38,1453.58" fill="#4BAD4A" stroke="none" stroke-width="0"/>
<polygon points="503.32,1445.4 497.72,1455.1 508.92,1455.1" fill="#4BAD4A" stroke="none" stroke-width="0"/>
<polygon points="497.86,1446.97 492.26,1456.67 503.46,1456.67" fill="#4BAD4A" stroke="none" stroke-width="0"/>
<polygon points="492.4,1448.6 486.8,1458.3 498,1458.3" fill="#4BAD4A" stroke="none" stroke-width="0"/>
<polygon points="486.94,1450.29 481.34,1459.99 492.54,1459.99" fill="#4BAD4A" stroke="none" stroke-width="0"/>
<polygon points="481.49,1452.07 475.89,1461.77 487.09,1461.77" fill="#4BAD4A" stroke="none" stroke-width="0"/>
<polygon points="476.03,1453.93 470.43,1463.63 481.63,1463.63" fill="#4BAD4A" stroke="none" stroke-width="0"/>
<polygon points="470.57,1455.9 464.97,1465.6 476.17,1465.6" fill="#4BAD4A" stroke="none" stroke-width="0"/>
<polygon points="465.11,1457.99 459.51,1467.69 470.71,1467.69" fill="#4BAD4A" stroke="none" stroke-width="0"/>
<polygon points="459.65,1460.33 454.05,1470.03 465.25,1470.03" fill="#4BAD4A" stroke="none" stroke-width="0"/>
<polygon points="454.2,1462.99 448.6,1472.69 459.8,1472.69" fill="#4BAD4A" stroke="none" stroke-width="0"/>
<polygon points="448.74,1465.89 443.14,1475.59 454.34,1475.59" fill="#4BAD4A" stroke="none" stroke-width="0"/>
<polygon points="443.28,1468.94 437.68,1478.64 448.88,1478.64" fill="#4BAD4A" stroke="none" stroke-width="0"/>
<polygon points="437.82,1472.07 432.22,1481.77 443.42,1481.77" fill="#4BAD4A" stroke="none" stroke-width="0"/>
<polygon points="432.36,1475.17 426.76,1484.87 437.96,1484.87" fill="#4BAD4A" stroke="none" stroke-width="0"/>
<polygon points="426.91,1478.18 421.31,1487.88 432.51,1487.88" fill="#4BAD4A" stroke="none" stroke-width="0"/>
<polygon points="421.45,1481 415.85,1490.7 427.05,1490.7" fill="#4BAD4A" stroke="none" stroke-width="0"/>
<polygon points="415.99,1483.56 410.39,1493.26 421.59,1493.26" fill="#4BAD4A" stroke="none" stroke-width="0"/>
<polygon points="410.53,1485.8 404.93,1495.5 416.13,1495.5" fill="#4BAD4A" stroke="none" stroke-width="0"/>
<polygon points="405.07,1487.84 399.47,1497.54 410.67,1497.54" fill="#4BAD4A" stroke="none" stroke-width="0"/>
<polygon points="399.62,1489.8 394.02,1499.5 405.22,1499.5" fill="#4BAD4A" stroke="none" stroke-width="0"/>
<polygon points="394.16,1491.7 388.56,1501.4 399.76,1501.4" fill="#4BAD4A" stroke="none" stroke-width="0"/>
<polygon points="388.7,1493.44 383.1,1503.14 394.3,1503.14" fill="#4BAD4A" stroke="none" stroke-width="0"/>
<polygon points="383.24,1495.2 377.64,1504.9 388.84,1504.9" fill="#4BAD4A" stroke="none" stroke-width="0"/>
<polygon points="377.78,1497.16 372.18,1506.86 383.38,1506.86" fill="#4BAD4A" stroke="none" stroke-width="0"/>
<polygon points="372.33,1499.51 366.73,1509.21 377.93,1509.21" fill="#4BAD4A" stroke="none" stroke-width="0"/>
<polygon points="366.87,1502.44 361.27,1512.14 372.47,1512.14" fill="#4BAD4A" stroke="none" stroke-width="0"/>
<polygon points="361.41,1505.83 355.81,1515.53 367.01,1515.53" fill="#4BAD4A" stroke="none" stroke-width="0"/>
<polygon points="355.95,1509.46 350.35,1519.16 361.55,1519.16" fill="#4BAD4A" stroke="none" stroke-width="0"/>
<polygon points="350.49,1513.12 344.89,1522.82 356.09,1522.82" fill="#4BAD4A" stroke="none" stroke-width="0"/>
<polygon points="345.04,1516.77 339.44,1526.47 350.64,1526.47" fill="#4BAD4A" stroke="none" stroke-width="0"/>
<polygon points="339.58,1520.57 333.98,1530.27 345.18,1530.27" fill="#4BAD4A" stroke="none" stroke-width="0"/>
<polygon points="334.12,1524.46 328.52,1534.16 339.72,1534.16" fill="#4BAD4A" stroke="none" stroke-width="0"/>
<polygon points="328.66,1528.37 323.06,1538.07 334.26,1538.07" fill="#4BAD4A" stroke="none" stroke-width="0"/>
<polygon points="323.2,1532.22 317.6,1541.92 328.8,1541.92" fill="#4BAD4A" stroke="none" stroke-width="0"/>
<polygon points="317.75,1536.04 312.15,1545.74 323.35,1545.74" fill="#4BAD4A" stroke="none" stroke-width="0"/>
<polygon points="312.29,1539.85 306.69,1549.55 317.89,1549.55" fill="#4BAD4A" stroke="none" stroke-width="0"/>
<polygon points="306.83,1543.66 301.23,1553.36 312.43,1553.36" fill="#4BAD4A" stroke="none" stroke-width="0"/>
<polygon points="306.83,1543.66 301.23,1553.36 312.43,1553.36" fill="#4BAD4A" stroke="none" stroke-width="0"/>
<polygon points="301.37,1541.52 295.77,1551.22 306.97,1551.22" fill="#4BAD4A" stroke="none" stroke-width="0"/>
<polygon points="295.91,1531.23 290.31,1540.93 301.51,1540.93" fill="#4BAD4A" stroke="none" stroke-width="0"/>
<polygon points="290.46,1520.46 284.86,1530.16 296.06,1530.16" fill="#4BAD4A" stroke="none" stroke-width="0"/>
<polygon points="285,1510.6 279.4,1520.3 290.6,1520.3" fill="#4BAD4A" stroke="none" stroke-width="0"/>
<polygon points="279.54,1502.46 273.94,1512.16 285.14,1512.16" fill="#4BAD4A" stroke="none" stroke-width="0"/>
<polygon points="274.08,1495.12 268.48,1504.82 279.68,1504.82" fill="#4BAD4A" stroke="none" stroke-width="0"/>
<polygon points="268.62,1488.04 263.02,1497.74 274.22,1497.74" fill="#4BAD4A" stroke="none" stroke-width="0"/>
<polygon points="263.17,1481.31 257.57,1491.01 268.77,1491.01" fill="#4BAD4A" stroke="none" stroke-width="0"/>
<polygon points="257.71,1475.56 252.11,1485.26 263.31,1485.26" fill="#4BAD4A" stroke="none" stroke-width="0"/>
<polygon points="252.25,1470.48 246.65,1480.18 257.85,1480.18" fill="#4BAD4A" stroke="none" stroke-width="0"/>
<polygon points="246.79,1465.82 241.19,1475.52 252.39,1475.52" fill="#4BAD4A" stroke="none" stroke-width="0"/>
<polygon points="241.33,1461.48 235.73,1471.18 246.93,1471.18" fill="#4BAD4A" stroke="none" stroke-width="0"/>
<polygon points="235.88,1457.37 230.28,1467.07 241.48,1467.07" fill="#4BAD4A" stroke="none" stroke-width="0"/>
<polygon points="230.42,1453.45 224.82,1463.15 236.02,1463.15" fill="#4BAD4A" stroke="none" stroke-width="0"/>
<polygon points="224.96,1449.76 219.36,1459.46 230.56,1459.46" fill="#4BAD4A" stroke="none" stroke-width="0"/>
<polygon points="219.5,1446.25 213.9,1455.95 225.1,1455.95" fill="#4BAD4A" stroke="none" stroke-width="0"/>
<polygon points="214.04,1442.9 208.44,1452.6 219.64,1452.6" fill="#4BAD4A" stroke="none" stroke-width="0"/>
<polygon points="208.59,1439.67 202.99,1449.37 214.19,1449.37" fill="#4BAD4A" stroke="none" stroke-width="0"/>
<polygon points="203.13,1436.51 197.53,1446.21 208.73,1446.21" fill="#4BAD4A" stroke="none" stroke-width="0"/>
<polygon points="197.67,1433.43 192.07,1443.13 203.27,1443.13" fill="#4BAD4A" stroke="none" stroke-width="0"/>
<polygon points="192.21,1430.43 186.61,1440.13 197.81,1440.13" fill="#4BAD4A" stroke="none" stroke-width="0"/>
<polygon points="186.75,1427.53 181.15,1437.23 192.35,1437.23" fill="#4BAD4A" stroke="none" stroke-width="0"/>
<polygon points="181.3,1424.73 175.7,1434.43 186.9,1434.43" fill="#4BAD4A" stroke="none" stroke-width="0"/>
<polygon points="175.84,1422.05 170.24,1431.75 181.44,1431.75" fill="#4BAD4A" stroke="none" stroke-width="0"/>
<polygon points="170.38,1419.49 164.78,1429.19 175.98,1429.19" fill="#4BAD4A" stroke="none" stroke-width="0"/>
<rect x="115.8" y="1308.3" width="545.8" height="440.3" fill="none" stroke="#000" stroke-width="1.4"/>
<line x1="107.8" y1="1371.2" x2="115.8" y2="1371.2" stroke="#000" stroke-width="1.4"/>
<line x1="107.8" y1="1497" x2="115.8" y2="1497" stroke="#000" stroke-width="1.4"/>
<line x1="107.8" y1="1622.8" x2="115.8" y2="1622.8" stroke="#000" stroke-width="1.4"/>
<line x1="107.8" y1="1748.6" x2="115.8" y2="1748.6" stroke="#000" stroke-width="1.4"/>
<line x1="111.3" y1="1308.3" x2="115.8" y2="1308.3" stroke="#000" stroke-width="1.4"/>
<line x1="111.3" y1="1434.1" x2="115.8" y2="1434.1" stroke="#000" stroke-width="1.4"/>
<line x1="111.3" y1="1559.9" x2="115.8" y2="1559.9" stroke="#000" stroke-width="1.4"/>
<line x1="111.3" y1="1685.7" x2="115.8" y2="1685.7" stroke="#000" stroke-width="1.4"/>
<line x1="170.38" y1="1748.6" x2="170.38" y2="1756.6" stroke="#000" stroke-width="1.4"/>
<line x1="279.54" y1="1748.6" x2="279.54" y2="1756.6" stroke="#000" stroke-width="1.4"/>
<line x1="388.7" y1="1748.6" x2="388.7" y2="1756.6" stroke="#000" stroke-width="1.4"/>
<line x1="497.86" y1="1748.6" x2="497.86" y2="1756.6" stroke="#000" stroke-width="1.4"/>
<line x1="607.02" y1="1748.6" x2="607.02" y2="1756.6" stroke="#000" stroke-width="1.4"/>
<line x1="115.8" y1="1748.6" x2="115.8" y2="1753.1" stroke="#000" stroke-width="1.4"/>
<line x1="224.96" y1="1748.6" x2="224.96" y2="1753.1" stroke="#000" stroke-width="1.4"/>
<line x1="334.12" y1="1748.6" x2="334.12" y2="1753.1" stroke="#000" stroke-width="1.4"/>
<line x1="443.28" y1="1748.6" x2="443.28" y2="1753.1" stroke="#000" stroke-width="1.4"/>
<line x1="552.44" y1="1748.6" x2="552.44" y2="1753.1" stroke="#000" stroke-width="1.4"/>
<line x1="661.6" y1="1748.6" x2="661.6" y2="1753.1" stroke="#000" stroke-width="1.4"/>
<text x="100.2" y="1381.4" font-size="29" text-anchor="end">0.1</text>
<text x="100.2" y="1507.2" font-size="29" text-anchor="end">0.0</text>
<text x="100.2" y="1633" font-size="29" text-anchor="end">-0.1</text>
<text x="100.2" y="1758.8" font-size="29" text-anchor="end">-0.2</text>
<text x="170.38" y="1785.7" font-size="28" text-anchor="middle">-2</text>
<text x="279.54" y="1785.7" font-size="28" text-anchor="middle">-1</text>
<text x="388.7" y="1785.7" font-size="28" text-anchor="middle">0</text>
<text x="497.86" y="1785.7" font-size="28" text-anchor="middle">1</text>
<text x="607.02" y="1785.7" font-size="28" text-anchor="middle">2</text>
<text x="391.7" y="1839.7" font-size="38" text-anchor="middle"><tspan font-style="italic">E</tspan> (kV mm<tspan font-size="25" dy="-16">&#8211;1</tspan><tspan dy="16" dx="5">)</tspan></text>
<text x="42.2" y="1518.25" font-size="37" text-anchor="middle" transform="rotate(-90 42.2 1518.25)"><tspan font-style="italic">S</tspan> (%)</text>
<text x="547.9" y="1350.5" font-size="43.5" textLength="102.3" lengthAdjust="spacingAndGlyphs">{110}</text>
<text x="558.6" y="1645.5" font-size="31" font-weight="bold" fill="#E41A1C" textLength="83.3" lengthAdjust="spacingAndGlyphs">0.002</text>
<text x="558.6" y="1688.5" font-size="31" font-weight="bold" fill="#3579BE" textLength="83.3" lengthAdjust="spacingAndGlyphs">0.006</text>
<text x="558.6" y="1731.5" font-size="31" font-weight="bold" fill="#4BAD4A" textLength="83.3" lengthAdjust="spacingAndGlyphs">0.008</text>
<text x="26" y="1296" font-size="58" font-weight="bold">d</text>
<polyline points="835.96,1427.66 841.42,1423.24 846.87,1419.19 852.33,1416.23 857.78,1415.09 863.24,1415.24 868.7,1415.66 874.15,1416.31 879.61,1417.15 885.06,1418.13 890.52,1419.22 895.98,1420.35 901.43,1421.51 906.89,1422.63 912.34,1423.78 917.8,1425.03 923.26,1426.39 928.71,1427.85 934.17,1429.41 939.62,1431.06 945.08,1432.82 950.54,1434.66 955.99,1436.6 961.45,1438.63 966.9,1440.85 972.36,1443.29 977.82,1445.94 983.27,1448.81 988.73,1451.88 994.18,1455.14 999.64,1458.8 1005.1,1463.13 1010.55,1467.87 1016.01,1472.76 1021.46,1477.53 1026.92,1481.9 1032.38,1485.65 1037.83,1488.95 1043.29,1492.02 1048.74,1495 1054.2,1498.06 1059.66,1501.02 1065.11,1503.92 1070.57,1507.22 1076.02,1511.36 1081.48,1516.53 1086.94,1522.49 1092.39,1529.03 1097.85,1536.47 1103.3,1545.17 1108.76,1556.4 1114.22,1569.99 1119.67,1581.88 1125.13,1591.8 1130.58,1600.54 1136.04,1598.09 1141.5,1588.87 1146.95,1579.77 1152.41,1570.51 1157.86,1561.11 1163.32,1552.04 1168.78,1543.78 1174.23,1536.65 1179.69,1530.32 1185.14,1524.52 1190.6,1519.02 1196.06,1513.61 1201.51,1508.08 1206.97,1502.19 1212.42,1495.76 1217.88,1488.97 1223.34,1482.26 1228.79,1475.93 1234.25,1469.83 1239.7,1463.72 1245.16,1457.39 1250.62,1450.73 1256.07,1444.05 1261.53,1437.7 1266.98,1431.87 1272.44,1426.4 1272.44,1423.89 1266.98,1422.02 1261.53,1420.65 1256.07,1420.11 1250.62,1420.27 1245.16,1420.64 1239.7,1421.12 1234.25,1421.61 1228.79,1422.19 1223.34,1422.86 1217.88,1423.61 1212.42,1424.44 1206.97,1425.33 1201.51,1426.27 1196.06,1427.26 1190.6,1428.27 1185.14,1429.31 1179.69,1430.4 1174.23,1431.55 1168.78,1432.77 1163.32,1434.07 1157.86,1435.46 1152.41,1436.94 1146.95,1438.53 1141.5,1440.23 1136.04,1442.05 1130.58,1444.1 1125.13,1446.38 1119.67,1448.87 1114.22,1451.57 1108.76,1454.44 1103.3,1457.47 1097.85,1460.64 1092.39,1463.92 1086.94,1467.33 1081.48,1471.24 1076.02,1475.6 1070.57,1480.04 1065.11,1484.23 1059.66,1488.12 1054.2,1491.77 1048.74,1494.95 1043.29,1497.8 1037.83,1500.7 1032.38,1504.05 1026.92,1508.16 1021.46,1513.09 1016.01,1519.04 1010.55,1526.38 1005.1,1536.18 999.64,1548 994.18,1561.12 988.73,1576.17 983.27,1593.4 977.82,1612.46 977.82,1612.46 972.36,1606.82 966.9,1599.89 961.45,1590.86 955.99,1580.28 950.54,1570.22 945.08,1561.81 939.62,1553.92 934.17,1546.42 928.71,1539.23 923.26,1532.27 917.8,1525.44 912.34,1518.68 906.89,1511.89 901.43,1505.15 895.98,1498.59 890.52,1492.14 885.06,1485.76 879.61,1479.39 874.15,1472.98 868.7,1466.51 863.24,1460.03 857.78,1453.56 852.33,1447.08 846.87,1440.61 841.42,1434.13 835.96,1427.66" fill="none" stroke="#E41A1C" stroke-width="1.3" stroke-linejoin="round"/>
<rect x="831.66" y="1423.36" width="8.6" height="8.6" fill="#E41A1C" stroke="none" stroke-width="0"/>
<rect x="837.12" y="1418.94" width="8.6" height="8.6" fill="#E41A1C" stroke="none" stroke-width="0"/>
<rect x="842.57" y="1414.89" width="8.6" height="8.6" fill="#E41A1C" stroke="none" stroke-width="0"/>
<rect x="848.03" y="1411.93" width="8.6" height="8.6" fill="#E41A1C" stroke="none" stroke-width="0"/>
<rect x="853.48" y="1410.79" width="8.6" height="8.6" fill="#E41A1C" stroke="none" stroke-width="0"/>
<rect x="858.94" y="1410.94" width="8.6" height="8.6" fill="#E41A1C" stroke="none" stroke-width="0"/>
<rect x="864.4" y="1411.36" width="8.6" height="8.6" fill="#E41A1C" stroke="none" stroke-width="0"/>
<rect x="869.85" y="1412.01" width="8.6" height="8.6" fill="#E41A1C" stroke="none" stroke-width="0"/>
<rect x="875.31" y="1412.85" width="8.6" height="8.6" fill="#E41A1C" stroke="none" stroke-width="0"/>
<rect x="880.76" y="1413.83" width="8.6" height="8.6" fill="#E41A1C" stroke="none" stroke-width="0"/>
<rect x="886.22" y="1414.92" width="8.6" height="8.6" fill="#E41A1C" stroke="none" stroke-width="0"/>
<rect x="891.68" y="1416.05" width="8.6" height="8.6" fill="#E41A1C" stroke="none" stroke-width="0"/>
<rect x="897.13" y="1417.21" width="8.6" height="8.6" fill="#E41A1C" stroke="none" stroke-width="0"/>
<rect x="902.59" y="1418.33" width="8.6" height="8.6" fill="#E41A1C" stroke="none" stroke-width="0"/>
<rect x="908.04" y="1419.48" width="8.6" height="8.6" fill="#E41A1C" stroke="none" stroke-width="0"/>
<rect x="913.5" y="1420.73" width="8.6" height="8.6" fill="#E41A1C" stroke="none" stroke-width="0"/>
<rect x="918.96" y="1422.09" width="8.6" height="8.6" fill="#E41A1C" stroke="none" stroke-width="0"/>
<rect x="924.41" y="1423.55" width="8.6" height="8.6" fill="#E41A1C" stroke="none" stroke-width="0"/>
<rect x="929.87" y="1425.11" width="8.6" height="8.6" fill="#E41A1C" stroke="none" stroke-width="0"/>
<rect x="935.32" y="1426.76" width="8.6" height="8.6" fill="#E41A1C" stroke="none" stroke-width="0"/>
<rect x="940.78" y="1428.52" width="8.6" height="8.6" fill="#E41A1C" stroke="none" stroke-width="0"/>
<rect x="946.24" y="1430.36" width="8.6" height="8.6" fill="#E41A1C" stroke="none" stroke-width="0"/>
<rect x="951.69" y="1432.3" width="8.6" height="8.6" fill="#E41A1C" stroke="none" stroke-width="0"/>
<rect x="957.15" y="1434.33" width="8.6" height="8.6" fill="#E41A1C" stroke="none" stroke-width="0"/>
<rect x="962.6" y="1436.55" width="8.6" height="8.6" fill="#E41A1C" stroke="none" stroke-width="0"/>
<rect x="968.06" y="1438.99" width="8.6" height="8.6" fill="#E41A1C" stroke="none" stroke-width="0"/>
<rect x="973.52" y="1441.64" width="8.6" height="8.6" fill="#E41A1C" stroke="none" stroke-width="0"/>
<rect x="978.97" y="1444.51" width="8.6" height="8.6" fill="#E41A1C" stroke="none" stroke-width="0"/>
<rect x="984.43" y="1447.58" width="8.6" height="8.6" fill="#E41A1C" stroke="none" stroke-width="0"/>
<rect x="989.88" y="1450.84" width="8.6" height="8.6" fill="#E41A1C" stroke="none" stroke-width="0"/>
<rect x="995.34" y="1454.5" width="8.6" height="8.6" fill="#E41A1C" stroke="none" stroke-width="0"/>
<rect x="1000.8" y="1458.83" width="8.6" height="8.6" fill="#E41A1C" stroke="none" stroke-width="0"/>
<rect x="1006.25" y="1463.57" width="8.6" height="8.6" fill="#E41A1C" stroke="none" stroke-width="0"/>
<rect x="1011.71" y="1468.46" width="8.6" height="8.6" fill="#E41A1C" stroke="none" stroke-width="0"/>
<rect x="1017.16" y="1473.23" width="8.6" height="8.6" fill="#E41A1C" stroke="none" stroke-width="0"/>
<rect x="1022.62" y="1477.6" width="8.6" height="8.6" fill="#E41A1C" stroke="none" stroke-width="0"/>
<rect x="1028.08" y="1481.35" width="8.6" height="8.6" fill="#E41A1C" stroke="none" stroke-width="0"/>
<rect x="1033.53" y="1484.65" width="8.6" height="8.6" fill="#E41A1C" stroke="none" stroke-width="0"/>
<rect x="1038.99" y="1487.72" width="8.6" height="8.6" fill="#E41A1C" stroke="none" stroke-width="0"/>
<rect x="1044.44" y="1490.7" width="8.6" height="8.6" fill="#E41A1C" stroke="none" stroke-width="0"/>
<rect x="1049.9" y="1493.76" width="8.6" height="8.6" fill="#E41A1C" stroke="none" stroke-width="0"/>
<rect x="1055.36" y="1496.72" width="8.6" height="8.6" fill="#E41A1C" stroke="none" stroke-width="0"/>
<rect x="1060.81" y="1499.62" width="8.6" height="8.6" fill="#E41A1C" stroke="none" stroke-width="0"/>
<rect x="1066.27" y="1502.92" width="8.6" height="8.6" fill="#E41A1C" stroke="none" stroke-width="0"/>
<rect x="1071.72" y="1507.06" width="8.6" height="8.6" fill="#E41A1C" stroke="none" stroke-width="0"/>
<rect x="1077.18" y="1512.23" width="8.6" height="8.6" fill="#E41A1C" stroke="none" stroke-width="0"/>
<rect x="1082.64" y="1518.19" width="8.6" height="8.6" fill="#E41A1C" stroke="none" stroke-width="0"/>
<rect x="1088.09" y="1524.73" width="8.6" height="8.6" fill="#E41A1C" stroke="none" stroke-width="0"/>
<rect x="1093.55" y="1532.17" width="8.6" height="8.6" fill="#E41A1C" stroke="none" stroke-width="0"/>
<rect x="1099" y="1540.87" width="8.6" height="8.6" fill="#E41A1C" stroke="none" stroke-width="0"/>
<rect x="1104.46" y="1552.1" width="8.6" height="8.6" fill="#E41A1C" stroke="none" stroke-width="0"/>
<rect x="1109.92" y="1565.69" width="8.6" height="8.6" fill="#E41A1C" stroke="none" stroke-width="0"/>
<rect x="1115.37" y="1577.58" width="8.6" height="8.6" fill="#E41A1C" stroke="none" stroke-width="0"/>
<rect x="1120.83" y="1587.5" width="8.6" height="8.6" fill="#E41A1C" stroke="none" stroke-width="0"/>
<rect x="1126.28" y="1596.24" width="8.6" height="8.6" fill="#E41A1C" stroke="none" stroke-width="0"/>
<rect x="1131.74" y="1593.79" width="8.6" height="8.6" fill="#E41A1C" stroke="none" stroke-width="0"/>
<rect x="1137.2" y="1584.57" width="8.6" height="8.6" fill="#E41A1C" stroke="none" stroke-width="0"/>
<rect x="1142.65" y="1575.47" width="8.6" height="8.6" fill="#E41A1C" stroke="none" stroke-width="0"/>
<rect x="1148.11" y="1566.21" width="8.6" height="8.6" fill="#E41A1C" stroke="none" stroke-width="0"/>
<rect x="1153.56" y="1556.81" width="8.6" height="8.6" fill="#E41A1C" stroke="none" stroke-width="0"/>
<rect x="1159.02" y="1547.74" width="8.6" height="8.6" fill="#E41A1C" stroke="none" stroke-width="0"/>
<rect x="1164.48" y="1539.48" width="8.6" height="8.6" fill="#E41A1C" stroke="none" stroke-width="0"/>
<rect x="1169.93" y="1532.35" width="8.6" height="8.6" fill="#E41A1C" stroke="none" stroke-width="0"/>
<rect x="1175.39" y="1526.02" width="8.6" height="8.6" fill="#E41A1C" stroke="none" stroke-width="0"/>
<rect x="1180.84" y="1520.22" width="8.6" height="8.6" fill="#E41A1C" stroke="none" stroke-width="0"/>
<rect x="1186.3" y="1514.72" width="8.6" height="8.6" fill="#E41A1C" stroke="none" stroke-width="0"/>
<rect x="1191.76" y="1509.31" width="8.6" height="8.6" fill="#E41A1C" stroke="none" stroke-width="0"/>
<rect x="1197.21" y="1503.78" width="8.6" height="8.6" fill="#E41A1C" stroke="none" stroke-width="0"/>
<rect x="1202.67" y="1497.89" width="8.6" height="8.6" fill="#E41A1C" stroke="none" stroke-width="0"/>
<rect x="1208.12" y="1491.46" width="8.6" height="8.6" fill="#E41A1C" stroke="none" stroke-width="0"/>
<rect x="1213.58" y="1484.67" width="8.6" height="8.6" fill="#E41A1C" stroke="none" stroke-width="0"/>
<rect x="1219.04" y="1477.96" width="8.6" height="8.6" fill="#E41A1C" stroke="none" stroke-width="0"/>
<rect x="1224.49" y="1471.63" width="8.6" height="8.6" fill="#E41A1C" stroke="none" stroke-width="0"/>
<rect x="1229.95" y="1465.53" width="8.6" height="8.6" fill="#E41A1C" stroke="none" stroke-width="0"/>
<rect x="1235.4" y="1459.42" width="8.6" height="8.6" fill="#E41A1C" stroke="none" stroke-width="0"/>
<rect x="1240.86" y="1453.09" width="8.6" height="8.6" fill="#E41A1C" stroke="none" stroke-width="0"/>
<rect x="1246.32" y="1446.43" width="8.6" height="8.6" fill="#E41A1C" stroke="none" stroke-width="0"/>
<rect x="1251.77" y="1439.75" width="8.6" height="8.6" fill="#E41A1C" stroke="none" stroke-width="0"/>
<rect x="1257.23" y="1433.4" width="8.6" height="8.6" fill="#E41A1C" stroke="none" stroke-width="0"/>
<rect x="1262.68" y="1427.57" width="8.6" height="8.6" fill="#E41A1C" stroke="none" stroke-width="0"/>
<rect x="1268.14" y="1422.1" width="8.6" height="8.6" fill="#E41A1C" stroke="none" stroke-width="0"/>
<rect x="1268.14" y="1419.59" width="8.6" height="8.6" fill="#E41A1C" stroke="none" stroke-width="0"/>
<rect x="1262.68" y="1417.72" width="8.6" height="8.6" fill="#E41A1C" stroke="none" stroke-width="0"/>
<rect x="1257.23" y="1416.35" width="8.6" height="8.6" fill="#E41A1C" stroke="none" stroke-width="0"/>
<rect x="1251.77" y="1415.81" width="8.6" height="8.6" fill="#E41A1C" stroke="none" stroke-width="0"/>
<rect x="1246.32" y="1415.97" width="8.6" height="8.6" fill="#E41A1C" stroke="none" stroke-width="0"/>
<rect x="1240.86" y="1416.34" width="8.6" height="8.6" fill="#E41A1C" stroke="none" stroke-width="0"/>
<rect x="1235.4" y="1416.82" width="8.6" height="8.6" fill="#E41A1C" stroke="none" stroke-width="0"/>
<rect x="1229.95" y="1417.31" width="8.6" height="8.6" fill="#E41A1C" stroke="none" stroke-width="0"/>
<rect x="1224.49" y="1417.89" width="8.6" height="8.6" fill="#E41A1C" stroke="none" stroke-width="0"/>
<rect x="1219.04" y="1418.56" width="8.6" height="8.6" fill="#E41A1C" stroke="none" stroke-width="0"/>
<rect x="1213.58" y="1419.31" width="8.6" height="8.6" fill="#E41A1C" stroke="none" stroke-width="0"/>
<rect x="1208.12" y="1420.14" width="8.6" height="8.6" fill="#E41A1C" stroke="none" stroke-width="0"/>
<rect x="1202.67" y="1421.03" width="8.6" height="8.6" fill="#E41A1C" stroke="none" stroke-width="0"/>
<rect x="1197.21" y="1421.97" width="8.6" height="8.6" fill="#E41A1C" stroke="none" stroke-width="0"/>
<rect x="1191.76" y="1422.96" width="8.6" height="8.6" fill="#E41A1C" stroke="none" stroke-width="0"/>
<rect x="1186.3" y="1423.97" width="8.6" height="8.6" fill="#E41A1C" stroke="none" stroke-width="0"/>
<rect x="1180.84" y="1425.01" width="8.6" height="8.6" fill="#E41A1C" stroke="none" stroke-width="0"/>
<rect x="1175.39" y="1426.1" width="8.6" height="8.6" fill="#E41A1C" stroke="none" stroke-width="0"/>
<rect x="1169.93" y="1427.25" width="8.6" height="8.6" fill="#E41A1C" stroke="none" stroke-width="0"/>
<rect x="1164.48" y="1428.47" width="8.6" height="8.6" fill="#E41A1C" stroke="none" stroke-width="0"/>
<rect x="1159.02" y="1429.77" width="8.6" height="8.6" fill="#E41A1C" stroke="none" stroke-width="0"/>
<rect x="1153.56" y="1431.16" width="8.6" height="8.6" fill="#E41A1C" stroke="none" stroke-width="0"/>
<rect x="1148.11" y="1432.64" width="8.6" height="8.6" fill="#E41A1C" stroke="none" stroke-width="0"/>
<rect x="1142.65" y="1434.23" width="8.6" height="8.6" fill="#E41A1C" stroke="none" stroke-width="0"/>
<rect x="1137.2" y="1435.93" width="8.6" height="8.6" fill="#E41A1C" stroke="none" stroke-width="0"/>
<rect x="1131.74" y="1437.75" width="8.6" height="8.6" fill="#E41A1C" stroke="none" stroke-width="0"/>
<rect x="1126.28" y="1439.8" width="8.6" height="8.6" fill="#E41A1C" stroke="none" stroke-width="0"/>
<rect x="1120.83" y="1442.08" width="8.6" height="8.6" fill="#E41A1C" stroke="none" stroke-width="0"/>
<rect x="1115.37" y="1444.57" width="8.6" height="8.6" fill="#E41A1C" stroke="none" stroke-width="0"/>
<rect x="1109.92" y="1447.27" width="8.6" height="8.6" fill="#E41A1C" stroke="none" stroke-width="0"/>
<rect x="1104.46" y="1450.14" width="8.6" height="8.6" fill="#E41A1C" stroke="none" stroke-width="0"/>
<rect x="1099" y="1453.17" width="8.6" height="8.6" fill="#E41A1C" stroke="none" stroke-width="0"/>
<rect x="1093.55" y="1456.34" width="8.6" height="8.6" fill="#E41A1C" stroke="none" stroke-width="0"/>
<rect x="1088.09" y="1459.62" width="8.6" height="8.6" fill="#E41A1C" stroke="none" stroke-width="0"/>
<rect x="1082.64" y="1463.03" width="8.6" height="8.6" fill="#E41A1C" stroke="none" stroke-width="0"/>
<rect x="1077.18" y="1466.94" width="8.6" height="8.6" fill="#E41A1C" stroke="none" stroke-width="0"/>
<rect x="1071.72" y="1471.3" width="8.6" height="8.6" fill="#E41A1C" stroke="none" stroke-width="0"/>
<rect x="1066.27" y="1475.74" width="8.6" height="8.6" fill="#E41A1C" stroke="none" stroke-width="0"/>
<rect x="1060.81" y="1479.93" width="8.6" height="8.6" fill="#E41A1C" stroke="none" stroke-width="0"/>
<rect x="1055.36" y="1483.82" width="8.6" height="8.6" fill="#E41A1C" stroke="none" stroke-width="0"/>
<rect x="1049.9" y="1487.47" width="8.6" height="8.6" fill="#E41A1C" stroke="none" stroke-width="0"/>
<rect x="1044.44" y="1490.65" width="8.6" height="8.6" fill="#E41A1C" stroke="none" stroke-width="0"/>
<rect x="1038.99" y="1493.5" width="8.6" height="8.6" fill="#E41A1C" stroke="none" stroke-width="0"/>
<rect x="1033.53" y="1496.4" width="8.6" height="8.6" fill="#E41A1C" stroke="none" stroke-width="0"/>
<rect x="1028.08" y="1499.75" width="8.6" height="8.6" fill="#E41A1C" stroke="none" stroke-width="0"/>
<rect x="1022.62" y="1503.86" width="8.6" height="8.6" fill="#E41A1C" stroke="none" stroke-width="0"/>
<rect x="1017.16" y="1508.79" width="8.6" height="8.6" fill="#E41A1C" stroke="none" stroke-width="0"/>
<rect x="1011.71" y="1514.74" width="8.6" height="8.6" fill="#E41A1C" stroke="none" stroke-width="0"/>
<rect x="1006.25" y="1522.08" width="8.6" height="8.6" fill="#E41A1C" stroke="none" stroke-width="0"/>
<rect x="1000.8" y="1531.88" width="8.6" height="8.6" fill="#E41A1C" stroke="none" stroke-width="0"/>
<rect x="995.34" y="1543.7" width="8.6" height="8.6" fill="#E41A1C" stroke="none" stroke-width="0"/>
<rect x="989.88" y="1556.82" width="8.6" height="8.6" fill="#E41A1C" stroke="none" stroke-width="0"/>
<rect x="984.43" y="1571.87" width="8.6" height="8.6" fill="#E41A1C" stroke="none" stroke-width="0"/>
<rect x="978.97" y="1589.1" width="8.6" height="8.6" fill="#E41A1C" stroke="none" stroke-width="0"/>
<rect x="973.52" y="1608.16" width="8.6" height="8.6" fill="#E41A1C" stroke="none" stroke-width="0"/>
<rect x="973.52" y="1608.16" width="8.6" height="8.6" fill="#E41A1C" stroke="none" stroke-width="0"/>
<rect x="968.06" y="1602.52" width="8.6" height="8.6" fill="#E41A1C" stroke="none" stroke-width="0"/>
<rect x="962.6" y="1595.59" width="8.6" height="8.6" fill="#E41A1C" stroke="none" stroke-width="0"/>
<rect x="957.15" y="1586.56" width="8.6" height="8.6" fill="#E41A1C" stroke="none" stroke-width="0"/>
<rect x="951.69" y="1575.98" width="8.6" height="8.6" fill="#E41A1C" stroke="none" stroke-width="0"/>
<rect x="946.24" y="1565.92" width="8.6" height="8.6" fill="#E41A1C" stroke="none" stroke-width="0"/>
<rect x="940.78" y="1557.51" width="8.6" height="8.6" fill="#E41A1C" stroke="none" stroke-width="0"/>
<rect x="935.32" y="1549.62" width="8.6" height="8.6" fill="#E41A1C" stroke="none" stroke-width="0"/>
<rect x="929.87" y="1542.12" width="8.6" height="8.6" fill="#E41A1C" stroke="none" stroke-width="0"/>
<rect x="924.41" y="1534.93" width="8.6" height="8.6" fill="#E41A1C" stroke="none" stroke-width="0"/>
<rect x="918.96" y="1527.97" width="8.6" height="8.6" fill="#E41A1C" stroke="none" stroke-width="0"/>
<rect x="913.5" y="1521.14" width="8.6" height="8.6" fill="#E41A1C" stroke="none" stroke-width="0"/>
<rect x="908.04" y="1514.38" width="8.6" height="8.6" fill="#E41A1C" stroke="none" stroke-width="0"/>
<rect x="902.59" y="1507.59" width="8.6" height="8.6" fill="#E41A1C" stroke="none" stroke-width="0"/>
<rect x="897.13" y="1500.85" width="8.6" height="8.6" fill="#E41A1C" stroke="none" stroke-width="0"/>
<rect x="891.68" y="1494.29" width="8.6" height="8.6" fill="#E41A1C" stroke="none" stroke-width="0"/>
<rect x="886.22" y="1487.84" width="8.6" height="8.6" fill="#E41A1C" stroke="none" stroke-width="0"/>
<rect x="880.76" y="1481.46" width="8.6" height="8.6" fill="#E41A1C" stroke="none" stroke-width="0"/>
<rect x="875.31" y="1475.09" width="8.6" height="8.6" fill="#E41A1C" stroke="none" stroke-width="0"/>
<rect x="869.85" y="1468.68" width="8.6" height="8.6" fill="#E41A1C" stroke="none" stroke-width="0"/>
<rect x="864.4" y="1462.21" width="8.6" height="8.6" fill="#E41A1C" stroke="none" stroke-width="0"/>
<rect x="858.94" y="1455.73" width="8.6" height="8.6" fill="#E41A1C" stroke="none" stroke-width="0"/>
<rect x="853.48" y="1449.26" width="8.6" height="8.6" fill="#E41A1C" stroke="none" stroke-width="0"/>
<rect x="848.03" y="1442.78" width="8.6" height="8.6" fill="#E41A1C" stroke="none" stroke-width="0"/>
<rect x="842.57" y="1436.31" width="8.6" height="8.6" fill="#E41A1C" stroke="none" stroke-width="0"/>
<rect x="837.12" y="1429.83" width="8.6" height="8.6" fill="#E41A1C" stroke="none" stroke-width="0"/>
<rect x="831.66" y="1423.36" width="8.6" height="8.6" fill="#E41A1C" stroke="none" stroke-width="0"/>
<polyline points="835.96,1387.43 841.42,1383.72 846.87,1381.77 852.33,1382.01 857.78,1382.7 863.24,1383.78 868.7,1385.19 874.15,1386.87 879.61,1388.77 885.06,1390.81 890.52,1392.96 895.98,1395.14 901.43,1397.29 906.89,1399.37 912.34,1401.55 917.8,1404 923.26,1406.65 928.71,1409.41 934.17,1412.21 939.62,1414.96 945.08,1417.6 950.54,1420.06 955.99,1422.39 961.45,1424.64 966.9,1426.87 972.36,1429.15 977.82,1431.54 983.27,1434.1 988.73,1436.89 994.18,1439.97 999.64,1443.58 1005.1,1447.85 1010.55,1452.56 1016.01,1457.51 1021.46,1462.47 1026.92,1467.23 1032.38,1471.6 1037.83,1475.73 1043.29,1479.78 1048.74,1483.83 1054.2,1488" fill="none" stroke="#3579BE" stroke-width="1.3" stroke-linejoin="round"/>
<polyline points="1054.2,1598.63 1059.66,1601.94 1065.11,1608.69 1070.57,1621.26 1076.02,1635.09 1081.48,1656.46 1086.94,1686.63 1092.39,1712.55 1097.85,1634.45 1103.3,1570.14 1108.76,1547.26 1114.22,1533.26 1119.67,1522.53 1125.13,1511.89 1130.58,1498.25 1136.04,1492.14 1141.5,1486.1 1146.95,1478.54 1152.41,1468.19 1157.86,1459.97 1163.32,1452.84 1168.78,1446.19 1174.23,1439.48 1179.69,1432.66 1185.14,1426.17 1190.6,1420.28 1196.06,1414.61 1201.51,1409.25 1206.97,1404.34 1212.42,1400.01 1217.88,1396.27 1223.34,1392.94 1228.79,1389.83 1234.25,1386.78 1239.7,1383.63 1245.16,1380.39 1250.62,1377.2 1256.07,1374.24 1261.53,1371.68 1266.98,1369.57 1272.44,1367.82 1272.44,1367.82 1266.98,1361.06 1261.53,1361.66 1256.07,1363.23 1250.62,1364.95 1245.16,1366.31 1239.7,1367.59 1234.25,1368.89 1228.79,1370.31 1223.34,1371.93 1217.88,1373.86 1212.42,1376.04 1206.97,1378.37 1201.51,1380.73 1196.06,1383.06 1190.6,1385.45 1185.14,1387.89 1179.69,1390.4 1174.23,1392.97 1168.78,1395.6 1163.32,1398.31 1157.86,1401.08 1152.41,1403.9 1146.95,1406.76 1141.5,1409.62 1136.04,1412.55 1130.58,1415.61 1125.13,1418.86 1119.67,1422.32 1114.22,1425.98 1108.76,1429.84 1103.3,1433.92 1097.85,1438.19 1092.39,1442.63 1086.94,1447.33 1081.48,1452.42 1076.02,1457.99 1070.57,1464.56 1065.11,1472 1059.66,1479.27 1054.2,1486.74 1048.74,1494.88 1043.29,1506.63 1037.83,1519.35 1032.38,1532.04 1026.92,1545.83 1021.46,1568.46 1016.01,1599.89 1010.55,1651.43 1005.1,1699.31 999.64,1660.62 994.18,1624.52 988.73,1609.53 983.27,1589.83 977.82,1574.65 972.36,1562.47 966.9,1552.74 961.45,1543.92 955.99,1534.15 950.54,1523.2 945.08,1509.22 939.62,1498.39 934.17,1491.02 928.71,1481.42 923.26,1471.26 917.8,1462.8 912.34,1455.72 906.89,1449.03 901.43,1442.36 895.98,1435.95 890.52,1429.71 885.06,1423.52 879.61,1417.59 874.15,1412.09 868.7,1407.12 863.24,1402.46 857.78,1398.34 852.33,1394.95 846.87,1391.98 841.42,1389.44 835.96,1387.43" fill="none" stroke="#3579BE" stroke-width="1.3" stroke-linejoin="round"/>
<circle cx="835.96" cy="1387.43" r="5" fill="#3579BE"/>
<circle cx="841.42" cy="1383.72" r="5" fill="#3579BE"/>
<circle cx="846.87" cy="1381.77" r="5" fill="#3579BE"/>
<circle cx="852.33" cy="1382.01" r="5" fill="#3579BE"/>
<circle cx="857.78" cy="1382.7" r="5" fill="#3579BE"/>
<circle cx="863.24" cy="1383.78" r="5" fill="#3579BE"/>
<circle cx="868.7" cy="1385.19" r="5" fill="#3579BE"/>
<circle cx="874.15" cy="1386.87" r="5" fill="#3579BE"/>
<circle cx="879.61" cy="1388.77" r="5" fill="#3579BE"/>
<circle cx="885.06" cy="1390.81" r="5" fill="#3579BE"/>
<circle cx="890.52" cy="1392.96" r="5" fill="#3579BE"/>
<circle cx="895.98" cy="1395.14" r="5" fill="#3579BE"/>
<circle cx="901.43" cy="1397.29" r="5" fill="#3579BE"/>
<circle cx="906.89" cy="1399.37" r="5" fill="#3579BE"/>
<circle cx="912.34" cy="1401.55" r="5" fill="#3579BE"/>
<circle cx="917.8" cy="1404" r="5" fill="#3579BE"/>
<circle cx="923.26" cy="1406.65" r="5" fill="#3579BE"/>
<circle cx="928.71" cy="1409.41" r="5" fill="#3579BE"/>
<circle cx="934.17" cy="1412.21" r="5" fill="#3579BE"/>
<circle cx="939.62" cy="1414.96" r="5" fill="#3579BE"/>
<circle cx="945.08" cy="1417.6" r="5" fill="#3579BE"/>
<circle cx="950.54" cy="1420.06" r="5" fill="#3579BE"/>
<circle cx="955.99" cy="1422.39" r="5" fill="#3579BE"/>
<circle cx="961.45" cy="1424.64" r="5" fill="#3579BE"/>
<circle cx="966.9" cy="1426.87" r="5" fill="#3579BE"/>
<circle cx="972.36" cy="1429.15" r="5" fill="#3579BE"/>
<circle cx="977.82" cy="1431.54" r="5" fill="#3579BE"/>
<circle cx="983.27" cy="1434.1" r="5" fill="#3579BE"/>
<circle cx="988.73" cy="1436.89" r="5" fill="#3579BE"/>
<circle cx="994.18" cy="1439.97" r="5" fill="#3579BE"/>
<circle cx="999.64" cy="1443.58" r="5" fill="#3579BE"/>
<circle cx="1005.1" cy="1447.85" r="5" fill="#3579BE"/>
<circle cx="1010.55" cy="1452.56" r="5" fill="#3579BE"/>
<circle cx="1016.01" cy="1457.51" r="5" fill="#3579BE"/>
<circle cx="1021.46" cy="1462.47" r="5" fill="#3579BE"/>
<circle cx="1026.92" cy="1467.23" r="5" fill="#3579BE"/>
<circle cx="1032.38" cy="1471.6" r="5" fill="#3579BE"/>
<circle cx="1037.83" cy="1475.73" r="5" fill="#3579BE"/>
<circle cx="1043.29" cy="1479.78" r="5" fill="#3579BE"/>
<circle cx="1048.74" cy="1483.83" r="5" fill="#3579BE"/>
<circle cx="1054.2" cy="1488" r="5" fill="#3579BE"/>
<circle cx="1054.2" cy="1598.63" r="5" fill="#3579BE"/>
<circle cx="1059.66" cy="1601.94" r="5" fill="#3579BE"/>
<circle cx="1065.11" cy="1608.69" r="5" fill="#3579BE"/>
<circle cx="1070.57" cy="1621.26" r="5" fill="#3579BE"/>
<circle cx="1076.02" cy="1635.09" r="5" fill="#3579BE"/>
<circle cx="1081.48" cy="1656.46" r="5" fill="#3579BE"/>
<circle cx="1086.94" cy="1686.63" r="5" fill="#3579BE"/>
<circle cx="1092.39" cy="1712.55" r="5" fill="#3579BE"/>
<circle cx="1097.85" cy="1634.45" r="5" fill="#3579BE"/>
<circle cx="1103.3" cy="1570.14" r="5" fill="#3579BE"/>
<circle cx="1108.76" cy="1547.26" r="5" fill="#3579BE"/>
<circle cx="1114.22" cy="1533.26" r="5" fill="#3579BE"/>
<circle cx="1119.67" cy="1522.53" r="5" fill="#3579BE"/>
<circle cx="1125.13" cy="1511.89" r="5" fill="#3579BE"/>
<circle cx="1130.58" cy="1498.25" r="5" fill="#3579BE"/>
<circle cx="1136.04" cy="1492.14" r="5" fill="#3579BE"/>
<circle cx="1141.5" cy="1486.1" r="5" fill="#3579BE"/>
<circle cx="1146.95" cy="1478.54" r="5" fill="#3579BE"/>
<circle cx="1152.41" cy="1468.19" r="5" fill="#3579BE"/>
<circle cx="1157.86" cy="1459.97" r="5" fill="#3579BE"/>
<circle cx="1163.32" cy="1452.84" r="5" fill="#3579BE"/>
<circle cx="1168.78" cy="1446.19" r="5" fill="#3579BE"/>
<circle cx="1174.23" cy="1439.48" r="5" fill="#3579BE"/>
<circle cx="1179.69" cy="1432.66" r="5" fill="#3579BE"/>
<circle cx="1185.14" cy="1426.17" r="5" fill="#3579BE"/>
<circle cx="1190.6" cy="1420.28" r="5" fill="#3579BE"/>
<circle cx="1196.06" cy="1414.61" r="5" fill="#3579BE"/>
<circle cx="1201.51" cy="1409.25" r="5" fill="#3579BE"/>
<circle cx="1206.97" cy="1404.34" r="5" fill="#3579BE"/>
<circle cx="1212.42" cy="1400.01" r="5" fill="#3579BE"/>
<circle cx="1217.88" cy="1396.27" r="5" fill="#3579BE"/>
<circle cx="1223.34" cy="1392.94" r="5" fill="#3579BE"/>
<circle cx="1228.79" cy="1389.83" r="5" fill="#3579BE"/>
<circle cx="1234.25" cy="1386.78" r="5" fill="#3579BE"/>
<circle cx="1239.7" cy="1383.63" r="5" fill="#3579BE"/>
<circle cx="1245.16" cy="1380.39" r="5" fill="#3579BE"/>
<circle cx="1250.62" cy="1377.2" r="5" fill="#3579BE"/>
<circle cx="1256.07" cy="1374.24" r="5" fill="#3579BE"/>
<circle cx="1261.53" cy="1371.68" r="5" fill="#3579BE"/>
<circle cx="1266.98" cy="1369.57" r="5" fill="#3579BE"/>
<circle cx="1272.44" cy="1367.82" r="5" fill="#3579BE"/>
<circle cx="1272.44" cy="1367.82" r="5" fill="#3579BE"/>
<circle cx="1266.98" cy="1361.06" r="5" fill="#3579BE"/>
<circle cx="1261.53" cy="1361.66" r="5" fill="#3579BE"/>
<circle cx="1256.07" cy="1363.23" r="5" fill="#3579BE"/>
<circle cx="1250.62" cy="1364.95" r="5" fill="#3579BE"/>
<circle cx="1245.16" cy="1366.31" r="5" fill="#3579BE"/>
<circle cx="1239.7" cy="1367.59" r="5" fill="#3579BE"/>
<circle cx="1234.25" cy="1368.89" r="5" fill="#3579BE"/>
<circle cx="1228.79" cy="1370.31" r="5" fill="#3579BE"/>
<circle cx="1223.34" cy="1371.93" r="5" fill="#3579BE"/>
<circle cx="1217.88" cy="1373.86" r="5" fill="#3579BE"/>
<circle cx="1212.42" cy="1376.04" r="5" fill="#3579BE"/>
<circle cx="1206.97" cy="1378.37" r="5" fill="#3579BE"/>
<circle cx="1201.51" cy="1380.73" r="5" fill="#3579BE"/>
<circle cx="1196.06" cy="1383.06" r="5" fill="#3579BE"/>
<circle cx="1190.6" cy="1385.45" r="5" fill="#3579BE"/>
<circle cx="1185.14" cy="1387.89" r="5" fill="#3579BE"/>
<circle cx="1179.69" cy="1390.4" r="5" fill="#3579BE"/>
<circle cx="1174.23" cy="1392.97" r="5" fill="#3579BE"/>
<circle cx="1168.78" cy="1395.6" r="5" fill="#3579BE"/>
<circle cx="1163.32" cy="1398.31" r="5" fill="#3579BE"/>
<circle cx="1157.86" cy="1401.08" r="5" fill="#3579BE"/>
<circle cx="1152.41" cy="1403.9" r="5" fill="#3579BE"/>
<circle cx="1146.95" cy="1406.76" r="5" fill="#3579BE"/>
<circle cx="1141.5" cy="1409.62" r="5" fill="#3579BE"/>
<circle cx="1136.04" cy="1412.55" r="5" fill="#3579BE"/>
<circle cx="1130.58" cy="1415.61" r="5" fill="#3579BE"/>
<circle cx="1125.13" cy="1418.86" r="5" fill="#3579BE"/>
<circle cx="1119.67" cy="1422.32" r="5" fill="#3579BE"/>
<circle cx="1114.22" cy="1425.98" r="5" fill="#3579BE"/>
<circle cx="1108.76" cy="1429.84" r="5" fill="#3579BE"/>
<circle cx="1103.3" cy="1433.92" r="5" fill="#3579BE"/>
<circle cx="1097.85" cy="1438.19" r="5" fill="#3579BE"/>
<circle cx="1092.39" cy="1442.63" r="5" fill="#3579BE"/>
<circle cx="1086.94" cy="1447.33" r="5" fill="#3579BE"/>
<circle cx="1081.48" cy="1452.42" r="5" fill="#3579BE"/>
<circle cx="1076.02" cy="1457.99" r="5" fill="#3579BE"/>
<circle cx="1070.57" cy="1464.56" r="5" fill="#3579BE"/>
<circle cx="1065.11" cy="1472" r="5" fill="#3579BE"/>
<circle cx="1059.66" cy="1479.27" r="5" fill="#3579BE"/>
<circle cx="1054.2" cy="1486.74" r="5" fill="#3579BE"/>
<circle cx="1048.74" cy="1494.88" r="5" fill="#3579BE"/>
<circle cx="1043.29" cy="1506.63" r="5" fill="#3579BE"/>
<circle cx="1037.83" cy="1519.35" r="5" fill="#3579BE"/>
<circle cx="1032.38" cy="1532.04" r="5" fill="#3579BE"/>
<circle cx="1026.92" cy="1545.83" r="5" fill="#3579BE"/>
<circle cx="1021.46" cy="1568.46" r="5" fill="#3579BE"/>
<circle cx="1016.01" cy="1599.89" r="5" fill="#3579BE"/>
<circle cx="1010.55" cy="1651.43" r="5" fill="#3579BE"/>
<circle cx="1005.1" cy="1699.31" r="5" fill="#3579BE"/>
<circle cx="999.64" cy="1660.62" r="5" fill="#3579BE"/>
<circle cx="994.18" cy="1624.52" r="5" fill="#3579BE"/>
<circle cx="988.73" cy="1609.53" r="5" fill="#3579BE"/>
<circle cx="983.27" cy="1589.83" r="5" fill="#3579BE"/>
<circle cx="977.82" cy="1574.65" r="5" fill="#3579BE"/>
<circle cx="972.36" cy="1562.47" r="5" fill="#3579BE"/>
<circle cx="966.9" cy="1552.74" r="5" fill="#3579BE"/>
<circle cx="961.45" cy="1543.92" r="5" fill="#3579BE"/>
<circle cx="955.99" cy="1534.15" r="5" fill="#3579BE"/>
<circle cx="950.54" cy="1523.2" r="5" fill="#3579BE"/>
<circle cx="945.08" cy="1509.22" r="5" fill="#3579BE"/>
<circle cx="939.62" cy="1498.39" r="5" fill="#3579BE"/>
<circle cx="934.17" cy="1491.02" r="5" fill="#3579BE"/>
<circle cx="928.71" cy="1481.42" r="5" fill="#3579BE"/>
<circle cx="923.26" cy="1471.26" r="5" fill="#3579BE"/>
<circle cx="917.8" cy="1462.8" r="5" fill="#3579BE"/>
<circle cx="912.34" cy="1455.72" r="5" fill="#3579BE"/>
<circle cx="906.89" cy="1449.03" r="5" fill="#3579BE"/>
<circle cx="901.43" cy="1442.36" r="5" fill="#3579BE"/>
<circle cx="895.98" cy="1435.95" r="5" fill="#3579BE"/>
<circle cx="890.52" cy="1429.71" r="5" fill="#3579BE"/>
<circle cx="885.06" cy="1423.52" r="5" fill="#3579BE"/>
<circle cx="879.61" cy="1417.59" r="5" fill="#3579BE"/>
<circle cx="874.15" cy="1412.09" r="5" fill="#3579BE"/>
<circle cx="868.7" cy="1407.12" r="5" fill="#3579BE"/>
<circle cx="863.24" cy="1402.46" r="5" fill="#3579BE"/>
<circle cx="857.78" cy="1398.34" r="5" fill="#3579BE"/>
<circle cx="852.33" cy="1394.95" r="5" fill="#3579BE"/>
<circle cx="846.87" cy="1391.98" r="5" fill="#3579BE"/>
<circle cx="841.42" cy="1389.44" r="5" fill="#3579BE"/>
<circle cx="835.96" cy="1387.43" r="5" fill="#3579BE"/>
<polyline points="835.96,1426.4 841.42,1424.04 846.87,1422.04 852.33,1420.64 857.78,1420.11 863.24,1420.36 868.7,1421.03 874.15,1422.06 879.61,1423.38 885.06,1424.89 890.52,1426.53 895.98,1428.22 901.43,1429.87 906.89,1431.43 912.34,1432.94 917.8,1434.51 923.26,1436.16 928.71,1437.86 934.17,1439.64 939.62,1441.47 945.08,1443.37 950.54,1445.34 955.99,1447.36 961.45,1449.45 966.9,1451.69 972.36,1454.07 977.82,1456.59 983.27,1459.19 988.73,1461.85 994.18,1464.54 999.64,1467.21 1005.1,1469.85 1010.55,1472.42 1016.01,1474.9 1021.46,1477.35 1026.92,1479.79 1032.38,1482.22 1037.83,1484.63 1043.29,1487.02 1048.74,1489.4 1054.2,1491.77" fill="none" stroke="#4BAD4A" stroke-width="1.3" stroke-linejoin="round"/>
<polyline points="1054.2,1523.2 1059.66,1525.82 1065.11,1529.07 1070.57,1532.84 1076.02,1537.03 1081.48,1541.89 1086.94,1547.58 1092.39,1553.89 1097.85,1560.58 1103.3,1567.52 1108.76,1575.18 1114.22,1583.31 1119.67,1591.44 1125.13,1599.58 1130.58,1607.86 1136.04,1605.07 1141.5,1592.28 1146.95,1577.26 1152.41,1558.91 1157.86,1531.71 1163.32,1516.93 1168.78,1509.93 1174.23,1501.43 1179.69,1493.29 1185.14,1485.69 1190.6,1478.52 1196.06,1471.7 1201.51,1465.16 1206.97,1459.01 1212.42,1453.36 1217.88,1448.16 1223.34,1443.34 1228.79,1438.89 1234.25,1434.8 1239.7,1430.98 1245.16,1427.47 1250.62,1424.28 1256.07,1421.36 1261.53,1418.86 1266.98,1416.78 1272.44,1415.09 1272.44,1413.83 1266.98,1412.94 1261.53,1412.57 1256.07,1412.77 1250.62,1413.26 1245.16,1413.94 1239.7,1414.69 1234.25,1415.48 1228.79,1416.48 1223.34,1417.65 1217.88,1418.88 1212.42,1420.05 1206.97,1421.13 1201.51,1422.2 1196.06,1423.27 1190.6,1424.34 1185.14,1425.43 1179.69,1426.47 1174.23,1427.52 1168.78,1428.62 1163.32,1429.84 1157.86,1431.21 1152.41,1432.74 1146.95,1434.41 1141.5,1436.17 1136.04,1438.03 1130.58,1439.97 1125.13,1442.04 1119.67,1444.28 1114.22,1446.72 1108.76,1449.41 1103.3,1452.38 1097.85,1455.66 1092.39,1459.25 1086.94,1463.19 1081.48,1468.05 1076.02,1473.61 1070.57,1479.25 1065.11,1484.33 1059.66,1488.31 1054.2,1491.77 1048.74,1495.4 1043.29,1499.03 1037.83,1502.82 1032.38,1506.96 1026.92,1511.56 1021.46,1516.66 1016.01,1522.45 1010.55,1529.27 1005.1,1537.99 999.64,1547.48 994.18,1556.27 988.73,1563.98 983.27,1571.52 977.82,1579.77 972.36,1589.33 966.9,1599.89 966.9,1599.89 961.45,1593.26 955.99,1586.06 950.54,1578.39 945.08,1570.1 939.62,1560.7 934.17,1549.29 928.71,1537.58 923.26,1527.74 917.8,1519.75 912.34,1512.58 906.89,1505.6 901.43,1498.54 895.98,1491.58 890.52,1484.74 885.06,1478.06 879.61,1471.57 874.15,1465.3 868.7,1459.25 863.24,1453.36 857.78,1447.63 852.33,1442.06 846.87,1436.66 841.42,1431.43 835.96,1426.4" fill="none" stroke="#4BAD4A" stroke-width="1.3" stroke-linejoin="round"/>
<polygon points="835.96,1420.6 830.36,1430.3 841.56,1430.3" fill="#4BAD4A" stroke="none" stroke-width="0"/>
<polygon points="841.42,1418.24 835.82,1427.94 847.02,1427.94" fill="#4BAD4A" stroke="none" stroke-width="0"/>
<polygon points="846.87,1416.24 841.27,1425.94 852.47,1425.94" fill="#4BAD4A" stroke="none" stroke-width="0"/>
<polygon points="852.33,1414.84 846.73,1424.54 857.93,1424.54" fill="#4BAD4A" stroke="none" stroke-width="0"/>
<polygon points="857.78,1414.31 852.18,1424.01 863.38,1424.01" fill="#4BAD4A" stroke="none" stroke-width="0"/>
<polygon points="863.24,1414.56 857.64,1424.26 868.84,1424.26" fill="#4BAD4A" stroke="none" stroke-width="0"/>
<polygon points="868.7,1415.23 863.1,1424.93 874.3,1424.93" fill="#4BAD4A" stroke="none" stroke-width="0"/>
<polygon points="874.15,1416.26 868.55,1425.96 879.75,1425.96" fill="#4BAD4A" stroke="none" stroke-width="0"/>
<polygon points="879.61,1417.58 874.01,1427.28 885.21,1427.28" fill="#4BAD4A" stroke="none" stroke-width="0"/>
<polygon points="885.06,1419.09 879.46,1428.79 890.66,1428.79" fill="#4BAD4A" stroke="none" stroke-width="0"/>
<polygon points="890.52,1420.73 884.92,1430.43 896.12,1430.43" fill="#4BAD4A" stroke="none" stroke-width="0"/>
<polygon points="895.98,1422.42 890.38,1432.12 901.58,1432.12" fill="#4BAD4A" stroke="none" stroke-width="0"/>
<polygon points="901.43,1424.07 895.83,1433.77 907.03,1433.77" fill="#4BAD4A" stroke="none" stroke-width="0"/>
<polygon points="906.89,1425.63 901.29,1435.33 912.49,1435.33" fill="#4BAD4A" stroke="none" stroke-width="0"/>
<polygon points="912.34,1427.14 906.74,1436.84 917.94,1436.84" fill="#4BAD4A" stroke="none" stroke-width="0"/>
<polygon points="917.8,1428.71 912.2,1438.41 923.4,1438.41" fill="#4BAD4A" stroke="none" stroke-width="0"/>
<polygon points="923.26,1430.36 917.66,1440.06 928.86,1440.06" fill="#4BAD4A" stroke="none" stroke-width="0"/>
<polygon points="928.71,1432.06 923.11,1441.76 934.31,1441.76" fill="#4BAD4A" stroke="none" stroke-width="0"/>
<polygon points="934.17,1433.84 928.57,1443.54 939.77,1443.54" fill="#4BAD4A" stroke="none" stroke-width="0"/>
<polygon points="939.62,1435.67 934.02,1445.37 945.22,1445.37" fill="#4BAD4A" stroke="none" stroke-width="0"/>
<polygon points="945.08,1437.57 939.48,1447.27 950.68,1447.27" fill="#4BAD4A" stroke="none" stroke-width="0"/>
<polygon points="950.54,1439.54 944.94,1449.24 956.14,1449.24" fill="#4BAD4A" stroke="none" stroke-width="0"/>
<polygon points="955.99,1441.56 950.39,1451.26 961.59,1451.26" fill="#4BAD4A" stroke="none" stroke-width="0"/>
<polygon points="961.45,1443.65 955.85,1453.35 967.05,1453.35" fill="#4BAD4A" stroke="none" stroke-width="0"/>
<polygon points="966.9,1445.89 961.3,1455.59 972.5,1455.59" fill="#4BAD4A" stroke="none" stroke-width="0"/>
<polygon points="972.36,1448.27 966.76,1457.97 977.96,1457.97" fill="#4BAD4A" stroke="none" stroke-width="0"/>
<polygon points="977.82,1450.79 972.22,1460.49 983.42,1460.49" fill="#4BAD4A" stroke="none" stroke-width="0"/>
<polygon points="983.27,1453.39 977.67,1463.09 988.87,1463.09" fill="#4BAD4A" stroke="none" stroke-width="0"/>
<polygon points="988.73,1456.05 983.13,1465.75 994.33,1465.75" fill="#4BAD4A" stroke="none" stroke-width="0"/>
<polygon points="994.18,1458.74 988.58,1468.44 999.78,1468.44" fill="#4BAD4A" stroke="none" stroke-width="0"/>
<polygon points="999.64,1461.41 994.04,1471.11 1005.24,1471.11" fill="#4BAD4A" stroke="none" stroke-width="0"/>
<polygon points="1005.1,1464.05 999.5,1473.75 1010.7,1473.75" fill="#4BAD4A" stroke="none" stroke-width="0"/>
<polygon points="1010.55,1466.62 1004.95,1476.32 1016.15,1476.32" fill="#4BAD4A" stroke="none" stroke-width="0"/>
<polygon points="1016.01,1469.1 1010.41,1478.8 1021.61,1478.8" fill="#4BAD4A" stroke="none" stroke-width="0"/>
<polygon points="1021.46,1471.55 1015.86,1481.25 1027.06,1481.25" fill="#4BAD4A" stroke="none" stroke-width="0"/>
<polygon points="1026.92,1473.99 1021.32,1483.69 1032.52,1483.69" fill="#4BAD4A" stroke="none" stroke-width="0"/>
<polygon points="1032.38,1476.42 1026.78,1486.12 1037.98,1486.12" fill="#4BAD4A" stroke="none" stroke-width="0"/>
<polygon points="1037.83,1478.83 1032.23,1488.53 1043.43,1488.53" fill="#4BAD4A" stroke="none" stroke-width="0"/>
<polygon points="1043.29,1481.22 1037.69,1490.92 1048.89,1490.92" fill="#4BAD4A" stroke="none" stroke-width="0"/>
<polygon points="1048.74,1483.6 1043.14,1493.3 1054.34,1493.3" fill="#4BAD4A" stroke="none" stroke-width="0"/>
<polygon points="1054.2,1485.97 1048.6,1495.67 1059.8,1495.67" fill="#4BAD4A" stroke="none" stroke-width="0"/>
<polygon points="1054.2,1517.4 1048.6,1527.1 1059.8,1527.1" fill="#4BAD4A" stroke="none" stroke-width="0"/>
<polygon points="1059.66,1520.02 1054.06,1529.72 1065.26,1529.72" fill="#4BAD4A" stroke="none" stroke-width="0"/>
<polygon points="1065.11,1523.27 1059.51,1532.97 1070.71,1532.97" fill="#4BAD4A" stroke="none" stroke-width="0"/>
<polygon points="1070.57,1527.04 1064.97,1536.74 1076.17,1536.74" fill="#4BAD4A" stroke="none" stroke-width="0"/>
<polygon points="1076.02,1531.23 1070.42,1540.93 1081.62,1540.93" fill="#4BAD4A" stroke="none" stroke-width="0"/>
<polygon points="1081.48,1536.09 1075.88,1545.79 1087.08,1545.79" fill="#4BAD4A" stroke="none" stroke-width="0"/>
<polygon points="1086.94,1541.78 1081.34,1551.48 1092.54,1551.48" fill="#4BAD4A" stroke="none" stroke-width="0"/>
<polygon points="1092.39,1548.09 1086.79,1557.79 1097.99,1557.79" fill="#4BAD4A" stroke="none" stroke-width="0"/>
<polygon points="1097.85,1554.78 1092.25,1564.48 1103.45,1564.48" fill="#4BAD4A" stroke="none" stroke-width="0"/>
<polygon points="1103.3,1561.72 1097.7,1571.42 1108.9,1571.42" fill="#4BAD4A" stroke="none" stroke-width="0"/>
<polygon points="1108.76,1569.38 1103.16,1579.08 1114.36,1579.08" fill="#4BAD4A" stroke="none" stroke-width="0"/>
<polygon points="1114.22,1577.51 1108.62,1587.21 1119.82,1587.21" fill="#4BAD4A" stroke="none" stroke-width="0"/>
<polygon points="1119.67,1585.64 1114.07,1595.34 1125.27,1595.34" fill="#4BAD4A" stroke="none" stroke-width="0"/>
<polygon points="1125.13,1593.78 1119.53,1603.48 1130.73,1603.48" fill="#4BAD4A" stroke="none" stroke-width="0"/>
<polygon points="1130.58,1602.06 1124.98,1611.76 1136.18,1611.76" fill="#4BAD4A" stroke="none" stroke-width="0"/>
<polygon points="1136.04,1599.27 1130.44,1608.97 1141.64,1608.97" fill="#4BAD4A" stroke="none" stroke-width="0"/>
<polygon points="1141.5,1586.48 1135.9,1596.18 1147.1,1596.18" fill="#4BAD4A" stroke="none" stroke-width="0"/>
<polygon points="1146.95,1571.46 1141.35,1581.16 1152.55,1581.16" fill="#4BAD4A" stroke="none" stroke-width="0"/>
<polygon points="1152.41,1553.11 1146.81,1562.81 1158.01,1562.81" fill="#4BAD4A" stroke="none" stroke-width="0"/>
<polygon points="1157.86,1525.91 1152.26,1535.61 1163.46,1535.61" fill="#4BAD4A" stroke="none" stroke-width="0"/>
<polygon points="1163.32,1511.13 1157.72,1520.83 1168.92,1520.83" fill="#4BAD4A" stroke="none" stroke-width="0"/>
<polygon points="1168.78,1504.13 1163.18,1513.83 1174.38,1513.83" fill="#4BAD4A" stroke="none" stroke-width="0"/>
<polygon points="1174.23,1495.63 1168.63,1505.33 1179.83,1505.33" fill="#4BAD4A" stroke="none" stroke-width="0"/>
<polygon points="1179.69,1487.49 1174.09,1497.19 1185.29,1497.19" fill="#4BAD4A" stroke="none" stroke-width="0"/>
<polygon points="1185.14,1479.89 1179.54,1489.59 1190.74,1489.59" fill="#4BAD4A" stroke="none" stroke-width="0"/>
<polygon points="1190.6,1472.72 1185,1482.42 1196.2,1482.42" fill="#4BAD4A" stroke="none" stroke-width="0"/>
<polygon points="1196.06,1465.9 1190.46,1475.6 1201.66,1475.6" fill="#4BAD4A" stroke="none" stroke-width="0"/>
<polygon points="1201.51,1459.36 1195.91,1469.06 1207.11,1469.06" fill="#4BAD4A" stroke="none" stroke-width="0"/>
<polygon points="1206.97,1453.21 1201.37,1462.91 1212.57,1462.91" fill="#4BAD4A" stroke="none" stroke-width="0"/>
<polygon points="1212.42,1447.56 1206.82,1457.26 1218.02,1457.26" fill="#4BAD4A" stroke="none" stroke-width="0"/>
<polygon points="1217.88,1442.36 1212.28,1452.06 1223.48,1452.06" fill="#4BAD4A" stroke="none" stroke-width="0"/>
<polygon points="1223.34,1437.54 1217.74,1447.24 1228.94,1447.24" fill="#4BAD4A" stroke="none" stroke-width="0"/>
<polygon points="1228.79,1433.09 1223.19,1442.79 1234.39,1442.79" fill="#4BAD4A" stroke="none" stroke-width="0"/>
<polygon points="1234.25,1429 1228.65,1438.7 1239.85,1438.7" fill="#4BAD4A" stroke="none" stroke-width="0"/>
<polygon points="1239.7,1425.18 1234.1,1434.88 1245.3,1434.88" fill="#4BAD4A" stroke="none" stroke-width="0"/>
<polygon points="1245.16,1421.67 1239.56,1431.37 1250.76,1431.37" fill="#4BAD4A" stroke="none" stroke-width="0"/>
<polygon points="1250.62,1418.48 1245.02,1428.18 1256.22,1428.18" fill="#4BAD4A" stroke="none" stroke-width="0"/>
<polygon points="1256.07,1415.56 1250.47,1425.26 1261.67,1425.26" fill="#4BAD4A" stroke="none" stroke-width="0"/>
<polygon points="1261.53,1413.06 1255.93,1422.76 1267.13,1422.76" fill="#4BAD4A" stroke="none" stroke-width="0"/>
<polygon points="1266.98,1410.98 1261.38,1420.68 1272.58,1420.68" fill="#4BAD4A" stroke="none" stroke-width="0"/>
<polygon points="1272.44,1409.29 1266.84,1418.99 1278.04,1418.99" fill="#4BAD4A" stroke="none" stroke-width="0"/>
<polygon points="1272.44,1408.03 1266.84,1417.73 1278.04,1417.73" fill="#4BAD4A" stroke="none" stroke-width="0"/>
<polygon points="1266.98,1407.14 1261.38,1416.84 1272.58,1416.84" fill="#4BAD4A" stroke="none" stroke-width="0"/>
<polygon points="1261.53,1406.77 1255.93,1416.47 1267.13,1416.47" fill="#4BAD4A" stroke="none" stroke-width="0"/>
<polygon points="1256.07,1406.97 1250.47,1416.67 1261.67,1416.67" fill="#4BAD4A" stroke="none" stroke-width="0"/>
<polygon points="1250.62,1407.46 1245.02,1417.16 1256.22,1417.16" fill="#4BAD4A" stroke="none" stroke-width="0"/>
<polygon points="1245.16,1408.14 1239.56,1417.84 1250.76,1417.84" fill="#4BAD4A" stroke="none" stroke-width="0"/>
<polygon points="1239.7,1408.89 1234.1,1418.59 1245.3,1418.59" fill="#4BAD4A" stroke="none" stroke-width="0"/>
<polygon points="1234.25,1409.68 1228.65,1419.38 1239.85,1419.38" fill="#4BAD4A" stroke="none" stroke-width="0"/>
<polygon points="1228.79,1410.68 1223.19,1420.38 1234.39,1420.38" fill="#4BAD4A" stroke="none" stroke-width="0"/>
<polygon points="1223.34,1411.85 1217.74,1421.55 1228.94,1421.55" fill="#4BAD4A" stroke="none" stroke-width="0"/>
<polygon points="1217.88,1413.08 1212.28,1422.78 1223.48,1422.78" fill="#4BAD4A" stroke="none" stroke-width="0"/>
<polygon points="1212.42,1414.25 1206.82,1423.95 1218.02,1423.95" fill="#4BAD4A" stroke="none" stroke-width="0"/>
<polygon points="1206.97,1415.33 1201.37,1425.03 1212.57,1425.03" fill="#4BAD4A" stroke="none" stroke-width="0"/>
<polygon points="1201.51,1416.4 1195.91,1426.1 1207.11,1426.1" fill="#4BAD4A" stroke="none" stroke-width="0"/>
<polygon points="1196.06,1417.47 1190.46,1427.17 1201.66,1427.17" fill="#4BAD4A" stroke="none" stroke-width="0"/>
<polygon points="1190.6,1418.54 1185,1428.24 1196.2,1428.24" fill="#4BAD4A" stroke="none" stroke-width="0"/>
<polygon points="1185.14,1419.63 1179.54,1429.33 1190.74,1429.33" fill="#4BAD4A" stroke="none" stroke-width="0"/>
<polygon points="1179.69,1420.67 1174.09,1430.37 1185.29,1430.37" fill="#4BAD4A" stroke="none" stroke-width="0"/>
<polygon points="1174.23,1421.72 1168.63,1431.42 1179.83,1431.42" fill="#4BAD4A" stroke="none" stroke-width="0"/>
<polygon points="1168.78,1422.82 1163.18,1432.52 1174.38,1432.52" fill="#4BAD4A" stroke="none" stroke-width="0"/>
<polygon points="1163.32,1424.04 1157.72,1433.74 1168.92,1433.74" fill="#4BAD4A" stroke="none" stroke-width="0"/>
<polygon points="1157.86,1425.41 1152.26,1435.11 1163.46,1435.11" fill="#4BAD4A" stroke="none" stroke-width="0"/>
<polygon points="1152.41,1426.94 1146.81,1436.64 1158.01,1436.64" fill="#4BAD4A" stroke="none" stroke-width="0"/>
<polygon points="1146.95,1428.61 1141.35,1438.31 1152.55,1438.31" fill="#4BAD4A" stroke="none" stroke-width="0"/>
<polygon points="1141.5,1430.37 1135.9,1440.07 1147.1,1440.07" fill="#4BAD4A" stroke="none" stroke-width="0"/>
<polygon points="1136.04,1432.23 1130.44,1441.93 1141.64,1441.93" fill="#4BAD4A" stroke="none" stroke-width="0"/>
<polygon points="1130.58,1434.17 1124.98,1443.87 1136.18,1443.87" fill="#4BAD4A" stroke="none" stroke-width="0"/>
<polygon points="1125.13,1436.24 1119.53,1445.94 1130.73,1445.94" fill="#4BAD4A" stroke="none" stroke-width="0"/>
<polygon points="1119.67,1438.48 1114.07,1448.18 1125.27,1448.18" fill="#4BAD4A" stroke="none" stroke-width="0"/>
<polygon points="1114.22,1440.92 1108.62,1450.62 1119.82,1450.62" fill="#4BAD4A" stroke="none" stroke-width="0"/>
<polygon points="1108.76,1443.61 1103.16,1453.31 1114.36,1453.31" fill="#4BAD4A" stroke="none" stroke-width="0"/>
<polygon points="1103.3,1446.58 1097.7,1456.28 1108.9,1456.28" fill="#4BAD4A" stroke="none" stroke-width="0"/>
<polygon points="1097.85,1449.86 1092.25,1459.56 1103.45,1459.56" fill="#4BAD4A" stroke="none" stroke-width="0"/>
<polygon points="1092.39,1453.45 1086.79,1463.15 1097.99,1463.15" fill="#4BAD4A" stroke="none" stroke-width="0"/>
<polygon points="1086.94,1457.39 1081.34,1467.09 1092.54,1467.09" fill="#4BAD4A" stroke="none" stroke-width="0"/>
<polygon points="1081.48,1462.25 1075.88,1471.95 1087.08,1471.95" fill="#4BAD4A" stroke="none" stroke-width="0"/>
<polygon points="1076.02,1467.81 1070.42,1477.51 1081.62,1477.51" fill="#4BAD4A" stroke="none" stroke-width="0"/>
<polygon points="1070.57,1473.45 1064.97,1483.15 1076.17,1483.15" fill="#4BAD4A" stroke="none" stroke-width="0"/>
<polygon points="1065.11,1478.53 1059.51,1488.23 1070.71,1488.23" fill="#4BAD4A" stroke="none" stroke-width="0"/>
<polygon points="1059.66,1482.51 1054.06,1492.21 1065.26,1492.21" fill="#4BAD4A" stroke="none" stroke-width="0"/>
<polygon points="1054.2,1485.97 1048.6,1495.67 1059.8,1495.67" fill="#4BAD4A" stroke="none" stroke-width="0"/>
<polygon points="1048.74,1489.6 1043.14,1499.3 1054.34,1499.3" fill="#4BAD4A" stroke="none" stroke-width="0"/>
<polygon points="1043.29,1493.23 1037.69,1502.93 1048.89,1502.93" fill="#4BAD4A" stroke="none" stroke-width="0"/>
<polygon points="1037.83,1497.02 1032.23,1506.72 1043.43,1506.72" fill="#4BAD4A" stroke="none" stroke-width="0"/>
<polygon points="1032.38,1501.16 1026.78,1510.86 1037.98,1510.86" fill="#4BAD4A" stroke="none" stroke-width="0"/>
<polygon points="1026.92,1505.76 1021.32,1515.46 1032.52,1515.46" fill="#4BAD4A" stroke="none" stroke-width="0"/>
<polygon points="1021.46,1510.86 1015.86,1520.56 1027.06,1520.56" fill="#4BAD4A" stroke="none" stroke-width="0"/>
<polygon points="1016.01,1516.65 1010.41,1526.35 1021.61,1526.35" fill="#4BAD4A" stroke="none" stroke-width="0"/>
<polygon points="1010.55,1523.47 1004.95,1533.17 1016.15,1533.17" fill="#4BAD4A" stroke="none" stroke-width="0"/>
<polygon points="1005.1,1532.19 999.5,1541.89 1010.7,1541.89" fill="#4BAD4A" stroke="none" stroke-width="0"/>
<polygon points="999.64,1541.68 994.04,1551.38 1005.24,1551.38" fill="#4BAD4A" stroke="none" stroke-width="0"/>
<polygon points="994.18,1550.47 988.58,1560.17 999.78,1560.17" fill="#4BAD4A" stroke="none" stroke-width="0"/>
<polygon points="988.73,1558.18 983.13,1567.88 994.33,1567.88" fill="#4BAD4A" stroke="none" stroke-width="0"/>
<polygon points="983.27,1565.72 977.67,1575.42 988.87,1575.42" fill="#4BAD4A" stroke="none" stroke-width="0"/>
<polygon points="977.82,1573.97 972.22,1583.67 983.42,1583.67" fill="#4BAD4A" stroke="none" stroke-width="0"/>
<polygon points="972.36,1583.53 966.76,1593.23 977.96,1593.23" fill="#4BAD4A" stroke="none" stroke-width="0"/>
<polygon points="966.9,1594.09 961.3,1603.79 972.5,1603.79" fill="#4BAD4A" stroke="none" stroke-width="0"/>
<polygon points="966.9,1594.09 961.3,1603.79 972.5,1603.79" fill="#4BAD4A" stroke="none" stroke-width="0"/>
<polygon points="961.45,1587.46 955.85,1597.16 967.05,1597.16" fill="#4BAD4A" stroke="none" stroke-width="0"/>
<polygon points="955.99,1580.26 950.39,1589.96 961.59,1589.96" fill="#4BAD4A" stroke="none" stroke-width="0"/>
<polygon points="950.54,1572.59 944.94,1582.29 956.14,1582.29" fill="#4BAD4A" stroke="none" stroke-width="0"/>
<polygon points="945.08,1564.3 939.48,1574 950.68,1574" fill="#4BAD4A" stroke="none" stroke-width="0"/>
<polygon points="939.62,1554.9 934.02,1564.6 945.22,1564.6" fill="#4BAD4A" stroke="none" stroke-width="0"/>
<polygon points="934.17,1543.49 928.57,1553.19 939.77,1553.19" fill="#4BAD4A" stroke="none" stroke-width="0"/>
<polygon points="928.71,1531.78 923.11,1541.48 934.31,1541.48" fill="#4BAD4A" stroke="none" stroke-width="0"/>
<polygon points="923.26,1521.94 917.66,1531.64 928.86,1531.64" fill="#4BAD4A" stroke="none" stroke-width="0"/>
<polygon points="917.8,1513.95 912.2,1523.65 923.4,1523.65" fill="#4BAD4A" stroke="none" stroke-width="0"/>
<polygon points="912.34,1506.78 906.74,1516.48 917.94,1516.48" fill="#4BAD4A" stroke="none" stroke-width="0"/>
<polygon points="906.89,1499.8 901.29,1509.5 912.49,1509.5" fill="#4BAD4A" stroke="none" stroke-width="0"/>
<polygon points="901.43,1492.74 895.83,1502.44 907.03,1502.44" fill="#4BAD4A" stroke="none" stroke-width="0"/>
<polygon points="895.98,1485.78 890.38,1495.48 901.58,1495.48" fill="#4BAD4A" stroke="none" stroke-width="0"/>
<polygon points="890.52,1478.94 884.92,1488.64 896.12,1488.64" fill="#4BAD4A" stroke="none" stroke-width="0"/>
<polygon points="885.06,1472.26 879.46,1481.96 890.66,1481.96" fill="#4BAD4A" stroke="none" stroke-width="0"/>
<polygon points="879.61,1465.77 874.01,1475.47 885.21,1475.47" fill="#4BAD4A" stroke="none" stroke-width="0"/>
<polygon points="874.15,1459.5 868.55,1469.2 879.75,1469.2" fill="#4BAD4A" stroke="none" stroke-width="0"/>
<polygon points="868.7,1453.45 863.1,1463.15 874.3,1463.15" fill="#4BAD4A" stroke="none" stroke-width="0"/>
<polygon points="863.24,1447.56 857.64,1457.26 868.84,1457.26" fill="#4BAD4A" stroke="none" stroke-width="0"/>
<polygon points="857.78,1441.83 852.18,1451.53 863.38,1451.53" fill="#4BAD4A" stroke="none" stroke-width="0"/>
<polygon points="852.33,1436.26 846.73,1445.96 857.93,1445.96" fill="#4BAD4A" stroke="none" stroke-width="0"/>
<polygon points="846.87,1430.86 841.27,1440.56 852.47,1440.56" fill="#4BAD4A" stroke="none" stroke-width="0"/>
<polygon points="841.42,1425.63 835.82,1435.33 847.02,1435.33" fill="#4BAD4A" stroke="none" stroke-width="0"/>
<polygon points="835.96,1420.6 830.36,1430.3 841.56,1430.3" fill="#4BAD4A" stroke="none" stroke-width="0"/>
<rect x="781.4" y="1303.2" width="545.6" height="440" fill="none" stroke="#000" stroke-width="1.4"/>
<line x1="773.4" y1="1366.06" x2="781.4" y2="1366.06" stroke="#000" stroke-width="1.4"/>
<line x1="773.4" y1="1491.77" x2="781.4" y2="1491.77" stroke="#000" stroke-width="1.4"/>
<line x1="773.4" y1="1617.49" x2="781.4" y2="1617.49" stroke="#000" stroke-width="1.4"/>
<line x1="773.4" y1="1743.2" x2="781.4" y2="1743.2" stroke="#000" stroke-width="1.4"/>
<line x1="776.9" y1="1303.2" x2="781.4" y2="1303.2" stroke="#000" stroke-width="1.4"/>
<line x1="776.9" y1="1428.91" x2="781.4" y2="1428.91" stroke="#000" stroke-width="1.4"/>
<line x1="776.9" y1="1554.63" x2="781.4" y2="1554.63" stroke="#000" stroke-width="1.4"/>
<line x1="776.9" y1="1680.34" x2="781.4" y2="1680.34" stroke="#000" stroke-width="1.4"/>
<line x1="835.96" y1="1743.2" x2="835.96" y2="1751.2" stroke="#000" stroke-width="1.4"/>
<line x1="945.08" y1="1743.2" x2="945.08" y2="1751.2" stroke="#000" stroke-width="1.4"/>
<line x1="1054.2" y1="1743.2" x2="1054.2" y2="1751.2" stroke="#000" stroke-width="1.4"/>
<line x1="1163.32" y1="1743.2" x2="1163.32" y2="1751.2" stroke="#000" stroke-width="1.4"/>
<line x1="1272.44" y1="1743.2" x2="1272.44" y2="1751.2" stroke="#000" stroke-width="1.4"/>
<line x1="781.4" y1="1743.2" x2="781.4" y2="1747.7" stroke="#000" stroke-width="1.4"/>
<line x1="890.52" y1="1743.2" x2="890.52" y2="1747.7" stroke="#000" stroke-width="1.4"/>
<line x1="999.64" y1="1743.2" x2="999.64" y2="1747.7" stroke="#000" stroke-width="1.4"/>
<line x1="1108.76" y1="1743.2" x2="1108.76" y2="1747.7" stroke="#000" stroke-width="1.4"/>
<line x1="1217.88" y1="1743.2" x2="1217.88" y2="1747.7" stroke="#000" stroke-width="1.4"/>
<line x1="1327" y1="1743.2" x2="1327" y2="1747.7" stroke="#000" stroke-width="1.4"/>
<text x="765.8" y="1376.26" font-size="29" text-anchor="end">0.1</text>
<text x="765.8" y="1501.97" font-size="29" text-anchor="end">0.0</text>
<text x="765.8" y="1627.69" font-size="29" text-anchor="end">-0.1</text>
<text x="765.8" y="1753.4" font-size="29" text-anchor="end">-0.2</text>
<text x="835.96" y="1780.3" font-size="28" text-anchor="middle">-2</text>
<text x="945.08" y="1780.3" font-size="28" text-anchor="middle">-1</text>
<text x="1054.2" y="1780.3" font-size="28" text-anchor="middle">0</text>
<text x="1163.32" y="1780.3" font-size="28" text-anchor="middle">1</text>
<text x="1272.44" y="1780.3" font-size="28" text-anchor="middle">2</text>
<text x="1057.2" y="1839.8" font-size="38" text-anchor="middle"><tspan font-style="italic">E</tspan> (kV mm<tspan font-size="25" dy="-16">&#8211;1</tspan><tspan dy="16" dx="5">)</tspan></text>
<text x="707.8" y="1513" font-size="37" text-anchor="middle" transform="rotate(-90 707.8 1513)"><tspan font-style="italic">S</tspan> (%)</text>
<text x="1215.4" y="1343" font-size="43.5" textLength="102.3" lengthAdjust="spacingAndGlyphs">{200}</text>
<text x="1224.2" y="1640.5" font-size="31" font-weight="bold" fill="#E41A1C" textLength="83.3" lengthAdjust="spacingAndGlyphs">0.002</text>
<text x="1224.2" y="1683.5" font-size="31" font-weight="bold" fill="#3579BE" textLength="83.3" lengthAdjust="spacingAndGlyphs">0.006</text>
<text x="1224.2" y="1726.5" font-size="31" font-weight="bold" fill="#4BAD4A" textLength="83.3" lengthAdjust="spacingAndGlyphs">0.008</text>
<text x="700.5" y="1296.2" font-size="58" font-weight="bold">e</text>
<polyline points="1500.81,1384.51 1501.9,1384.87 1503,1385.24 1504.09,1385.6 1505.18,1385.97 1506.27,1386.34 1507.37,1386.7 1508.46,1387.07 1509.55,1387.45 1510.65,1387.82 1511.74,1388.2 1512.83,1388.57 1513.93,1388.95 1515.02,1389.33 1516.11,1389.71 1517.2,1390.09 1518.3,1390.48 1519.39,1390.86 1520.48,1391.25 1521.58,1391.63 1522.67,1392.02 1523.76,1392.41 1524.85,1392.81 1525.95,1393.2 1527.04,1393.59 1528.13,1393.99 1529.23,1394.39 1530.32,1394.78 1531.41,1395.18 1532.51,1395.59 1533.6,1395.99 1534.69,1396.39 1535.78,1396.8 1536.88,1397.2 1537.97,1397.61 1539.06,1398.02 1540.16,1398.43 1541.25,1398.84 1542.34,1399.25 1543.43,1399.67 1544.53,1400.08 1545.62,1400.5 1546.71,1400.92 1547.81,1401.33 1548.9,1401.75 1549.99,1402.18 1551.08,1402.6 1552.18,1403.02 1553.27,1403.44 1554.36,1403.86 1555.46,1404.28 1556.55,1404.7 1557.64,1405.12 1558.74,1405.54 1559.83,1405.96 1560.92,1406.38 1562.01,1406.8 1563.11,1407.22 1564.2,1407.65 1565.29,1408.07 1566.39,1408.5 1567.48,1408.93 1568.57,1409.36 1569.66,1409.79 1570.76,1410.23 1571.85,1410.66 1572.94,1411.1 1574.04,1411.54 1575.13,1411.99 1576.22,1412.43 1577.32,1412.88 1578.41,1413.34 1579.5,1413.79 1580.59,1414.25 1581.69,1414.72 1582.78,1415.18 1583.87,1415.65 1584.97,1416.13 1586.06,1416.61 1587.15,1417.09 1588.24,1417.58 1589.34,1418.08 1590.43,1418.57 1591.52,1419.08 1592.62,1419.59 1593.71,1420.1 1594.8,1420.62 1595.9,1421.14 1596.99,1421.68 1598.08,1422.21 1599.17,1422.76 1600.27,1423.31 1601.36,1423.86 1602.45,1424.43 1603.55,1425 1604.64,1425.57 1605.73,1426.15 1606.82,1426.74 1607.92,1427.34 1609.01,1427.94 1610.1,1428.54 1611.2,1429.15 1612.29,1429.77 1613.38,1430.39 1614.47,1431.02 1615.57,1431.66 1616.66,1432.3 1617.75,1432.94 1618.85,1433.59 1619.94,1434.25 1621.03,1434.91 1622.13,1435.58 1623.22,1436.25 1624.31,1436.92 1625.4,1437.6 1626.5,1438.29 1627.59,1438.98 1628.68,1439.67 1629.78,1440.37 1630.87,1441.08 1631.96,1441.78 1633.05,1442.5 1634.15,1443.21 1635.24,1443.93 1636.33,1444.66 1637.43,1445.39 1638.52,1446.12 1639.61,1446.86 1640.71,1447.6 1641.8,1448.34 1642.89,1449.09 1643.98,1449.84 1645.08,1450.6 1646.17,1451.36 1647.26,1452.12 1648.36,1452.9 1649.45,1453.68 1650.54,1454.47 1651.63,1455.27 1652.73,1456.08 1653.82,1456.89 1654.91,1457.71 1656.01,1458.54 1657.1,1459.38 1658.19,1460.22 1659.29,1461.07 1660.38,1461.92 1661.47,1462.79 1662.56,1463.66 1663.66,1464.54 1664.75,1465.42 1665.84,1466.31 1666.94,1467.21 1668.03,1468.11 1669.12,1469.02 1670.21,1469.94 1671.31,1470.86 1672.4,1471.79 1673.49,1472.73 1674.59,1473.67 1675.68,1474.62 1676.77,1475.58 1677.87,1476.54 1678.96,1477.5 1680.05,1478.48 1681.14,1479.46 1682.24,1480.44 1683.33,1481.43 1684.42,1482.42 1685.52,1483.42 1686.61,1484.42 1687.7,1485.43 1688.79,1486.45 1689.89,1487.48 1690.98,1488.51 1692.07,1489.54 1693.17,1490.59 1694.26,1491.64 1695.35,1492.71 1696.44,1493.78 1697.54,1494.85 1698.63,1495.94 1699.72,1497.04 1700.82,1498.15 1701.91,1499.26 1703,1500.39 1704.1,1501.53 1705.19,1502.68 1706.28,1503.84 1707.37,1505.01 1708.47,1506.2 1709.56,1507.39 1710.65,1508.6 1711.75,1509.82 1712.84,1511.06 1713.93,1512.31 1715.02,1513.57 1716.12,1514.85 1717.21,1516.14 1718.3,1517.44 1719.4,1518.76 1720.49,1520.12 1721.58,1521.51 1722.68,1522.93 1723.77,1524.39 1724.86,1525.87 1725.95,1527.37 1727.05,1528.9 1728.14,1530.46 1729.23,1532.03 1730.33,1533.62 1731.42,1535.22 1732.51,1536.84 1733.6,1538.47 1734.7,1540.11 1735.79,1541.75 1736.88,1543.4 1737.98,1545.06 1739.07,1546.71 1740.16,1548.37 1741.26,1550.02 1742.35,1551.67 1743.44,1553.33 1744.53,1554.99 1745.63,1556.67 1746.72,1558.35 1747.81,1560.06 1748.91,1561.78 1750,1563.52 1751.09,1565.28 1752.18,1567.07 1753.28,1568.89 1754.37,1570.74 1755.46,1572.62 1756.56,1574.54 1757.65,1576.5 1758.74,1578.51 1759.83,1580.59 1760.93,1582.77 1762.02,1585.04 1763.11,1587.39 1764.21,1589.79 1765.3,1592.24 1766.39,1594.72 1767.49,1597.2 1768.58,1599.68 1769.67,1602.15 1770.76,1604.57 1771.86,1606.94 1772.95,1609.24 1774.04,1611.46 1775.14,1613.64 1776.23,1615.88 1777.32,1618.16 1778.41,1620.46 1779.51,1622.73 1780.6,1624.96 1781.69,1627.1 1782.79,1629.12 1783.88,1630.99 1784.97,1632.68 1786.07,1634.16 1787.16,1635.39 1788.25,1636.47 1789.34,1637.51 1790.44,1638.25 1791.53,1638.45 1792.62,1637.14 1793.72,1634.29 1794.81,1630.47 1795.9,1626.21 1796.99,1622.07 1798.09,1618.33 1799.18,1614.42 1800.27,1610.31 1801.37,1606.01 1802.46,1601.54 1803.55,1596.91 1804.65,1592.06 1805.74,1586.88 1806.83,1581.45 1807.92,1575.88 1809.02,1570.28 1810.11,1564.74 1811.2,1559.23 1812.3,1553.49 1813.39,1547.75 1814.48,1542.29 1815.57,1537.39 1816.67,1533.11 1817.76,1529.11 1818.85,1525.35 1819.95,1521.8 1821.04,1518.44 1822.13,1515.26 1823.23,1512.23 1824.32,1509.34 1825.41,1506.6 1826.5,1504 1827.6,1501.51 1828.69,1499.12 1829.78,1496.81 1830.88,1494.55 1831.97,1492.34 1833.06,1490.14 1834.15,1487.94 1835.25,1485.72 1836.34,1483.49 1837.43,1481.26 1838.53,1479.05 1839.62,1476.87 1840.71,1474.74 1841.8,1472.66 1842.9,1470.64 1843.99,1468.71 1845.08,1466.88 1846.18,1465.15 1847.27,1463.53 1848.36,1461.95 1849.46,1460.42 1850.55,1458.94 1851.64,1457.5 1852.73,1456.1 1853.83,1454.74 1854.92,1453.41 1856.01,1452.11 1857.11,1450.84 1858.2,1449.6 1859.29,1448.39 1860.38,1447.19 1861.48,1446.02 1862.57,1444.86 1863.66,1443.72 1864.76,1442.58 1865.85,1441.47 1866.94,1440.37 1868.04,1439.28 1869.13,1438.21 1870.22,1437.15 1871.31,1436.11 1872.41,1435.08 1873.5,1434.07 1874.59,1433.07 1875.69,1432.09 1876.78,1431.12 1877.87,1430.16 1878.96,1429.22 1880.06,1428.29 1881.15,1427.38 1882.24,1426.48 1883.34,1425.59 1884.43,1424.72 1885.52,1423.86 1886.62,1423.02 1887.71,1422.19 1888.8,1421.37 1889.89,1420.59 1890.99,1419.83 1892.08,1419.09 1893.17,1418.37 1894.27,1417.67 1895.36,1416.98 1896.45,1416.31 1897.54,1415.64 1898.64,1414.98 1899.73,1414.32 1900.82,1413.66 1901.92,1413 1903.01,1412.33 1904.1,1411.66 1905.19,1410.97 1906.29,1410.27 1907.38,1409.56 1908.47,1408.82 1909.57,1408.07 1910.66,1407.29 1911.75,1406.48 1912.85,1405.66 1913.94,1404.82 1915.03,1403.97 1916.12,1403.11 1917.22,1402.23 1918.31,1401.35 1919.4,1400.45 1920.5,1399.53 1921.59,1398.61 1922.68,1397.67 1923.77,1396.73 1924.87,1395.77 1925.96,1394.8 1927.05,1393.82 1928.15,1392.82 1929.24,1391.82 1930.33,1390.81 1931.43,1389.78 1932.52,1388.75 1933.61,1387.71 1934.7,1386.65 1935.8,1385.59 1936.89,1384.51 1936.89,1384.51 1935.8,1384.87 1934.7,1385.24 1933.61,1385.6 1932.52,1385.97 1931.43,1386.34 1930.33,1386.7 1929.24,1387.07 1928.15,1387.45 1927.05,1387.82 1925.96,1388.2 1924.87,1388.57 1923.77,1388.95 1922.68,1389.33 1921.59,1389.71 1920.5,1390.09 1919.4,1390.48 1918.31,1390.86 1917.22,1391.25 1916.12,1391.63 1915.03,1392.02 1913.94,1392.41 1912.85,1392.81 1911.75,1393.2 1910.66,1393.59 1909.57,1393.99 1908.47,1394.39 1907.38,1394.78 1906.29,1395.18 1905.19,1395.59 1904.1,1395.99 1903.01,1396.39 1901.92,1396.8 1900.82,1397.2 1899.73,1397.61 1898.64,1398.02 1897.54,1398.43 1896.45,1398.84 1895.36,1399.25 1894.27,1399.67 1893.17,1400.08 1892.08,1400.5 1890.99,1400.92 1889.89,1401.33 1888.8,1401.75 1887.71,1402.18 1886.62,1402.6 1885.52,1403.02 1884.43,1403.44 1883.34,1403.86 1882.24,1404.28 1881.15,1404.7 1880.06,1405.12 1878.96,1405.54 1877.87,1405.96 1876.78,1406.38 1875.69,1406.8 1874.59,1407.22 1873.5,1407.65 1872.41,1408.07 1871.31,1408.5 1870.22,1408.93 1869.13,1409.36 1868.04,1409.79 1866.94,1410.23 1865.85,1410.66 1864.76,1411.1 1863.66,1411.54 1862.57,1411.99 1861.48,1412.43 1860.38,1412.88 1859.29,1413.34 1858.2,1413.79 1857.11,1414.25 1856.01,1414.72 1854.92,1415.18 1853.83,1415.65 1852.73,1416.13 1851.64,1416.61 1850.55,1417.09 1849.46,1417.58 1848.36,1418.08 1847.27,1418.57 1846.18,1419.08 1845.08,1419.59 1843.99,1420.1 1842.9,1420.62 1841.8,1421.14 1840.71,1421.68 1839.62,1422.21 1838.53,1422.76 1837.43,1423.31 1836.34,1423.86 1835.25,1424.43 1834.15,1425 1833.06,1425.57 1831.97,1426.15 1830.88,1426.74 1829.78,1427.34 1828.69,1427.94 1827.6,1428.54 1826.5,1429.15 1825.41,1429.77 1824.32,1430.39 1823.23,1431.02 1822.13,1431.66 1821.04,1432.3 1819.95,1432.94 1818.85,1433.59 1817.76,1434.25 1816.67,1434.91 1815.57,1435.58 1814.48,1436.25 1813.39,1436.92 1812.3,1437.6 1811.2,1438.29 1810.11,1438.98 1809.02,1439.67 1807.92,1440.37 1806.83,1441.08 1805.74,1441.78 1804.65,1442.5 1803.55,1443.21 1802.46,1443.93 1801.37,1444.66 1800.27,1445.39 1799.18,1446.12 1798.09,1446.86 1796.99,1447.6 1795.9,1448.34 1794.81,1449.09 1793.72,1449.84 1792.62,1450.6 1791.53,1451.36 1790.44,1452.12 1789.34,1452.9 1788.25,1453.68 1787.16,1454.47 1786.07,1455.27 1784.97,1456.08 1783.88,1456.89 1782.79,1457.71 1781.69,1458.54 1780.6,1459.38 1779.51,1460.22 1778.41,1461.07 1777.32,1461.92 1776.23,1462.79 1775.14,1463.66 1774.04,1464.54 1772.95,1465.42 1771.86,1466.31 1770.76,1467.21 1769.67,1468.11 1768.58,1469.02 1767.49,1469.94 1766.39,1470.86 1765.3,1471.79 1764.21,1472.73 1763.11,1473.67 1762.02,1474.62 1760.93,1475.58 1759.83,1476.54 1758.74,1477.5 1757.65,1478.48 1756.56,1479.46 1755.46,1480.44 1754.37,1481.43 1753.28,1482.42 1752.18,1483.42 1751.09,1484.42 1750,1485.43 1748.91,1486.45 1747.81,1487.48 1746.72,1488.51 1745.63,1489.54 1744.53,1490.59 1743.44,1491.64 1742.35,1492.71 1741.26,1493.78 1740.16,1494.85 1739.07,1495.94 1737.98,1497.04 1736.88,1498.15 1735.79,1499.26 1734.7,1500.39 1733.6,1501.53 1732.51,1502.68 1731.42,1503.84 1730.33,1505.01 1729.23,1506.2 1728.14,1507.39 1727.05,1508.6 1725.95,1509.82 1724.86,1511.06 1723.77,1512.31 1722.68,1513.57 1721.58,1514.85 1720.49,1516.14 1719.4,1517.44 1718.3,1518.76 1717.21,1520.12 1716.12,1521.51 1715.02,1522.93 1713.93,1524.39 1712.84,1525.87 1711.75,1527.37 1710.65,1528.9 1709.56,1530.46 1708.47,1532.03 1707.37,1533.62 1706.28,1535.22 1705.19,1536.84 1704.1,1538.47 1703,1540.11 1701.91,1541.75 1700.82,1543.4 1699.72,1545.06 1698.63,1546.71 1697.54,1548.37 1696.44,1550.02 1695.35,1551.67 1694.26,1553.33 1693.17,1554.99 1692.07,1556.67 1690.98,1558.35 1689.89,1560.06 1688.79,1561.78 1687.7,1563.52 1686.61,1565.28 1685.52,1567.07 1684.42,1568.89 1683.33,1570.74 1682.24,1572.62 1681.14,1574.54 1680.05,1576.5 1678.96,1578.51 1677.87,1580.59 1676.77,1582.77 1675.68,1585.04 1674.59,1587.39 1673.49,1589.79 1672.4,1592.24 1671.31,1594.72 1670.21,1597.2 1669.12,1599.68 1668.03,1602.15 1666.94,1604.57 1665.84,1606.94 1664.75,1609.24 1663.66,1611.46 1662.56,1613.64 1661.47,1615.88 1660.38,1618.16 1659.29,1620.46 1658.19,1622.73 1657.1,1624.96 1656.01,1627.1 1654.91,1629.12 1653.82,1630.99 1652.73,1632.68 1651.63,1634.16 1650.54,1635.39 1649.45,1636.47 1648.36,1637.51 1647.26,1638.25 1646.17,1638.45 1645.08,1637.14 1643.98,1634.29 1642.89,1630.47 1641.8,1626.21 1640.71,1622.07 1639.61,1618.33 1638.52,1614.42 1637.43,1610.31 1636.33,1606.01 1635.24,1601.54 1634.15,1596.91 1633.05,1592.06 1631.96,1586.88 1630.87,1581.45 1629.78,1575.88 1628.68,1570.28 1627.59,1564.74 1626.5,1559.23 1625.4,1553.49 1624.31,1547.75 1623.22,1542.29 1622.13,1537.39 1621.03,1533.11 1619.94,1529.11 1618.85,1525.35 1617.75,1521.8 1616.66,1518.44 1615.57,1515.26 1614.47,1512.23 1613.38,1509.34 1612.29,1506.6 1611.2,1504 1610.1,1501.51 1609.01,1499.12 1607.92,1496.81 1606.82,1494.55 1605.73,1492.34 1604.64,1490.14 1603.55,1487.94 1602.45,1485.72 1601.36,1483.49 1600.27,1481.26 1599.17,1479.05 1598.08,1476.87 1596.99,1474.74 1595.9,1472.66 1594.8,1470.64 1593.71,1468.71 1592.62,1466.88 1591.52,1465.15 1590.43,1463.53 1589.34,1461.95 1588.24,1460.42 1587.15,1458.94 1586.06,1457.5 1584.97,1456.1 1583.87,1454.74 1582.78,1453.41 1581.69,1452.11 1580.59,1450.84 1579.5,1449.6 1578.41,1448.39 1577.32,1447.19 1576.22,1446.02 1575.13,1444.86 1574.04,1443.72 1572.94,1442.58 1571.85,1441.47 1570.76,1440.37 1569.66,1439.28 1568.57,1438.21 1567.48,1437.15 1566.39,1436.11 1565.29,1435.08 1564.2,1434.07 1563.11,1433.07 1562.01,1432.09 1560.92,1431.12 1559.83,1430.16 1558.74,1429.22 1557.64,1428.29 1556.55,1427.38 1555.46,1426.48 1554.36,1425.59 1553.27,1424.72 1552.18,1423.86 1551.08,1423.02 1549.99,1422.19 1548.9,1421.37 1547.81,1420.59 1546.71,1419.83 1545.62,1419.09 1544.53,1418.37 1543.43,1417.67 1542.34,1416.98 1541.25,1416.31 1540.16,1415.64 1539.06,1414.98 1537.97,1414.32 1536.88,1413.66 1535.78,1413 1534.69,1412.33 1533.6,1411.66 1532.51,1410.97 1531.41,1410.27 1530.32,1409.56 1529.23,1408.82 1528.13,1408.07 1527.04,1407.29 1525.95,1406.48 1524.85,1405.66 1523.76,1404.82 1522.67,1403.97 1521.58,1403.11 1520.48,1402.23 1519.39,1401.35 1518.3,1400.45 1517.2,1399.53 1516.11,1398.61 1515.02,1397.67 1513.93,1396.73 1512.83,1395.77 1511.74,1394.8 1510.65,1393.82 1509.55,1392.82 1508.46,1391.82 1507.37,1390.81 1506.27,1389.78 1505.18,1388.75 1504.09,1387.71 1503,1386.65 1501.9,1385.59 1500.81,1384.51" fill="none" stroke="#E41A1C" stroke-width="5.3" stroke-linejoin="round" stroke-linecap="round"/>
<polyline points="1500.81,1374.24 1501.9,1374.62 1503,1375 1504.09,1375.38 1505.18,1375.76 1506.27,1376.15 1507.37,1376.53 1508.46,1376.92 1509.55,1377.31 1510.65,1377.7 1511.74,1378.09 1512.83,1378.48 1513.93,1378.87 1515.02,1379.27 1516.11,1379.66 1517.2,1380.06 1518.3,1380.46 1519.39,1380.86 1520.48,1381.26 1521.58,1381.66 1522.67,1382.06 1523.76,1382.46 1524.85,1382.87 1525.95,1383.27 1527.04,1383.68 1528.13,1384.09 1529.23,1384.5 1530.32,1384.91 1531.41,1385.32 1532.51,1385.73 1533.6,1386.15 1534.69,1386.56 1535.78,1386.98 1536.88,1387.4 1537.97,1387.82 1539.06,1388.23 1540.16,1388.66 1541.25,1389.08 1542.34,1389.5 1543.43,1389.92 1544.53,1390.35 1545.62,1390.77 1546.71,1391.2 1547.81,1391.63 1548.9,1392.06 1549.99,1392.49 1551.08,1392.92 1552.18,1393.35 1553.27,1393.77 1554.36,1394.2 1555.46,1394.63 1556.55,1395.05 1557.64,1395.48 1558.74,1395.91 1559.83,1396.33 1560.92,1396.76 1562.01,1397.18 1563.11,1397.61 1564.2,1398.04 1565.29,1398.47 1566.39,1398.9 1567.48,1399.33 1568.57,1399.77 1569.66,1400.2 1570.76,1400.64 1571.85,1401.08 1572.94,1401.52 1574.04,1401.96 1575.13,1402.41 1576.22,1402.86 1577.32,1403.31 1578.41,1403.76 1579.5,1404.22 1580.59,1404.68 1581.69,1405.15 1582.78,1405.62 1583.87,1406.09 1584.97,1406.57 1586.06,1407.05 1587.15,1407.53 1588.24,1408.02 1589.34,1408.52 1590.43,1409.02 1591.52,1409.52 1592.62,1410.03 1593.71,1410.55 1594.8,1411.07 1595.9,1411.6 1596.99,1412.13 1598.08,1412.67 1599.17,1413.22 1600.27,1413.77 1601.36,1414.33 1602.45,1414.89 1603.55,1415.46 1604.64,1416.04 1605.73,1416.62 1606.82,1417.21 1607.92,1417.81 1609.01,1418.41 1610.1,1419.01 1611.2,1419.63 1612.29,1420.24 1613.38,1420.87 1614.47,1421.5 1615.57,1422.13 1616.66,1422.77 1617.75,1423.41 1618.85,1424.06 1619.94,1424.72 1621.03,1425.38 1622.13,1426.05 1623.22,1426.72 1624.31,1427.39 1625.4,1428.07 1626.5,1428.76 1627.59,1429.45 1628.68,1430.14 1629.78,1430.84 1630.87,1431.54 1631.96,1432.25 1633.05,1432.96 1634.15,1433.68 1635.24,1434.4 1636.33,1435.12 1637.43,1435.85 1638.52,1436.58 1639.61,1437.32 1640.71,1438.06 1641.8,1438.8 1642.89,1439.55 1643.98,1440.3 1645.08,1441.05 1646.17,1441.81 1647.26,1442.57 1648.36,1443.34 1649.45,1444.11 1650.54,1444.88 1651.63,1445.66 1652.73,1446.45 1653.82,1447.24 1654.91,1448.03 1656.01,1448.84 1657.1,1449.65 1658.19,1450.46 1659.29,1451.29 1660.38,1452.12 1661.47,1452.96 1662.56,1453.81 1663.66,1454.67 1664.75,1455.54 1665.84,1456.41 1666.94,1457.3 1668.03,1458.2 1669.12,1459.11 1670.21,1460.03 1671.31,1460.96 1672.4,1461.91 1673.49,1462.87 1674.59,1463.84 1675.68,1464.82 1676.77,1465.82 1677.87,1466.83 1678.96,1467.85 1680.05,1468.89 1681.14,1469.95 1682.24,1471.02 1683.33,1472.13 1684.42,1473.25 1685.52,1474.4 1686.61,1475.57 1687.7,1476.76 1688.79,1477.97 1689.89,1479.2 1690.98,1480.45 1692.07,1481.72 1693.17,1483.01 1694.26,1484.31 1695.35,1485.64 1696.44,1486.97 1697.54,1488.33 1698.63,1489.7 1699.72,1491.08 1700.82,1492.48 1701.91,1493.89 1703,1495.32 1704.1,1496.76 1705.19,1498.21 1706.28,1499.67 1707.37,1501.14 1708.47,1502.62 1709.56,1504.1 1710.65,1505.61 1711.75,1507.17 1712.84,1508.8 1713.93,1510.48 1715.02,1512.19 1716.12,1513.9 1717.21,1515.61 1718.3,1517.28 1719.4,1518.91 1720.49,1520.49 1721.58,1522.05 1722.68,1523.58 1723.77,1525.1 1724.86,1526.61 1725.95,1528.13 1727.05,1529.66 1728.14,1531.22 1729.23,1532.8 1730.33,1534.42 1731.42,1536.1 1732.51,1537.82 1733.6,1539.61 1734.7,1541.45 1735.79,1543.34 1736.88,1545.27 1737.98,1547.24 1739.07,1549.26 1740.16,1551.32 1741.26,1553.41 1742.35,1555.55 1743.44,1557.72 1744.53,1559.93 1745.63,1562.18 1746.72,1564.46 1747.81,1566.79 1748.91,1569.18 1750,1571.62 1751.09,1574.11 1752.18,1576.64 1753.28,1579.22 1754.37,1581.84 1755.46,1584.5 1756.56,1587.19 1757.65,1589.91 1758.74,1592.67 1759.83,1595.46 1760.93,1598.29 1762.02,1601.17 1763.11,1604.1 1764.21,1607.08 1765.3,1610.12 1766.39,1613.22 1767.49,1616.38 1768.58,1619.6 1769.67,1622.88 1770.76,1626.2 1771.86,1629.58 1772.95,1633.05 1774.04,1636.64 1775.14,1640.37 1776.23,1644.28 1777.32,1648.49 1778.41,1654.05 1779.51,1660.42 1780.6,1666.6 1781.69,1671.54 1782.79,1674.22 1783.88,1674.06 1784.97,1672.08 1786.07,1668.58 1787.16,1663.76 1788.25,1657.83 1789.34,1650.98 1790.44,1642.1 1791.53,1625.3 1792.62,1607.25 1793.72,1589.44 1794.81,1573.3 1795.9,1562.99 1796.99,1554.74 1798.09,1547.84 1799.18,1542 1800.27,1536.91 1801.37,1532.35 1802.46,1528.22 1803.55,1524.47 1804.65,1521.03 1805.74,1517.83 1806.83,1514.82 1807.92,1511.91 1809.02,1509.1 1810.11,1506.41 1811.2,1503.83 1812.3,1501.37 1813.39,1499.01 1814.48,1496.75 1815.57,1494.58 1816.67,1492.51 1817.76,1490.53 1818.85,1488.63 1819.95,1486.8 1821.04,1485.05 1822.13,1483.37 1823.23,1481.74 1824.32,1480.16 1825.41,1478.62 1826.5,1477.11 1827.6,1475.64 1828.69,1474.18 1829.78,1472.74 1830.88,1471.29 1831.97,1469.85 1833.06,1468.4 1834.15,1466.97 1835.25,1465.57 1836.34,1464.19 1837.43,1462.83 1838.53,1461.49 1839.62,1460.16 1840.71,1458.84 1841.8,1457.52 1842.9,1456.21 1843.99,1454.9 1845.08,1453.59 1846.18,1452.27 1847.27,1450.94 1848.36,1449.59 1849.46,1448.23 1850.55,1446.85 1851.64,1445.45 1852.73,1444.02 1853.83,1442.59 1854.92,1441.15 1856.01,1439.71 1857.11,1438.28 1858.2,1436.87 1859.29,1435.47 1860.38,1434.1 1861.48,1432.77 1862.57,1431.47 1863.66,1430.22 1864.76,1429.02 1865.85,1427.83 1866.94,1426.66 1868.04,1425.51 1869.13,1424.38 1870.22,1423.26 1871.31,1422.16 1872.41,1421.07 1873.5,1420 1874.59,1418.94 1875.69,1417.89 1876.78,1416.85 1877.87,1415.82 1878.96,1414.8 1880.06,1413.79 1881.15,1412.78 1882.24,1411.77 1883.34,1410.77 1884.43,1409.78 1885.52,1408.78 1886.62,1407.79 1887.71,1406.79 1888.8,1405.79 1889.89,1404.79 1890.99,1403.79 1892.08,1402.79 1893.17,1401.79 1894.27,1400.79 1895.36,1399.79 1896.45,1398.8 1897.54,1397.82 1898.64,1396.84 1899.73,1395.88 1900.82,1394.92 1901.92,1393.97 1903.01,1393.04 1904.1,1392.13 1905.19,1391.23 1906.29,1390.34 1907.38,1389.48 1908.47,1388.63 1909.57,1387.81 1910.66,1387.01 1911.75,1386.23 1912.85,1385.47 1913.94,1384.72 1915.03,1383.97 1916.12,1383.23 1917.22,1382.5 1918.31,1381.78 1919.4,1381.07 1920.5,1380.37 1921.59,1379.68 1922.68,1379 1923.77,1378.34 1924.87,1377.68 1925.96,1377.04 1927.05,1376.4 1928.15,1375.78 1929.24,1375.17 1930.33,1374.58 1931.43,1374 1932.52,1373.43 1933.61,1372.88 1934.7,1372.34 1935.8,1371.81 1936.89,1371.3 1936.89,1374.24 1935.8,1374.62 1934.7,1375 1933.61,1375.38 1932.52,1375.76 1931.43,1376.15 1930.33,1376.53 1929.24,1376.92 1928.15,1377.31 1927.05,1377.7 1925.96,1378.09 1924.87,1378.48 1923.77,1378.87 1922.68,1379.27 1921.59,1379.66 1920.5,1380.06 1919.4,1380.46 1918.31,1380.86 1917.22,1381.26 1916.12,1381.66 1915.03,1382.06 1913.94,1382.46 1912.85,1382.87 1911.75,1383.27 1910.66,1383.68 1909.57,1384.09 1908.47,1384.5 1907.38,1384.91 1906.29,1385.32 1905.19,1385.73 1904.1,1386.15 1903.01,1386.56 1901.92,1386.98 1900.82,1387.4 1899.73,1387.82 1898.64,1388.23 1897.54,1388.66 1896.45,1389.08 1895.36,1389.5 1894.27,1389.92 1893.17,1390.35 1892.08,1390.77 1890.99,1391.2 1889.89,1391.63 1888.8,1392.06 1887.71,1392.49 1886.62,1392.92 1885.52,1393.35 1884.43,1393.77 1883.34,1394.2 1882.24,1394.63 1881.15,1395.05 1880.06,1395.48 1878.96,1395.91 1877.87,1396.33 1876.78,1396.76 1875.69,1397.18 1874.59,1397.61 1873.5,1398.04 1872.41,1398.47 1871.31,1398.9 1870.22,1399.33 1869.13,1399.77 1868.04,1400.2 1866.94,1400.64 1865.85,1401.08 1864.76,1401.52 1863.66,1401.96 1862.57,1402.41 1861.48,1402.86 1860.38,1403.31 1859.29,1403.76 1858.2,1404.22 1857.11,1404.68 1856.01,1405.15 1854.92,1405.62 1853.83,1406.09 1852.73,1406.57 1851.64,1407.05 1850.55,1407.53 1849.46,1408.02 1848.36,1408.52 1847.27,1409.02 1846.18,1409.52 1845.08,1410.03 1843.99,1410.55 1842.9,1411.07 1841.8,1411.6 1840.71,1412.13 1839.62,1412.67 1838.53,1413.22 1837.43,1413.77 1836.34,1414.33 1835.25,1414.89 1834.15,1415.46 1833.06,1416.04 1831.97,1416.62 1830.88,1417.21 1829.78,1417.81 1828.69,1418.41 1827.6,1419.01 1826.5,1419.63 1825.41,1420.24 1824.32,1420.87 1823.23,1421.5 1822.13,1422.13 1821.04,1422.77 1819.95,1423.41 1818.85,1424.06 1817.76,1424.72 1816.67,1425.38 1815.57,1426.05 1814.48,1426.72 1813.39,1427.39 1812.3,1428.07 1811.2,1428.76 1810.11,1429.45 1809.02,1430.14 1807.92,1430.84 1806.83,1431.54 1805.74,1432.25 1804.65,1432.96 1803.55,1433.68 1802.46,1434.4 1801.37,1435.12 1800.27,1435.85 1799.18,1436.58 1798.09,1437.32 1796.99,1438.06 1795.9,1438.8 1794.81,1439.55 1793.72,1440.3 1792.62,1441.05 1791.53,1441.81 1790.44,1442.57 1789.34,1443.34 1788.25,1444.11 1787.16,1444.88 1786.07,1445.66 1784.97,1446.45 1783.88,1447.24 1782.79,1448.03 1781.69,1448.84 1780.6,1449.65 1779.51,1450.46 1778.41,1451.29 1777.32,1452.12 1776.23,1452.96 1775.14,1453.81 1774.04,1454.67 1772.95,1455.54 1771.86,1456.41 1770.76,1457.3 1769.67,1458.2 1768.58,1459.11 1767.49,1460.03 1766.39,1460.96 1765.3,1461.91 1764.21,1462.87 1763.11,1463.84 1762.02,1464.82 1760.93,1465.82 1759.83,1466.83 1758.74,1467.85 1757.65,1468.89 1756.56,1469.95 1755.46,1471.02 1754.37,1472.13 1753.28,1473.25 1752.18,1474.4 1751.09,1475.57 1750,1476.76 1748.91,1477.97 1747.81,1479.2 1746.72,1480.45 1745.63,1481.72 1744.53,1483.01 1743.44,1484.31 1742.35,1485.64 1741.26,1486.97 1740.16,1488.33 1739.07,1489.7 1737.98,1491.08 1736.88,1492.48 1735.79,1493.89 1734.7,1495.32 1733.6,1496.76 1732.51,1498.21 1731.42,1499.67 1730.33,1501.14 1729.23,1502.62 1728.14,1504.1 1727.05,1505.61 1725.95,1507.17 1724.86,1508.8 1723.77,1510.48 1722.68,1512.19 1721.58,1513.9 1720.49,1515.61 1719.4,1517.28 1718.3,1518.91 1717.21,1520.49 1716.12,1522.05 1715.02,1523.58 1713.93,1525.1 1712.84,1526.61 1711.75,1528.13 1710.65,1529.66 1709.56,1531.22 1708.47,1532.8 1707.37,1534.42 1706.28,1536.1 1705.19,1537.82 1704.1,1539.61 1703,1541.45 1701.91,1543.34 1700.82,1545.27 1699.72,1547.24 1698.63,1549.26 1697.54,1551.32 1696.44,1553.41 1695.35,1555.55 1694.26,1557.72 1693.17,1559.93 1692.07,1562.18 1690.98,1564.46 1689.89,1566.79 1688.79,1569.18 1687.7,1571.62 1686.61,1574.11 1685.52,1576.64 1684.42,1579.22 1683.33,1581.84 1682.24,1584.5 1681.14,1587.19 1680.05,1589.91 1678.96,1592.67 1677.87,1595.46 1676.77,1598.29 1675.68,1601.17 1674.59,1604.1 1673.49,1607.08 1672.4,1610.12 1671.31,1613.22 1670.21,1616.38 1669.12,1619.6 1668.03,1622.88 1666.94,1626.2 1665.84,1629.58 1664.75,1633.05 1663.66,1636.64 1662.56,1640.37 1661.47,1644.28 1660.38,1648.49 1659.29,1654.05 1658.19,1660.42 1657.1,1666.6 1656.01,1671.54 1654.91,1674.22 1653.82,1674.06 1652.73,1672.08 1651.63,1668.58 1650.54,1663.76 1649.45,1657.83 1648.36,1650.98 1647.26,1642.1 1646.17,1625.3 1645.08,1607.25 1643.98,1589.44 1642.89,1573.3 1641.8,1562.99 1640.71,1554.74 1639.61,1547.84 1638.52,1542 1637.43,1536.91 1636.33,1532.35 1635.24,1528.22 1634.15,1524.47 1633.05,1521.03 1631.96,1517.83 1630.87,1514.82 1629.78,1511.91 1628.68,1509.1 1627.59,1506.41 1626.5,1503.83 1625.4,1501.37 1624.31,1499.01 1623.22,1496.75 1622.13,1494.58 1621.03,1492.51 1619.94,1490.53 1618.85,1488.63 1617.75,1486.8 1616.66,1485.05 1615.57,1483.37 1614.47,1481.74 1613.38,1480.16 1612.29,1478.62 1611.2,1477.11 1610.1,1475.64 1609.01,1474.18 1607.92,1472.74 1606.82,1471.29 1605.73,1469.85 1604.64,1468.4 1603.55,1466.97 1602.45,1465.57 1601.36,1464.19 1600.27,1462.83 1599.17,1461.49 1598.08,1460.16 1596.99,1458.84 1595.9,1457.52 1594.8,1456.21 1593.71,1454.9 1592.62,1453.59 1591.52,1452.27 1590.43,1450.94 1589.34,1449.59 1588.24,1448.23 1587.15,1446.85 1586.06,1445.45 1584.97,1444.02 1583.87,1442.59 1582.78,1441.15 1581.69,1439.71 1580.59,1438.28 1579.5,1436.87 1578.41,1435.47 1577.32,1434.1 1576.22,1432.77 1575.13,1431.47 1574.04,1430.22 1572.94,1429.02 1571.85,1427.83 1570.76,1426.66 1569.66,1425.51 1568.57,1424.38 1567.48,1423.26 1566.39,1422.16 1565.29,1421.07 1564.2,1420 1563.11,1418.94 1562.01,1417.89 1560.92,1416.85 1559.83,1415.82 1558.74,1414.8 1557.64,1413.79 1556.55,1412.78 1555.46,1411.77 1554.36,1410.77 1553.27,1409.78 1552.18,1408.78 1551.08,1407.79 1549.99,1406.79 1548.9,1405.79 1547.81,1404.79 1546.71,1403.79 1545.62,1402.79 1544.53,1401.79 1543.43,1400.79 1542.34,1399.79 1541.25,1398.8 1540.16,1397.82 1539.06,1396.84 1537.97,1395.88 1536.88,1394.92 1535.78,1393.97 1534.69,1393.04 1533.6,1392.13 1532.51,1391.23 1531.41,1390.34 1530.32,1389.48 1529.23,1388.63 1528.13,1387.81 1527.04,1387.01 1525.95,1386.23 1524.85,1385.47 1523.76,1384.72 1522.67,1383.97 1521.58,1383.23 1520.48,1382.5 1519.39,1381.78 1518.3,1381.07 1517.2,1380.37 1516.11,1379.68 1515.02,1379 1513.93,1378.34 1512.83,1377.68 1511.74,1377.04 1510.65,1376.4 1509.55,1375.78 1508.46,1375.17 1507.37,1374.58 1506.27,1374 1505.18,1373.43 1504.09,1372.88 1503,1372.34 1501.9,1371.81 1500.81,1371.3" fill="none" stroke="#3579BE" stroke-width="5.3" stroke-linejoin="round" stroke-linecap="round"/>
<polyline points="1500.81,1393.61 1501.9,1393.92 1503,1394.24 1504.09,1394.56 1505.18,1394.88 1506.27,1395.2 1507.37,1395.52 1508.46,1395.85 1509.55,1396.19 1510.65,1396.52 1511.74,1396.86 1512.83,1397.2 1513.93,1397.54 1515.02,1397.89 1516.11,1398.23 1517.2,1398.59 1518.3,1398.94 1519.39,1399.3 1520.48,1399.66 1521.58,1400.02 1522.67,1400.38 1523.76,1400.75 1524.85,1401.12 1525.95,1401.49 1527.04,1401.86 1528.13,1402.24 1529.23,1402.62 1530.32,1403 1531.41,1403.39 1532.51,1403.77 1533.6,1404.16 1534.69,1404.55 1535.78,1404.94 1536.88,1405.34 1537.97,1405.74 1539.06,1406.14 1540.16,1406.54 1541.25,1406.94 1542.34,1407.35 1543.43,1407.76 1544.53,1408.17 1545.62,1408.58 1546.71,1408.99 1547.81,1409.41 1548.9,1409.83 1549.99,1410.25 1551.08,1410.67 1552.18,1411.1 1553.27,1411.53 1554.36,1411.96 1555.46,1412.4 1556.55,1412.84 1557.64,1413.29 1558.74,1413.74 1559.83,1414.19 1560.92,1414.65 1562.01,1415.1 1563.11,1415.57 1564.2,1416.03 1565.29,1416.5 1566.39,1416.97 1567.48,1417.44 1568.57,1417.92 1569.66,1418.4 1570.76,1418.89 1571.85,1419.37 1572.94,1419.86 1574.04,1420.35 1575.13,1420.85 1576.22,1421.34 1577.32,1421.84 1578.41,1422.34 1579.5,1422.85 1580.59,1423.36 1581.69,1423.87 1582.78,1424.38 1583.87,1424.89 1584.97,1425.41 1586.06,1425.93 1587.15,1426.45 1588.24,1426.97 1589.34,1427.49 1590.43,1428.02 1591.52,1428.55 1592.62,1429.08 1593.71,1429.61 1594.8,1430.14 1595.9,1430.68 1596.99,1431.22 1598.08,1431.75 1599.17,1432.29 1600.27,1432.83 1601.36,1433.37 1602.45,1433.91 1603.55,1434.45 1604.64,1434.99 1605.73,1435.54 1606.82,1436.08 1607.92,1436.62 1609.01,1437.17 1610.1,1437.72 1611.2,1438.27 1612.29,1438.82 1613.38,1439.38 1614.47,1439.94 1615.57,1440.5 1616.66,1441.07 1617.75,1441.64 1618.85,1442.21 1619.94,1442.78 1621.03,1443.37 1622.13,1443.95 1623.22,1444.54 1624.31,1445.13 1625.4,1445.73 1626.5,1446.34 1627.59,1446.95 1628.68,1447.57 1629.78,1448.19 1630.87,1448.82 1631.96,1449.45 1633.05,1450.09 1634.15,1450.74 1635.24,1451.39 1636.33,1452.06 1637.43,1452.73 1638.52,1453.4 1639.61,1454.09 1640.71,1454.78 1641.8,1455.48 1642.89,1456.19 1643.98,1456.91 1645.08,1457.64 1646.17,1458.38 1647.26,1459.15 1648.36,1459.93 1649.45,1460.73 1650.54,1461.55 1651.63,1462.38 1652.73,1463.23 1653.82,1464.09 1654.91,1464.97 1656.01,1465.86 1657.1,1466.76 1658.19,1467.67 1659.29,1468.59 1660.38,1469.53 1661.47,1470.47 1662.56,1471.41 1663.66,1472.37 1664.75,1473.33 1665.84,1474.29 1666.94,1475.26 1668.03,1476.23 1669.12,1477.21 1670.21,1478.18 1671.31,1479.16 1672.4,1480.13 1673.49,1481.1 1674.59,1482.08 1675.68,1483.04 1676.77,1484.01 1677.87,1484.97 1678.96,1485.92 1680.05,1486.87 1681.14,1487.81 1682.24,1488.77 1683.33,1489.75 1684.42,1490.74 1685.52,1491.75 1686.61,1492.78 1687.7,1493.81 1688.79,1494.85 1689.89,1495.9 1690.98,1496.95 1692.07,1498.01 1693.17,1499.06 1694.26,1500.1 1695.35,1501.15 1696.44,1502.18 1697.54,1503.2 1698.63,1504.21 1699.72,1505.2 1700.82,1506.18 1701.91,1507.13 1703,1508.06 1704.1,1508.97 1705.19,1509.85 1706.28,1510.69 1707.37,1511.51 1708.47,1512.29 1709.56,1513.04 1710.65,1513.74 1711.75,1514.38 1712.84,1514.97 1713.93,1515.53 1715.02,1516.06 1716.12,1516.61 1717.21,1517.17 1718.3,1517.78 1719.4,1518.43 1720.49,1519.12 1721.58,1519.82 1722.68,1520.54 1723.77,1521.27 1724.86,1522.03 1725.95,1522.81 1727.05,1523.61 1728.14,1524.43 1729.23,1525.27 1730.33,1526.14 1731.42,1527.03 1732.51,1527.94 1733.6,1528.88 1734.7,1529.86 1735.79,1530.88 1736.88,1531.94 1737.98,1533.03 1739.07,1534.15 1740.16,1535.3 1741.26,1536.48 1742.35,1537.68 1743.44,1538.9 1744.53,1540.14 1745.63,1541.4 1746.72,1542.67 1747.81,1543.95 1748.91,1545.23 1750,1546.52 1751.09,1547.82 1752.18,1549.11 1753.28,1550.4 1754.37,1551.69 1755.46,1552.97 1756.56,1554.23 1757.65,1555.49 1758.74,1556.72 1759.83,1557.95 1760.93,1559.18 1762.02,1560.42 1763.11,1561.65 1764.21,1562.89 1765.3,1564.14 1766.39,1565.38 1767.49,1566.63 1768.58,1567.88 1769.67,1569.13 1770.76,1570.38 1771.86,1571.63 1772.95,1572.89 1774.04,1574.14 1775.14,1575.4 1776.23,1576.65 1777.32,1577.91 1778.41,1579.16 1779.51,1580.42 1780.6,1581.67 1781.69,1582.92 1782.79,1584.18 1783.88,1585.43 1784.97,1586.68 1786.07,1588.03 1787.16,1589.48 1788.25,1591.03 1789.34,1592.64 1790.44,1594.28 1791.53,1595.95 1792.62,1597.6 1793.72,1599.22 1794.81,1600.79 1795.9,1602.28 1796.99,1603.67 1798.09,1604.93 1799.18,1606.04 1800.27,1606.97 1801.37,1607.71 1802.46,1608.22 1803.55,1608.49 1804.65,1608.38 1805.74,1607.27 1806.83,1605.28 1807.92,1602.64 1809.02,1599.6 1810.11,1596.39 1811.2,1592.84 1812.3,1588.13 1813.39,1582.62 1814.48,1576.76 1815.57,1571 1816.67,1565.47 1817.76,1559.7 1818.85,1553.89 1819.95,1548.28 1821.04,1543.13 1822.13,1538.37 1823.23,1533.84 1824.32,1529.49 1825.41,1525.28 1826.5,1521.16 1827.6,1517.08 1828.69,1512.95 1829.78,1508.8 1830.88,1504.74 1831.97,1500.88 1833.06,1497.3 1834.15,1494.12 1835.25,1491.31 1836.34,1488.68 1837.43,1486.18 1838.53,1483.82 1839.62,1481.58 1840.71,1479.44 1841.8,1477.4 1842.9,1475.43 1843.99,1473.53 1845.08,1471.69 1846.18,1469.88 1847.27,1468.11 1848.36,1466.37 1849.46,1464.68 1850.55,1463.02 1851.64,1461.41 1852.73,1459.83 1853.83,1458.29 1854.92,1456.78 1856.01,1455.32 1857.11,1453.89 1858.2,1452.5 1859.29,1451.14 1860.38,1449.82 1861.48,1448.54 1862.57,1447.29 1863.66,1446.07 1864.76,1444.89 1865.85,1443.74 1866.94,1442.61 1868.04,1441.51 1869.13,1440.43 1870.22,1439.37 1871.31,1438.34 1872.41,1437.32 1873.5,1436.32 1874.59,1435.35 1875.69,1434.38 1876.78,1433.44 1877.87,1432.5 1878.96,1431.58 1880.06,1430.67 1881.15,1429.77 1882.24,1428.88 1883.34,1428 1884.43,1427.13 1885.52,1426.26 1886.62,1425.4 1887.71,1424.54 1888.8,1423.68 1889.89,1422.84 1890.99,1422 1892.08,1421.17 1893.17,1420.35 1894.27,1419.54 1895.36,1418.74 1896.45,1417.95 1897.54,1417.16 1898.64,1416.39 1899.73,1415.62 1900.82,1414.86 1901.92,1414.11 1903.01,1413.36 1904.1,1412.63 1905.19,1411.9 1906.29,1411.18 1907.38,1410.47 1908.47,1409.76 1909.57,1409.06 1910.66,1408.37 1911.75,1407.69 1912.85,1407.01 1913.94,1406.34 1915.03,1405.67 1916.12,1405.01 1917.22,1404.35 1918.31,1403.7 1919.4,1403.06 1920.5,1402.42 1921.59,1401.78 1922.68,1401.16 1923.77,1400.53 1924.87,1399.92 1925.96,1399.31 1927.05,1398.71 1928.15,1398.12 1929.24,1397.53 1930.33,1396.95 1931.43,1396.37 1932.52,1395.81 1933.61,1395.25 1934.7,1394.7 1935.8,1394.15 1936.89,1393.61 1936.89,1393.61 1935.8,1393.92 1934.7,1394.24 1933.61,1394.56 1932.52,1394.88 1931.43,1395.2 1930.33,1395.52 1929.24,1395.85 1928.15,1396.19 1927.05,1396.52 1925.96,1396.86 1924.87,1397.2 1923.77,1397.54 1922.68,1397.89 1921.59,1398.23 1920.5,1398.59 1919.4,1398.94 1918.31,1399.3 1917.22,1399.66 1916.12,1400.02 1915.03,1400.38 1913.94,1400.75 1912.85,1401.12 1911.75,1401.49 1910.66,1401.86 1909.57,1402.24 1908.47,1402.62 1907.38,1403 1906.29,1403.39 1905.19,1403.77 1904.1,1404.16 1903.01,1404.55 1901.92,1404.94 1900.82,1405.34 1899.73,1405.74 1898.64,1406.14 1897.54,1406.54 1896.45,1406.94 1895.36,1407.35 1894.27,1407.76 1893.17,1408.17 1892.08,1408.58 1890.99,1408.99 1889.89,1409.41 1888.8,1409.83 1887.71,1410.25 1886.62,1410.67 1885.52,1411.1 1884.43,1411.53 1883.34,1411.96 1882.24,1412.4 1881.15,1412.84 1880.06,1413.29 1878.96,1413.74 1877.87,1414.19 1876.78,1414.65 1875.69,1415.1 1874.59,1415.57 1873.5,1416.03 1872.41,1416.5 1871.31,1416.97 1870.22,1417.44 1869.13,1417.92 1868.04,1418.4 1866.94,1418.89 1865.85,1419.37 1864.76,1419.86 1863.66,1420.35 1862.57,1420.85 1861.48,1421.34 1860.38,1421.84 1859.29,1422.34 1858.2,1422.85 1857.11,1423.36 1856.01,1423.87 1854.92,1424.38 1853.83,1424.89 1852.73,1425.41 1851.64,1425.93 1850.55,1426.45 1849.46,1426.97 1848.36,1427.49 1847.27,1428.02 1846.18,1428.55 1845.08,1429.08 1843.99,1429.61 1842.9,1430.14 1841.8,1430.68 1840.71,1431.22 1839.62,1431.75 1838.53,1432.29 1837.43,1432.83 1836.34,1433.37 1835.25,1433.91 1834.15,1434.45 1833.06,1434.99 1831.97,1435.54 1830.88,1436.08 1829.78,1436.62 1828.69,1437.17 1827.6,1437.72 1826.5,1438.27 1825.41,1438.82 1824.32,1439.38 1823.23,1439.94 1822.13,1440.5 1821.04,1441.07 1819.95,1441.64 1818.85,1442.21 1817.76,1442.78 1816.67,1443.37 1815.57,1443.95 1814.48,1444.54 1813.39,1445.13 1812.3,1445.73 1811.2,1446.34 1810.11,1446.95 1809.02,1447.57 1807.92,1448.19 1806.83,1448.82 1805.74,1449.45 1804.65,1450.09 1803.55,1450.74 1802.46,1451.39 1801.37,1452.06 1800.27,1452.73 1799.18,1453.4 1798.09,1454.09 1796.99,1454.78 1795.9,1455.48 1794.81,1456.19 1793.72,1456.91 1792.62,1457.64 1791.53,1458.38 1790.44,1459.15 1789.34,1459.93 1788.25,1460.73 1787.16,1461.55 1786.07,1462.38 1784.97,1463.23 1783.88,1464.09 1782.79,1464.97 1781.69,1465.86 1780.6,1466.76 1779.51,1467.67 1778.41,1468.59 1777.32,1469.53 1776.23,1470.47 1775.14,1471.41 1774.04,1472.37 1772.95,1473.33 1771.86,1474.29 1770.76,1475.26 1769.67,1476.23 1768.58,1477.21 1767.49,1478.18 1766.39,1479.16 1765.3,1480.13 1764.21,1481.1 1763.11,1482.08 1762.02,1483.04 1760.93,1484.01 1759.83,1484.97 1758.74,1485.92 1757.65,1486.87 1756.56,1487.81 1755.46,1488.77 1754.37,1489.75 1753.28,1490.74 1752.18,1491.75 1751.09,1492.78 1750,1493.81 1748.91,1494.85 1747.81,1495.9 1746.72,1496.95 1745.63,1498.01 1744.53,1499.06 1743.44,1500.1 1742.35,1501.15 1741.26,1502.18 1740.16,1503.2 1739.07,1504.21 1737.98,1505.2 1736.88,1506.18 1735.79,1507.13 1734.7,1508.06 1733.6,1508.97 1732.51,1509.85 1731.42,1510.69 1730.33,1511.51 1729.23,1512.29 1728.14,1513.04 1727.05,1513.74 1725.95,1514.38 1724.86,1514.97 1723.77,1515.53 1722.68,1516.06 1721.58,1516.61 1720.49,1517.17 1719.4,1517.78 1718.3,1518.43 1717.21,1519.12 1716.12,1519.82 1715.02,1520.54 1713.93,1521.27 1712.84,1522.03 1711.75,1522.81 1710.65,1523.61 1709.56,1524.43 1708.47,1525.27 1707.37,1526.14 1706.28,1527.03 1705.19,1527.94 1704.1,1528.88 1703,1529.86 1701.91,1530.88 1700.82,1531.94 1699.72,1533.03 1698.63,1534.15 1697.54,1535.3 1696.44,1536.48 1695.35,1537.68 1694.26,1538.9 1693.17,1540.14 1692.07,1541.4 1690.98,1542.67 1689.89,1543.95 1688.79,1545.23 1687.7,1546.52 1686.61,1547.82 1685.52,1549.11 1684.42,1550.4 1683.33,1551.69 1682.24,1552.97 1681.14,1554.23 1680.05,1555.49 1678.96,1556.72 1677.87,1557.95 1676.77,1559.18 1675.68,1560.42 1674.59,1561.65 1673.49,1562.89 1672.4,1564.14 1671.31,1565.38 1670.21,1566.63 1669.12,1567.88 1668.03,1569.13 1666.94,1570.38 1665.84,1571.63 1664.75,1572.89 1663.66,1574.14 1662.56,1575.4 1661.47,1576.65 1660.38,1577.91 1659.29,1579.16 1658.19,1580.42 1657.1,1581.67 1656.01,1582.92 1654.91,1584.18 1653.82,1585.43 1652.73,1586.68 1651.63,1588.03 1650.54,1589.48 1649.45,1591.03 1648.36,1592.64 1647.26,1594.28 1646.17,1595.95 1645.08,1597.6 1643.98,1599.22 1642.89,1600.79 1641.8,1602.28 1640.71,1603.67 1639.61,1604.93 1638.52,1606.04 1637.43,1606.97 1636.33,1607.71 1635.24,1608.22 1634.15,1608.49 1633.05,1608.38 1631.96,1607.27 1630.87,1605.28 1629.78,1602.64 1628.68,1599.6 1627.59,1596.39 1626.5,1592.84 1625.4,1588.13 1624.31,1582.62 1623.22,1576.76 1622.13,1571 1621.03,1565.47 1619.94,1559.7 1618.85,1553.89 1617.75,1548.28 1616.66,1543.13 1615.57,1538.37 1614.47,1533.84 1613.38,1529.49 1612.29,1525.28 1611.2,1521.16 1610.1,1517.08 1609.01,1512.95 1607.92,1508.8 1606.82,1504.74 1605.73,1500.88 1604.64,1497.3 1603.55,1494.12 1602.45,1491.31 1601.36,1488.68 1600.27,1486.18 1599.17,1483.82 1598.08,1481.58 1596.99,1479.44 1595.9,1477.4 1594.8,1475.43 1593.71,1473.53 1592.62,1471.69 1591.52,1469.88 1590.43,1468.11 1589.34,1466.37 1588.24,1464.68 1587.15,1463.02 1586.06,1461.41 1584.97,1459.83 1583.87,1458.29 1582.78,1456.78 1581.69,1455.32 1580.59,1453.89 1579.5,1452.5 1578.41,1451.14 1577.32,1449.82 1576.22,1448.54 1575.13,1447.29 1574.04,1446.07 1572.94,1444.89 1571.85,1443.74 1570.76,1442.61 1569.66,1441.51 1568.57,1440.43 1567.48,1439.37 1566.39,1438.34 1565.29,1437.32 1564.2,1436.32 1563.11,1435.35 1562.01,1434.38 1560.92,1433.44 1559.83,1432.5 1558.74,1431.58 1557.64,1430.67 1556.55,1429.77 1555.46,1428.88 1554.36,1428 1553.27,1427.13 1552.18,1426.26 1551.08,1425.4 1549.99,1424.54 1548.9,1423.68 1547.81,1422.84 1546.71,1422 1545.62,1421.17 1544.53,1420.35 1543.43,1419.54 1542.34,1418.74 1541.25,1417.95 1540.16,1417.16 1539.06,1416.39 1537.97,1415.62 1536.88,1414.86 1535.78,1414.11 1534.69,1413.36 1533.6,1412.63 1532.51,1411.9 1531.41,1411.18 1530.32,1410.47 1529.23,1409.76 1528.13,1409.06 1527.04,1408.37 1525.95,1407.69 1524.85,1407.01 1523.76,1406.34 1522.67,1405.67 1521.58,1405.01 1520.48,1404.35 1519.39,1403.7 1518.3,1403.06 1517.2,1402.42 1516.11,1401.78 1515.02,1401.16 1513.93,1400.53 1512.83,1399.92 1511.74,1399.31 1510.65,1398.71 1509.55,1398.12 1508.46,1397.53 1507.37,1396.95 1506.27,1396.37 1505.18,1395.81 1504.09,1395.25 1503,1394.7 1501.9,1394.15 1500.81,1393.61" fill="none" stroke="#4BAD4A" stroke-width="5.3" stroke-linejoin="round" stroke-linecap="round"/>
<rect x="1446.3" y="1297.9" width="545.1" height="440.4" fill="none" stroke="#000" stroke-width="1.4"/>
<line x1="1438.3" y1="1371.3" x2="1446.3" y2="1371.3" stroke="#000" stroke-width="1.4"/>
<line x1="1438.3" y1="1518.1" x2="1446.3" y2="1518.1" stroke="#000" stroke-width="1.4"/>
<line x1="1438.3" y1="1664.9" x2="1446.3" y2="1664.9" stroke="#000" stroke-width="1.4"/>
<line x1="1441.8" y1="1297.9" x2="1446.3" y2="1297.9" stroke="#000" stroke-width="1.4"/>
<line x1="1441.8" y1="1444.7" x2="1446.3" y2="1444.7" stroke="#000" stroke-width="1.4"/>
<line x1="1441.8" y1="1591.5" x2="1446.3" y2="1591.5" stroke="#000" stroke-width="1.4"/>
<line x1="1441.8" y1="1738.3" x2="1446.3" y2="1738.3" stroke="#000" stroke-width="1.4"/>
<line x1="1500.81" y1="1738.3" x2="1500.81" y2="1746.3" stroke="#000" stroke-width="1.4"/>
<line x1="1609.83" y1="1738.3" x2="1609.83" y2="1746.3" stroke="#000" stroke-width="1.4"/>
<line x1="1718.85" y1="1738.3" x2="1718.85" y2="1746.3" stroke="#000" stroke-width="1.4"/>
<line x1="1827.87" y1="1738.3" x2="1827.87" y2="1746.3" stroke="#000" stroke-width="1.4"/>
<line x1="1936.89" y1="1738.3" x2="1936.89" y2="1746.3" stroke="#000" stroke-width="1.4"/>
<line x1="1446.3" y1="1738.3" x2="1446.3" y2="1742.8" stroke="#000" stroke-width="1.4"/>
<line x1="1555.32" y1="1738.3" x2="1555.32" y2="1742.8" stroke="#000" stroke-width="1.4"/>
<line x1="1664.34" y1="1738.3" x2="1664.34" y2="1742.8" stroke="#000" stroke-width="1.4"/>
<line x1="1773.36" y1="1738.3" x2="1773.36" y2="1742.8" stroke="#000" stroke-width="1.4"/>
<line x1="1882.38" y1="1738.3" x2="1882.38" y2="1742.8" stroke="#000" stroke-width="1.4"/>
<line x1="1991.4" y1="1738.3" x2="1991.4" y2="1742.8" stroke="#000" stroke-width="1.4"/>
<text x="1430.7" y="1381.5" font-size="29" text-anchor="end">0.1</text>
<text x="1430.7" y="1528.3" font-size="29" text-anchor="end">0.0</text>
<text x="1430.7" y="1675.1" font-size="29" text-anchor="end">-0.1</text>
<text x="1500.81" y="1775.4" font-size="28" text-anchor="middle">-2</text>
<text x="1609.83" y="1775.4" font-size="28" text-anchor="middle">-1</text>
<text x="1718.85" y="1775.4" font-size="28" text-anchor="middle">0</text>
<text x="1827.87" y="1775.4" font-size="28" text-anchor="middle">1</text>
<text x="1936.89" y="1775.4" font-size="28" text-anchor="middle">2</text>
<text x="1721.85" y="1832.4" font-size="38" text-anchor="middle"><tspan font-style="italic">E</tspan> (kV mm<tspan font-size="25" dy="-16">&#8211;1</tspan><tspan dy="16" dx="5">)</tspan></text>
<text x="1372.7" y="1507.9" font-size="37" text-anchor="middle" transform="rotate(-90 1372.7 1507.9)"><tspan font-style="italic">S</tspan> (%)</text>
<text x="1887.1" y="1632.5" font-size="31" font-weight="bold" fill="#E41A1C" textLength="83.3" lengthAdjust="spacingAndGlyphs">0.002</text>
<text x="1887.1" y="1675.5" font-size="31" font-weight="bold" fill="#3579BE" textLength="83.3" lengthAdjust="spacingAndGlyphs">0.006</text>
<text x="1887.1" y="1718.5" font-size="31" font-weight="bold" fill="#4BAD4A" textLength="83.3" lengthAdjust="spacingAndGlyphs">0.008</text>
<text x="1362" y="1298" font-size="58" font-weight="bold">f</text>
<text x="439.6" y="1236.3" font-size="48.2" font-weight="bold" textLength="637" lengthAdjust="spacingAndGlyphs">Calculated from diffraction</text>
<text x="1427.2" y="1232.7" font-size="47" font-weight="bold" textLength="562.5" lengthAdjust="spacingAndGlyphs">Macroscopic properties</text>
</svg>
</body></html>
